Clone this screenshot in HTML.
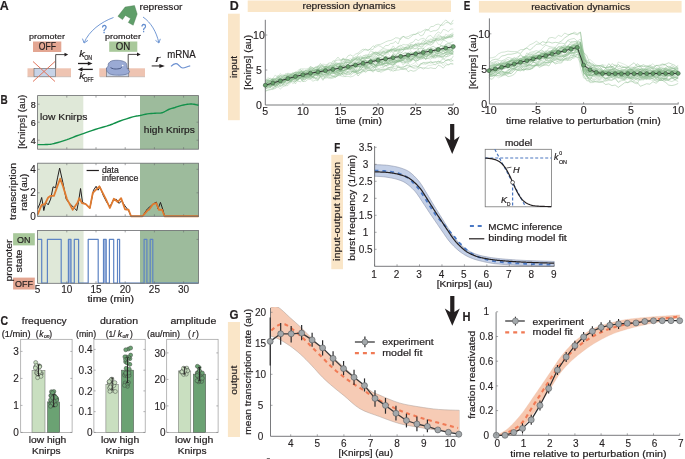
<!DOCTYPE html>
<html><head><meta charset="utf-8"><style>
html,body{margin:0;padding:0;background:#fff;overflow:hidden;}
svg{display:block;font-family:"Liberation Sans", sans-serif;will-change:transform;}
</style></head><body>
<svg width="685" height="459" viewBox="0 0 685 459">
<rect width="685" height="459" fill="#fff"/>
<text x="-0.2" y="10.3" font-size="13" fill="#231f20" stroke="#231f20" stroke-width="0.2" font-weight="bold" textLength="9.0" lengthAdjust="spacingAndGlyphs">A</text>
<polygon points="125.10,7.06 134.50,5.56 137.20,14.05 133.20,25.20 128.30,22.50 130.60,18.60 125.40,15.40 122.50,19.60 117.90,16.30" fill="#5f9e69" stroke="#4a7a52" stroke-width="0.4"/>
<text x="139.5" y="9.8" font-size="9.5" fill="#231f20" stroke="#231f20" stroke-width="0.2" textLength="43" lengthAdjust="spacingAndGlyphs">repressor</text>
<path d="M113.5,17.5 C101,22 89,31 84.2,42.6" fill="none" stroke="#5a87cc" stroke-width="0.85"/>
<polyline points="82.60,39.00 84.10,43.00 87.60,40.60" fill="none" stroke="#5a87cc" stroke-width="0.85" stroke-linejoin="round" stroke-linecap="round"/>
<path d="M143,17 C151,22.5 156.5,32 158.8,42.6" fill="none" stroke="#5a87cc" stroke-width="0.85"/>
<polyline points="155.80,40.60 158.90,43.00 160.20,39.20" fill="none" stroke="#5a87cc" stroke-width="0.85" stroke-linejoin="round" stroke-linecap="round"/>
<text x="101.8" y="33" font-size="10" fill="#5a87cc" stroke="#5a87cc" stroke-width="0.35" textLength="5" lengthAdjust="spacingAndGlyphs">?</text>
<text x="141.3" y="31.7" font-size="10" fill="#5a87cc" stroke="#5a87cc" stroke-width="0.35" textLength="5" lengthAdjust="spacingAndGlyphs">?</text>
<text x="29" y="39.3" font-size="8" fill="#231f20" stroke="#231f20" stroke-width="0.2" textLength="36" lengthAdjust="spacingAndGlyphs">promoter</text>
<rect x="33.00" y="41.50" width="28.30" height="10.50" fill="#e3a692" stroke="none" stroke-width="0.8"/>
<text x="38.7" y="49.9" font-size="10.2" fill="#231f20" stroke="#231f20" stroke-width="0.2" textLength="17.2" lengthAdjust="spacingAndGlyphs">OFF</text>
<text x="105" y="39.3" font-size="8" fill="#231f20" stroke="#231f20" stroke-width="0.2" textLength="36" lengthAdjust="spacingAndGlyphs">promoter</text>
<rect x="109.20" y="41.50" width="28.10" height="10.30" fill="#a9c99b" stroke="none" stroke-width="0.8"/>
<text x="115.7" y="49.9" font-size="10.2" fill="#231f20" stroke="#231f20" stroke-width="0.2" textLength="14.6" lengthAdjust="spacingAndGlyphs">ON</text>
<rect x="27.50" y="68.30" width="43.50" height="8.50" fill="#eec4b2" stroke="none" stroke-width="0.8"/>
<rect x="34.00" y="68.30" width="21.70" height="8.50" fill="#c7d3e7" stroke="#555" stroke-width="0.5"/>
<line x1="27.50" y1="76.80" x2="71.00" y2="76.80" stroke="#aaa" stroke-width="0.5"/>
<rect x="99.30" y="68.30" width="45.70" height="8.50" fill="#eec4b2" stroke="none" stroke-width="0.8"/>
<rect x="106.30" y="68.30" width="22.50" height="8.50" fill="#c7d3e7" stroke="#555" stroke-width="0.5"/>
<line x1="100.00" y1="76.80" x2="145.00" y2="76.80" stroke="#aaa" stroke-width="0.5"/>
<line x1="33.00" y1="61.50" x2="55.00" y2="81.50" stroke="#e2765e" stroke-width="1.0"/>
<line x1="33.00" y1="81.50" x2="55.00" y2="61.50" stroke="#e2765e" stroke-width="1.0"/>
<polyline points="55.70,68.30 55.70,54.60 65.00,54.60" fill="none" stroke="#231f20" stroke-width="0.8" stroke-linejoin="round"/>
<polygon points="64.50,52.80 68.20,54.60 64.50,56.40" fill="#231f20" stroke="none" stroke-width="0.5"/>
<polyline points="128.20,68.30 128.20,54.40 137.50,54.40" fill="none" stroke="#231f20" stroke-width="0.8" stroke-linejoin="round"/>
<polygon points="137.00,52.60 140.70,54.40 137.00,56.20" fill="#231f20" stroke="none" stroke-width="0.5"/>
<path d="M108.2,64.1 C109,62.3 110.5,61 113.1,60.5 C115,60.2 117,60.2 118.3,60.3 C120.5,60.5 122,60.8 123,61.2 C124.8,61.8 126,62.3 126.3,63.2 C126.8,64.5 126.9,66.5 127.4,68.8 C128,70 129.6,70.6 129.5,71.8 C129.3,73 127.5,73.9 126.1,74.3 C124,74.9 121.5,75.2 119.6,75.2 C117,75.2 114.5,75 113.1,74.8 C111,74.4 109.8,74.1 109.2,73.5 C107.5,72.5 106.6,71 106.5,69.6 C106.4,68.5 106.5,67.8 106.9,67.4 C107.4,66.8 108,66.3 108.2,66 Z" fill="#9aaad4" stroke="#56648e" stroke-width="0.6"/>
<path d="M110.5,67.6 C112.5,68.8 114.5,69.1 116.3,69 C118.5,68.9 120,68.6 120.9,68.2 C121.4,67.7 121.6,67 121.8,66.7" fill="none" stroke="#4a5a86" stroke-width="1.0"/>
<circle cx="122.7" cy="65.6" r="0.8" fill="#fff"/>
<text x="79.3" y="57.3" font-size="9" fill="#231f20" stroke="#231f20" stroke-width="0.2" font-style="italic" textLength="5.5" lengthAdjust="spacingAndGlyphs">k</text>
<text x="84.2" y="60.2" font-size="6.5" fill="#231f20" stroke="#231f20" stroke-width="0.2" textLength="8.0" lengthAdjust="spacingAndGlyphs">ON</text>
<text x="79.3" y="78.8" font-size="9" fill="#231f20" stroke="#231f20" stroke-width="0.2" font-style="italic" textLength="5.5" lengthAdjust="spacingAndGlyphs">k</text>
<text x="83.8" y="81.6" font-size="6.5" fill="#231f20" stroke="#231f20" stroke-width="0.2" textLength="9.8" lengthAdjust="spacingAndGlyphs">OFF</text>
<line x1="78.00" y1="63.50" x2="89.50" y2="63.50" stroke="#231f20" stroke-width="1.3"/>
<polygon points="87.80,61.40 92.50,63.50 87.80,65.60" fill="#231f20" stroke="none" stroke-width="0.5"/>
<line x1="81.00" y1="69.40" x2="92.80" y2="69.40" stroke="#231f20" stroke-width="1.3"/>
<polygon points="82.50,67.30 77.80,69.40 82.50,71.50" fill="#231f20" stroke="none" stroke-width="0.5"/>
<text x="155.4" y="62.1" font-size="9.5" fill="#231f20" stroke="#231f20" stroke-width="0.2" font-style="italic" textLength="4.6" lengthAdjust="spacingAndGlyphs">r</text>
<line x1="151.70" y1="65.95" x2="161.00" y2="65.95" stroke="#231f20" stroke-width="1.0"/>
<polygon points="159.40,63.90 164.80,65.95 159.40,68.00" fill="#231f20" stroke="none" stroke-width="0.5"/>
<text x="167.2" y="57.9" font-size="10.5" fill="#231f20" stroke="#231f20" stroke-width="0.2" textLength="28.5" lengthAdjust="spacingAndGlyphs">mRNA</text>
<path d="M171,66.3 C173,64.2 175.3,62.9 177.3,63.9 C179.4,65.1 180.4,68 182.8,68 C185.3,68 187.3,66.3 190.2,65.9" fill="none" stroke="#6a8fd0" stroke-width="1.2"/>
<text x="0.6" y="104.0" font-size="13" fill="#231f20" stroke="#231f20" stroke-width="0.2" font-weight="bold" textLength="7.2" lengthAdjust="spacingAndGlyphs">B</text>
<rect x="37.60" y="95.60" width="45.70" height="53.60" fill="#dfe8d8" stroke="none" stroke-width="0.8"/>
<rect x="140.00" y="95.60" width="58.50" height="53.60" fill="#9dbb9c" stroke="none" stroke-width="0.8"/>
<rect x="37.60" y="95.60" width="160.90" height="53.60" fill="none" stroke="#6a6b6e" stroke-width="0.8"/>
<line x1="37.60" y1="140.20" x2="39.60" y2="140.20" stroke="#6a6b6e" stroke-width="0.6"/>
<line x1="196.50" y1="140.20" x2="198.50" y2="140.20" stroke="#6a6b6e" stroke-width="0.6"/>
<text x="35.8" y="143.79999999999998" font-size="9" fill="#231f20" stroke="#231f20" stroke-width="0.2" text-anchor="end">4</text>
<line x1="37.60" y1="122.20" x2="39.60" y2="122.20" stroke="#6a6b6e" stroke-width="0.6"/>
<line x1="196.50" y1="122.20" x2="198.50" y2="122.20" stroke="#6a6b6e" stroke-width="0.6"/>
<text x="35.8" y="125.79999999999998" font-size="9" fill="#231f20" stroke="#231f20" stroke-width="0.2" text-anchor="end">6</text>
<line x1="37.60" y1="104.20" x2="39.60" y2="104.20" stroke="#6a6b6e" stroke-width="0.6"/>
<line x1="196.50" y1="104.20" x2="198.50" y2="104.20" stroke="#6a6b6e" stroke-width="0.6"/>
<text x="35.8" y="107.79999999999998" font-size="9" fill="#231f20" stroke="#231f20" stroke-width="0.2" text-anchor="end">8</text>
<line x1="66.80" y1="95.60" x2="66.80" y2="97.60" stroke="#6a6b6e" stroke-width="0.6"/>
<line x1="66.80" y1="147.20" x2="66.80" y2="149.20" stroke="#6a6b6e" stroke-width="0.6"/>
<line x1="96.00" y1="95.60" x2="96.00" y2="97.60" stroke="#6a6b6e" stroke-width="0.6"/>
<line x1="96.00" y1="147.20" x2="96.00" y2="149.20" stroke="#6a6b6e" stroke-width="0.6"/>
<line x1="125.20" y1="95.60" x2="125.20" y2="97.60" stroke="#6a6b6e" stroke-width="0.6"/>
<line x1="125.20" y1="147.20" x2="125.20" y2="149.20" stroke="#6a6b6e" stroke-width="0.6"/>
<line x1="154.40" y1="95.60" x2="154.40" y2="97.60" stroke="#6a6b6e" stroke-width="0.6"/>
<line x1="154.40" y1="147.20" x2="154.40" y2="149.20" stroke="#6a6b6e" stroke-width="0.6"/>
<line x1="183.60" y1="95.60" x2="183.60" y2="97.60" stroke="#6a6b6e" stroke-width="0.6"/>
<line x1="183.60" y1="147.20" x2="183.60" y2="149.20" stroke="#6a6b6e" stroke-width="0.6"/>
<text x="25" y="121.7" font-size="9.5" fill="#231f20" stroke="#231f20" stroke-width="0.2" text-anchor="middle" textLength="54" lengthAdjust="spacingAndGlyphs" transform="rotate(-90 25 121.7)">[Knirps] (au)</text>
<text x="40" y="120.1" font-size="9" fill="#231f20" stroke="#231f20" stroke-width="0.2" textLength="47.4" lengthAdjust="spacingAndGlyphs">low Knirps</text>
<text x="143.8" y="133.2" font-size="9" fill="#231f20" stroke="#231f20" stroke-width="0.2" textLength="51" lengthAdjust="spacingAndGlyphs">high Knirps</text>
<polyline points="37.60,144.60 38.75,144.61 40.39,144.62 42.24,144.63 44.00,144.60 45.62,144.56 47.24,144.51 48.89,144.40 50.60,144.20 52.36,143.89 54.15,143.50 56.02,143.03 58.00,142.50 60.16,141.89 62.46,141.19 64.78,140.45 67.00,139.70 69.06,138.92 71.04,138.11 73.00,137.29 75.00,136.50 76.97,135.78 78.92,135.11 80.98,134.40 83.30,133.60 85.91,132.67 88.73,131.65 91.76,130.58 95.00,129.50 98.64,128.39 102.61,127.24 106.52,126.10 110.00,125.00 112.79,123.97 115.14,122.98 117.43,122.00 120.00,121.00 123.11,119.92 126.52,118.79 129.84,117.74 132.70,116.90 134.90,116.36 136.68,116.04 138.29,115.80 140.00,115.50 141.84,115.09 143.68,114.66 145.53,114.24 147.40,113.90 149.30,113.65 151.23,113.48 153.14,113.33 155.00,113.20 156.80,113.15 158.56,113.16 160.29,113.10 162.00,112.80 163.68,112.15 165.34,111.25 166.97,110.30 168.60,109.50 170.21,108.91 171.79,108.42 173.38,107.98 175.00,107.50 176.64,106.96 178.29,106.41 179.98,105.87 181.70,105.40 183.54,104.98 185.46,104.61 187.32,104.30 189.00,104.10 190.42,104.02 191.68,104.05 192.84,104.15 194.00,104.30 195.27,104.54 196.56,104.86 197.70,105.18 198.50,105.40" fill="none" stroke="#12914a" stroke-width="1.4" stroke-linejoin="round"/>
<rect x="37.60" y="163.20" width="45.70" height="53.10" fill="#dfe8d8" stroke="none" stroke-width="0.8"/>
<rect x="140.00" y="163.20" width="58.50" height="53.10" fill="#9dbb9c" stroke="none" stroke-width="0.8"/>
<line x1="37.60" y1="216.30" x2="39.60" y2="216.30" stroke="#6a6b6e" stroke-width="0.6"/>
<line x1="196.50" y1="216.30" x2="198.50" y2="216.30" stroke="#6a6b6e" stroke-width="0.6"/>
<text x="35.8" y="219.9" font-size="10" fill="#231f20" stroke="#231f20" stroke-width="0.12" text-anchor="end">0</text>
<line x1="37.60" y1="192.80" x2="39.60" y2="192.80" stroke="#6a6b6e" stroke-width="0.6"/>
<line x1="196.50" y1="192.80" x2="198.50" y2="192.80" stroke="#6a6b6e" stroke-width="0.6"/>
<text x="35.8" y="196.4" font-size="10" fill="#231f20" stroke="#231f20" stroke-width="0.12" text-anchor="end">2</text>
<line x1="37.60" y1="169.30" x2="39.60" y2="169.30" stroke="#6a6b6e" stroke-width="0.6"/>
<line x1="196.50" y1="169.30" x2="198.50" y2="169.30" stroke="#6a6b6e" stroke-width="0.6"/>
<text x="35.8" y="172.9" font-size="10" fill="#231f20" stroke="#231f20" stroke-width="0.12" text-anchor="end">4</text>
<line x1="66.80" y1="163.20" x2="66.80" y2="165.20" stroke="#6a6b6e" stroke-width="0.6"/>
<line x1="66.80" y1="214.30" x2="66.80" y2="216.30" stroke="#6a6b6e" stroke-width="0.6"/>
<line x1="96.00" y1="163.20" x2="96.00" y2="165.20" stroke="#6a6b6e" stroke-width="0.6"/>
<line x1="96.00" y1="214.30" x2="96.00" y2="216.30" stroke="#6a6b6e" stroke-width="0.6"/>
<line x1="125.20" y1="163.20" x2="125.20" y2="165.20" stroke="#6a6b6e" stroke-width="0.6"/>
<line x1="125.20" y1="214.30" x2="125.20" y2="216.30" stroke="#6a6b6e" stroke-width="0.6"/>
<line x1="154.40" y1="163.20" x2="154.40" y2="165.20" stroke="#6a6b6e" stroke-width="0.6"/>
<line x1="154.40" y1="214.30" x2="154.40" y2="216.30" stroke="#6a6b6e" stroke-width="0.6"/>
<line x1="183.60" y1="163.20" x2="183.60" y2="165.20" stroke="#6a6b6e" stroke-width="0.6"/>
<line x1="183.60" y1="214.30" x2="183.60" y2="216.30" stroke="#6a6b6e" stroke-width="0.6"/>
<text x="15.6" y="191.4" font-size="9.2" fill="#231f20" stroke="#231f20" stroke-width="0.2" text-anchor="middle" textLength="57" lengthAdjust="spacingAndGlyphs" transform="rotate(-90 15.6 191.4)">transcription</text>
<text x="27.2" y="192.2" font-size="9.2" fill="#231f20" stroke="#231f20" stroke-width="0.2" text-anchor="middle" textLength="37" lengthAdjust="spacingAndGlyphs" transform="rotate(-90 27.2 192.2)">rate (au)</text>
<polyline points="37.58,208.92 39.71,204.02 41.67,197.48 42.81,204.02 43.79,210.56 45.75,202.39 48.20,204.84 50.65,199.12 53.10,186.86 55.56,187.68 57.52,177.88 59.64,168.07 62.91,182.78 66.18,199.12 68.63,202.39 73.53,207.29 76.80,210.56 78.43,202.39 80.56,188.50 82.52,202.39 85.78,204.02 89.87,208.10 93.50,190.20 96.10,186.30 98.10,190.20 100.00,186.90 103.30,195.50 106.60,202.00 109.90,206.60 113.80,199.40 116.50,199.40 119.10,203.40 121.70,200.70 125.00,206.00 128.59,210.56 131.05,216.27 142.48,216.27 147.39,208.92 153.10,204.02 156.37,202.06 158.01,208.92 160.46,202.39 162.91,209.74 164.54,216.27 198.53,216.27" fill="none" stroke="#231f20" stroke-width="1.0" stroke-linejoin="round"/>
<polyline points="37.58,214.64 41.67,204.84 44.93,204.02 48.20,197.48 50.65,195.85 53.92,195.85 60.13,178.69 62.91,186.05 66.99,199.12 72.71,209.74 77.61,202.39 79.25,198.30 82.19,203.20 85.78,204.02 89.87,208.10 92.80,192.90 99.40,186.30 106.00,199.40 109.90,208.00 113.80,198.80 117.80,202.00 121.10,198.10 125.00,209.30 128.59,209.74 131.05,216.27 142.48,216.27 147.39,210.56 149.02,209.74 153.10,204.02 156.37,203.20 158.82,209.74 162.09,209.74 164.54,216.27 198.53,216.27" fill="none" stroke="#e07b30" stroke-width="1.8" stroke-linejoin="round"/>
<rect x="37.60" y="163.20" width="160.90" height="53.10" fill="none" stroke="#6a6b6e" stroke-width="0.8"/>
<line x1="86.60" y1="170.50" x2="98.90" y2="170.50" stroke="#231f20" stroke-width="1.2"/>
<text x="102" y="173" font-size="8.5" fill="#231f20" stroke="#231f20" stroke-width="0.2" textLength="16.8" lengthAdjust="spacingAndGlyphs">data</text>
<text x="102" y="181.1" font-size="8.5" fill="#231f20" stroke="#231f20" stroke-width="0.2" textLength="36.4" lengthAdjust="spacingAndGlyphs">inference</text>
<rect x="37.60" y="230.40" width="46.00" height="52.90" fill="#dfe8d8" stroke="none" stroke-width="0.8"/>
<rect x="140.00" y="230.40" width="58.50" height="52.90" fill="#9dbb9c" stroke="none" stroke-width="0.8"/>
<rect x="68.40" y="239.40" width="2.60" height="43.60" fill="#9fb4dc" stroke="none" stroke-width="0.8"/>
<rect x="103.50" y="239.40" width="2.70" height="43.60" fill="#9fb4dc" stroke="none" stroke-width="0.8"/>
<polyline points="37.60,239.40 41.70,239.40 41.70,283.00 47.40,283.00 47.40,239.40 61.20,239.40 61.20,283.00 68.40,283.00 68.40,239.40 71.00,239.40 71.00,283.00 74.30,283.00 74.30,239.40 78.60,239.40 78.60,283.00 88.20,283.00 88.20,239.40 98.20,239.40 98.20,283.00 103.50,283.00 103.50,239.40 106.20,239.40 106.20,283.00 109.40,283.00 109.40,239.40 113.70,239.40 113.70,283.00 117.50,283.00 117.50,239.40 119.60,239.40 119.60,283.00 144.10,283.00 144.10,239.40 146.90,239.40 146.90,283.00 150.20,283.00 150.20,239.40 152.80,239.40 152.80,283.00 198.50,283.00" fill="none" stroke="#5d84c4" stroke-width="1.2" stroke-linejoin="round" stroke-linejoin="miter"/>
<rect x="37.60" y="230.40" width="160.90" height="52.90" fill="none" stroke="#6a6b6e" stroke-width="0.8"/>
<line x1="66.80" y1="230.40" x2="66.80" y2="232.40" stroke="#6a6b6e" stroke-width="0.6"/>
<line x1="66.80" y1="281.30" x2="66.80" y2="283.30" stroke="#6a6b6e" stroke-width="0.6"/>
<line x1="96.00" y1="230.40" x2="96.00" y2="232.40" stroke="#6a6b6e" stroke-width="0.6"/>
<line x1="96.00" y1="281.30" x2="96.00" y2="283.30" stroke="#6a6b6e" stroke-width="0.6"/>
<line x1="125.20" y1="230.40" x2="125.20" y2="232.40" stroke="#6a6b6e" stroke-width="0.6"/>
<line x1="125.20" y1="281.30" x2="125.20" y2="283.30" stroke="#6a6b6e" stroke-width="0.6"/>
<line x1="154.40" y1="230.40" x2="154.40" y2="232.40" stroke="#6a6b6e" stroke-width="0.6"/>
<line x1="154.40" y1="281.30" x2="154.40" y2="283.30" stroke="#6a6b6e" stroke-width="0.6"/>
<line x1="183.60" y1="230.40" x2="183.60" y2="232.40" stroke="#6a6b6e" stroke-width="0.6"/>
<line x1="183.60" y1="281.30" x2="183.60" y2="283.30" stroke="#6a6b6e" stroke-width="0.6"/>
<line x1="196.50" y1="239.40" x2="198.50" y2="239.40" stroke="#6a6b6e" stroke-width="0.6"/>
<rect x="13.10" y="233.20" width="21.70" height="12.20" fill="#a9c99b" stroke="none" stroke-width="0.8"/>
<text x="17" y="243" font-size="9.4" fill="#231f20" stroke="#231f20" stroke-width="0.2" textLength="13.4" lengthAdjust="spacingAndGlyphs">ON</text>
<rect x="13.10" y="277.60" width="21.70" height="11.90" fill="#e3a692" stroke="none" stroke-width="0.8"/>
<text x="15" y="287.4" font-size="9.4" fill="#231f20" stroke="#231f20" stroke-width="0.2" textLength="18" lengthAdjust="spacingAndGlyphs">OFF</text>
<text x="11.6" y="260.5" font-size="9.2" fill="#231f20" stroke="#231f20" stroke-width="0.2" text-anchor="middle" textLength="42" lengthAdjust="spacingAndGlyphs" transform="rotate(-90 11.6 260.5)">promoter</text>
<text x="21.6" y="261" font-size="9.2" fill="#231f20" stroke="#231f20" stroke-width="0.2" text-anchor="middle" textLength="23" lengthAdjust="spacingAndGlyphs" transform="rotate(-90 21.6 261)">state</text>
<text x="37.6" y="293.4" font-size="10" fill="#231f20" stroke="#231f20" stroke-width="0.12" text-anchor="middle">5</text>
<text x="66.8" y="293.4" font-size="10" fill="#231f20" stroke="#231f20" stroke-width="0.12" text-anchor="middle">10</text>
<text x="96.0" y="293.4" font-size="10" fill="#231f20" stroke="#231f20" stroke-width="0.12" text-anchor="middle">15</text>
<text x="125.19999999999999" y="293.4" font-size="10" fill="#231f20" stroke="#231f20" stroke-width="0.12" text-anchor="middle">20</text>
<text x="154.4" y="293.4" font-size="10" fill="#231f20" stroke="#231f20" stroke-width="0.12" text-anchor="middle">25</text>
<text x="183.6" y="293.4" font-size="10" fill="#231f20" stroke="#231f20" stroke-width="0.12" text-anchor="middle">30</text>
<text x="87.4" y="301.7" font-size="8.5" fill="#231f20" stroke="#231f20" stroke-width="0.2" textLength="46.6" lengthAdjust="spacingAndGlyphs">time (min)</text>
<text x="0.6" y="324.9" font-size="13" fill="#231f20" stroke="#231f20" stroke-width="0.2" font-weight="bold" textLength="7.6" lengthAdjust="spacingAndGlyphs">C</text>
<rect x="20.70" y="339.30" width="51.40" height="93.10" fill="none" stroke="#9a9a9a" stroke-width="0.7"/>
<rect x="32.00" y="370.30" width="13.00" height="62.10" fill="#c9dfc0" stroke="#6b6b6b" stroke-width="0.5"/>
<rect x="47.50" y="401.89" width="12.20" height="30.51" fill="#6ba273" stroke="#4b4b4b" stroke-width="0.5"/>
<circle cx="37.37" cy="372.67" r="2.0" fill="#c9dfc0" stroke="#3a3f3a" stroke-width="0.45"/>
<circle cx="37.64" cy="371.52" r="2.0" fill="#c9dfc0" stroke="#3a3f3a" stroke-width="0.45"/>
<circle cx="35.75" cy="366.64" r="2.0" fill="#c9dfc0" stroke="#3a3f3a" stroke-width="0.45"/>
<circle cx="41.37" cy="373.53" r="2.0" fill="#c9dfc0" stroke="#3a3f3a" stroke-width="0.45"/>
<circle cx="36.46" cy="372.76" r="2.0" fill="#c9dfc0" stroke="#3a3f3a" stroke-width="0.45"/>
<circle cx="35.70" cy="362.49" r="2.0" fill="#c9dfc0" stroke="#3a3f3a" stroke-width="0.45"/>
<circle cx="37.31" cy="373.74" r="2.0" fill="#c9dfc0" stroke="#3a3f3a" stroke-width="0.45"/>
<circle cx="39.77" cy="366.16" r="2.0" fill="#c9dfc0" stroke="#3a3f3a" stroke-width="0.45"/>
<circle cx="39.97" cy="373.49" r="2.0" fill="#c9dfc0" stroke="#3a3f3a" stroke-width="0.45"/>
<circle cx="40.15" cy="374.47" r="2.0" fill="#c9dfc0" stroke="#3a3f3a" stroke-width="0.45"/>
<circle cx="40.19" cy="373.41" r="2.0" fill="#c9dfc0" stroke="#3a3f3a" stroke-width="0.45"/>
<circle cx="39.10" cy="365.89" r="2.0" fill="#c9dfc0" stroke="#3a3f3a" stroke-width="0.45"/>
<circle cx="38.33" cy="375.15" r="2.0" fill="#c9dfc0" stroke="#3a3f3a" stroke-width="0.45"/>
<circle cx="39.58" cy="366.81" r="2.0" fill="#c9dfc0" stroke="#3a3f3a" stroke-width="0.45"/>
<circle cx="36.13" cy="367.08" r="2.0" fill="#c9dfc0" stroke="#3a3f3a" stroke-width="0.45"/>
<circle cx="40.95" cy="376.38" r="2.0" fill="#c9dfc0" stroke="#3a3f3a" stroke-width="0.45"/>
<circle cx="37.60" cy="377.67" r="2.0" fill="#c9dfc0" stroke="#3a3f3a" stroke-width="0.45"/>
<circle cx="36.78" cy="365.36" r="2.0" fill="#c9dfc0" stroke="#3a3f3a" stroke-width="0.45"/>
<circle cx="35.33" cy="368.04" r="2.0" fill="#c9dfc0" stroke="#3a3f3a" stroke-width="0.45"/>
<circle cx="39.72" cy="371.66" r="2.0" fill="#c9dfc0" stroke="#3a3f3a" stroke-width="0.45"/>
<circle cx="51.06" cy="395.87" r="2.0" fill="#6ba273" stroke="#3a3f3a" stroke-width="0.45"/>
<circle cx="50.74" cy="402.79" r="2.0" fill="#6ba273" stroke="#3a3f3a" stroke-width="0.45"/>
<circle cx="54.33" cy="395.54" r="2.0" fill="#6ba273" stroke="#3a3f3a" stroke-width="0.45"/>
<circle cx="51.19" cy="403.61" r="2.0" fill="#6ba273" stroke="#3a3f3a" stroke-width="0.45"/>
<circle cx="50.95" cy="395.45" r="2.0" fill="#6ba273" stroke="#3a3f3a" stroke-width="0.45"/>
<circle cx="51.43" cy="391.70" r="2.0" fill="#6ba273" stroke="#3a3f3a" stroke-width="0.45"/>
<circle cx="53.88" cy="391.46" r="2.0" fill="#6ba273" stroke="#3a3f3a" stroke-width="0.45"/>
<circle cx="52.75" cy="394.13" r="2.0" fill="#6ba273" stroke="#3a3f3a" stroke-width="0.45"/>
<circle cx="52.51" cy="392.67" r="2.0" fill="#6ba273" stroke="#3a3f3a" stroke-width="0.45"/>
<circle cx="55.14" cy="404.37" r="2.0" fill="#6ba273" stroke="#3a3f3a" stroke-width="0.45"/>
<circle cx="52.06" cy="401.73" r="2.0" fill="#6ba273" stroke="#3a3f3a" stroke-width="0.45"/>
<circle cx="56.72" cy="399.19" r="2.0" fill="#6ba273" stroke="#3a3f3a" stroke-width="0.45"/>
<circle cx="54.39" cy="396.52" r="2.0" fill="#6ba273" stroke="#3a3f3a" stroke-width="0.45"/>
<circle cx="55.41" cy="404.77" r="2.0" fill="#6ba273" stroke="#3a3f3a" stroke-width="0.45"/>
<circle cx="52.53" cy="403.52" r="2.0" fill="#6ba273" stroke="#3a3f3a" stroke-width="0.45"/>
<circle cx="56.46" cy="398.25" r="2.0" fill="#6ba273" stroke="#3a3f3a" stroke-width="0.45"/>
<circle cx="56.67" cy="400.13" r="2.0" fill="#6ba273" stroke="#3a3f3a" stroke-width="0.45"/>
<circle cx="50.49" cy="399.88" r="2.0" fill="#6ba273" stroke="#3a3f3a" stroke-width="0.45"/>
<circle cx="55.69" cy="397.42" r="2.0" fill="#6ba273" stroke="#3a3f3a" stroke-width="0.45"/>
<circle cx="54.15" cy="401.24" r="2.0" fill="#6ba273" stroke="#3a3f3a" stroke-width="0.45"/>
<circle cx="52.66" cy="397.85" r="2.0" fill="#6ba273" stroke="#3a3f3a" stroke-width="0.45"/>
<circle cx="50.52" cy="406.27" r="2.0" fill="#6ba273" stroke="#3a3f3a" stroke-width="0.45"/>
<line x1="38.50" y1="364.90" x2="38.50" y2="375.70" stroke="#231f20" stroke-width="0.9"/>
<line x1="37.00" y1="364.90" x2="40.00" y2="364.90" stroke="#231f20" stroke-width="0.7"/>
<line x1="37.00" y1="375.70" x2="40.00" y2="375.70" stroke="#231f20" stroke-width="0.7"/>
<line x1="53.60" y1="394.60" x2="53.60" y2="406.75" stroke="#231f20" stroke-width="0.9"/>
<line x1="52.10" y1="394.60" x2="55.10" y2="394.60" stroke="#231f20" stroke-width="0.7"/>
<line x1="52.10" y1="406.75" x2="55.10" y2="406.75" stroke="#231f20" stroke-width="0.7"/>
<line x1="20.70" y1="432.40" x2="22.50" y2="432.40" stroke="#6a6b6e" stroke-width="0.5"/>
<line x1="70.30" y1="432.40" x2="72.10" y2="432.40" stroke="#6a6b6e" stroke-width="0.5"/>
<text x="18.8" y="436.0" font-size="10" fill="#231f20" stroke="#231f20" stroke-width="0.12" text-anchor="end">0</text>
<line x1="20.70" y1="405.40" x2="22.50" y2="405.40" stroke="#6a6b6e" stroke-width="0.5"/>
<line x1="70.30" y1="405.40" x2="72.10" y2="405.40" stroke="#6a6b6e" stroke-width="0.5"/>
<text x="18.8" y="409.0" font-size="10" fill="#231f20" stroke="#231f20" stroke-width="0.12" text-anchor="end">1</text>
<line x1="20.70" y1="378.40" x2="22.50" y2="378.40" stroke="#6a6b6e" stroke-width="0.5"/>
<line x1="70.30" y1="378.40" x2="72.10" y2="378.40" stroke="#6a6b6e" stroke-width="0.5"/>
<text x="18.8" y="382.0" font-size="10" fill="#231f20" stroke="#231f20" stroke-width="0.12" text-anchor="end">2</text>
<line x1="20.70" y1="351.40" x2="22.50" y2="351.40" stroke="#6a6b6e" stroke-width="0.5"/>
<line x1="70.30" y1="351.40" x2="72.10" y2="351.40" stroke="#6a6b6e" stroke-width="0.5"/>
<text x="18.8" y="355.0" font-size="10" fill="#231f20" stroke="#231f20" stroke-width="0.12" text-anchor="end">3</text>
<text x="21.8" y="324" font-size="9.5" fill="#231f20" stroke="#231f20" stroke-width="0.2" textLength="44.9" lengthAdjust="spacingAndGlyphs">frequency</text>
<text x="1.7" y="336.8" font-size="8.8" fill="#231f20" stroke="#231f20" stroke-width="0.2" textLength="28.8" lengthAdjust="spacingAndGlyphs">(1/min)</text>
<text x="35.7" y="336.5" font-size="8.5" fill="#231f20" stroke="#231f20" stroke-width="0.2">(</text>
<text x="39.3" y="336.5" font-size="8.5" fill="#231f20" stroke="#231f20" stroke-width="0.2" font-style="italic">k</text>
<text x="44" y="338" font-size="5" fill="#231f20" stroke="#231f20" stroke-width="0.2" font-style="italic">on</text>
<text x="49.3" y="336.5" font-size="8.5" fill="#231f20" stroke="#231f20" stroke-width="0.2">)</text>
<text x="28.7" y="442.7" font-size="9" fill="#231f20" stroke="#231f20" stroke-width="0.2" textLength="37.6" lengthAdjust="spacingAndGlyphs">low high</text>
<text x="32" y="453.6" font-size="9" fill="#231f20" stroke="#231f20" stroke-width="0.2" textLength="28.5" lengthAdjust="spacingAndGlyphs">Knirps</text>
<rect x="93.90" y="339.30" width="51.30" height="93.10" fill="none" stroke="#9a9a9a" stroke-width="0.7"/>
<rect x="105.90" y="384.26" width="12.50" height="48.14" fill="#c9dfc0" stroke="#6b6b6b" stroke-width="0.5"/>
<rect x="121.40" y="370.15" width="12.20" height="62.25" fill="#6ba273" stroke="#4b4b4b" stroke-width="0.5"/>
<circle cx="110.10" cy="383.17" r="2.0" fill="#c9dfc0" stroke="#3a3f3a" stroke-width="0.45"/>
<circle cx="112.32" cy="390.28" r="2.0" fill="#c9dfc0" stroke="#3a3f3a" stroke-width="0.45"/>
<circle cx="110.59" cy="381.17" r="2.0" fill="#c9dfc0" stroke="#3a3f3a" stroke-width="0.45"/>
<circle cx="113.86" cy="385.57" r="2.0" fill="#c9dfc0" stroke="#3a3f3a" stroke-width="0.45"/>
<circle cx="111.90" cy="379.15" r="2.0" fill="#c9dfc0" stroke="#3a3f3a" stroke-width="0.45"/>
<circle cx="110.66" cy="390.06" r="2.0" fill="#c9dfc0" stroke="#3a3f3a" stroke-width="0.45"/>
<circle cx="109.46" cy="383.54" r="2.0" fill="#c9dfc0" stroke="#3a3f3a" stroke-width="0.45"/>
<circle cx="109.92" cy="391.36" r="2.0" fill="#c9dfc0" stroke="#3a3f3a" stroke-width="0.45"/>
<circle cx="111.55" cy="384.98" r="2.0" fill="#c9dfc0" stroke="#3a3f3a" stroke-width="0.45"/>
<circle cx="111.17" cy="379.57" r="2.0" fill="#c9dfc0" stroke="#3a3f3a" stroke-width="0.45"/>
<circle cx="109.12" cy="381.87" r="2.0" fill="#c9dfc0" stroke="#3a3f3a" stroke-width="0.45"/>
<circle cx="115.30" cy="391.50" r="2.0" fill="#c9dfc0" stroke="#3a3f3a" stroke-width="0.45"/>
<circle cx="109.25" cy="381.57" r="2.0" fill="#c9dfc0" stroke="#3a3f3a" stroke-width="0.45"/>
<circle cx="114.88" cy="382.62" r="2.0" fill="#c9dfc0" stroke="#3a3f3a" stroke-width="0.45"/>
<circle cx="109.46" cy="388.00" r="2.0" fill="#c9dfc0" stroke="#3a3f3a" stroke-width="0.45"/>
<circle cx="110.53" cy="386.89" r="2.0" fill="#c9dfc0" stroke="#3a3f3a" stroke-width="0.45"/>
<circle cx="126.15" cy="368.33" r="2.0" fill="#6ba273" stroke="#3a3f3a" stroke-width="0.45"/>
<circle cx="125.18" cy="382.95" r="2.0" fill="#6ba273" stroke="#3a3f3a" stroke-width="0.45"/>
<circle cx="130.63" cy="355.09" r="2.0" fill="#6ba273" stroke="#3a3f3a" stroke-width="0.45"/>
<circle cx="129.91" cy="358.65" r="2.0" fill="#6ba273" stroke="#3a3f3a" stroke-width="0.45"/>
<circle cx="126.37" cy="375.66" r="2.0" fill="#6ba273" stroke="#3a3f3a" stroke-width="0.45"/>
<circle cx="126.40" cy="356.94" r="2.0" fill="#6ba273" stroke="#3a3f3a" stroke-width="0.45"/>
<circle cx="124.51" cy="375.07" r="2.0" fill="#6ba273" stroke="#3a3f3a" stroke-width="0.45"/>
<circle cx="125.64" cy="373.92" r="2.0" fill="#6ba273" stroke="#3a3f3a" stroke-width="0.45"/>
<circle cx="125.80" cy="373.00" r="2.0" fill="#6ba273" stroke="#3a3f3a" stroke-width="0.45"/>
<circle cx="127.52" cy="386.26" r="2.0" fill="#6ba273" stroke="#3a3f3a" stroke-width="0.45"/>
<circle cx="124.55" cy="385.35" r="2.0" fill="#6ba273" stroke="#3a3f3a" stroke-width="0.45"/>
<circle cx="125.58" cy="361.87" r="2.0" fill="#6ba273" stroke="#3a3f3a" stroke-width="0.45"/>
<circle cx="129.06" cy="375.45" r="2.0" fill="#6ba273" stroke="#3a3f3a" stroke-width="0.45"/>
<circle cx="128.53" cy="349.03" r="2.0" fill="#6ba273" stroke="#3a3f3a" stroke-width="0.45"/>
<circle cx="124.90" cy="356.83" r="2.0" fill="#6ba273" stroke="#3a3f3a" stroke-width="0.45"/>
<circle cx="129.85" cy="364.36" r="2.0" fill="#6ba273" stroke="#3a3f3a" stroke-width="0.45"/>
<circle cx="125.56" cy="359.49" r="2.0" fill="#6ba273" stroke="#3a3f3a" stroke-width="0.45"/>
<circle cx="128.80" cy="357.47" r="2.0" fill="#6ba273" stroke="#3a3f3a" stroke-width="0.45"/>
<circle cx="127.52" cy="383.98" r="2.0" fill="#6ba273" stroke="#3a3f3a" stroke-width="0.45"/>
<circle cx="125.72" cy="349.78" r="2.0" fill="#6ba273" stroke="#3a3f3a" stroke-width="0.45"/>
<circle cx="127.46" cy="358.49" r="2.0" fill="#6ba273" stroke="#3a3f3a" stroke-width="0.45"/>
<circle cx="128.34" cy="382.51" r="2.0" fill="#6ba273" stroke="#3a3f3a" stroke-width="0.45"/>
<circle cx="129.25" cy="369.14" r="2.0" fill="#6ba273" stroke="#3a3f3a" stroke-width="0.45"/>
<circle cx="128.88" cy="372.98" r="2.0" fill="#6ba273" stroke="#3a3f3a" stroke-width="0.45"/>
<circle cx="127.26" cy="362.92" r="2.0" fill="#6ba273" stroke="#3a3f3a" stroke-width="0.45"/>
<circle cx="130.64" cy="348.00" r="2.0" fill="#6ba273" stroke="#3a3f3a" stroke-width="0.45"/>
<line x1="112.20" y1="378.03" x2="112.20" y2="389.86" stroke="#231f20" stroke-width="0.9"/>
<line x1="110.70" y1="378.03" x2="113.70" y2="378.03" stroke="#231f20" stroke-width="0.7"/>
<line x1="110.70" y1="389.86" x2="113.70" y2="389.86" stroke="#231f20" stroke-width="0.7"/>
<line x1="127.50" y1="357.70" x2="127.50" y2="382.60" stroke="#231f20" stroke-width="0.9"/>
<line x1="126.00" y1="357.70" x2="129.00" y2="357.70" stroke="#231f20" stroke-width="0.7"/>
<line x1="126.00" y1="382.60" x2="129.00" y2="382.60" stroke="#231f20" stroke-width="0.7"/>
<line x1="93.90" y1="432.40" x2="95.70" y2="432.40" stroke="#6a6b6e" stroke-width="0.5"/>
<line x1="143.40" y1="432.40" x2="145.20" y2="432.40" stroke="#6a6b6e" stroke-width="0.5"/>
<text x="92.5" y="436.0" font-size="10" fill="#231f20" stroke="#231f20" stroke-width="0.12" text-anchor="end">0</text>
<line x1="93.90" y1="411.65" x2="95.70" y2="411.65" stroke="#6a6b6e" stroke-width="0.5"/>
<line x1="143.40" y1="411.65" x2="145.20" y2="411.65" stroke="#6a6b6e" stroke-width="0.5"/>
<text x="92.5" y="415.25" font-size="10" fill="#231f20" stroke="#231f20" stroke-width="0.12" text-anchor="end">0.1</text>
<line x1="93.90" y1="390.90" x2="95.70" y2="390.90" stroke="#6a6b6e" stroke-width="0.5"/>
<line x1="143.40" y1="390.90" x2="145.20" y2="390.90" stroke="#6a6b6e" stroke-width="0.5"/>
<text x="92.5" y="394.5" font-size="10" fill="#231f20" stroke="#231f20" stroke-width="0.12" text-anchor="end">0.2</text>
<line x1="93.90" y1="370.15" x2="95.70" y2="370.15" stroke="#6a6b6e" stroke-width="0.5"/>
<line x1="143.40" y1="370.15" x2="145.20" y2="370.15" stroke="#6a6b6e" stroke-width="0.5"/>
<text x="92.5" y="373.75" font-size="10" fill="#231f20" stroke="#231f20" stroke-width="0.12" text-anchor="end">0.3</text>
<line x1="93.90" y1="349.40" x2="95.70" y2="349.40" stroke="#6a6b6e" stroke-width="0.5"/>
<line x1="143.40" y1="349.40" x2="145.20" y2="349.40" stroke="#6a6b6e" stroke-width="0.5"/>
<text x="92.5" y="353.0" font-size="10" fill="#231f20" stroke="#231f20" stroke-width="0.12" text-anchor="end">0.4</text>
<text x="100" y="324" font-size="9.5" fill="#231f20" stroke="#231f20" stroke-width="0.2" textLength="38" lengthAdjust="spacingAndGlyphs">duration</text>
<text x="76.1" y="336.8" font-size="8.8" fill="#231f20" stroke="#231f20" stroke-width="0.2" textLength="20" lengthAdjust="spacingAndGlyphs">(min)</text>
<text x="105.7" y="336.5" font-size="8.5" fill="#231f20" stroke="#231f20" stroke-width="0.2">(1/</text>
<text x="117.8" y="336.5" font-size="8.5" fill="#231f20" stroke="#231f20" stroke-width="0.2" font-style="italic">k</text>
<text x="122.5" y="338" font-size="5" fill="#231f20" stroke="#231f20" stroke-width="0.2" font-style="italic">off</text>
<text x="130" y="336.5" font-size="8.5" fill="#231f20" stroke="#231f20" stroke-width="0.2">)</text>
<text x="101" y="442.7" font-size="9" fill="#231f20" stroke="#231f20" stroke-width="0.2" textLength="38.2" lengthAdjust="spacingAndGlyphs">low high</text>
<text x="105.5" y="453.6" font-size="9" fill="#231f20" stroke="#231f20" stroke-width="0.2" textLength="28.5" lengthAdjust="spacingAndGlyphs">Knirps</text>
<rect x="166.70" y="339.30" width="51.40" height="93.10" fill="none" stroke="#9a9a9a" stroke-width="0.7"/>
<rect x="178.40" y="370.92" width="12.40" height="61.48" fill="#c9dfc0" stroke="#6b6b6b" stroke-width="0.5"/>
<rect x="193.30" y="374.10" width="12.40" height="58.30" fill="#6ba273" stroke="#4b4b4b" stroke-width="0.5"/>
<circle cx="184.28" cy="369.31" r="2.0" fill="#c9dfc0" stroke="#3a3f3a" stroke-width="0.45"/>
<circle cx="184.75" cy="369.52" r="2.0" fill="#c9dfc0" stroke="#3a3f3a" stroke-width="0.45"/>
<circle cx="181.42" cy="372.08" r="2.0" fill="#c9dfc0" stroke="#3a3f3a" stroke-width="0.45"/>
<circle cx="183.60" cy="374.42" r="2.0" fill="#c9dfc0" stroke="#3a3f3a" stroke-width="0.45"/>
<circle cx="186.77" cy="368.14" r="2.0" fill="#c9dfc0" stroke="#3a3f3a" stroke-width="0.45"/>
<circle cx="183.25" cy="371.07" r="2.0" fill="#c9dfc0" stroke="#3a3f3a" stroke-width="0.45"/>
<circle cx="183.16" cy="371.60" r="2.0" fill="#c9dfc0" stroke="#3a3f3a" stroke-width="0.45"/>
<circle cx="187.52" cy="370.36" r="2.0" fill="#c9dfc0" stroke="#3a3f3a" stroke-width="0.45"/>
<circle cx="186.22" cy="374.10" r="2.0" fill="#c9dfc0" stroke="#3a3f3a" stroke-width="0.45"/>
<circle cx="182.21" cy="372.00" r="2.0" fill="#c9dfc0" stroke="#3a3f3a" stroke-width="0.45"/>
<circle cx="187.65" cy="370.72" r="2.0" fill="#c9dfc0" stroke="#3a3f3a" stroke-width="0.45"/>
<circle cx="183.92" cy="370.63" r="2.0" fill="#c9dfc0" stroke="#3a3f3a" stroke-width="0.45"/>
<circle cx="184.58" cy="371.75" r="2.0" fill="#c9dfc0" stroke="#3a3f3a" stroke-width="0.45"/>
<circle cx="181.98" cy="371.69" r="2.0" fill="#c9dfc0" stroke="#3a3f3a" stroke-width="0.45"/>
<circle cx="185.05" cy="370.38" r="2.0" fill="#c9dfc0" stroke="#3a3f3a" stroke-width="0.45"/>
<circle cx="183.56" cy="368.23" r="2.0" fill="#c9dfc0" stroke="#3a3f3a" stroke-width="0.45"/>
<circle cx="201.82" cy="373.89" r="2.0" fill="#6ba273" stroke="#3a3f3a" stroke-width="0.45"/>
<circle cx="199.15" cy="367.49" r="2.0" fill="#6ba273" stroke="#3a3f3a" stroke-width="0.45"/>
<circle cx="201.58" cy="381.42" r="2.0" fill="#6ba273" stroke="#3a3f3a" stroke-width="0.45"/>
<circle cx="197.29" cy="372.78" r="2.0" fill="#6ba273" stroke="#3a3f3a" stroke-width="0.45"/>
<circle cx="199.23" cy="377.80" r="2.0" fill="#6ba273" stroke="#3a3f3a" stroke-width="0.45"/>
<circle cx="197.91" cy="376.03" r="2.0" fill="#6ba273" stroke="#3a3f3a" stroke-width="0.45"/>
<circle cx="198.78" cy="381.84" r="2.0" fill="#6ba273" stroke="#3a3f3a" stroke-width="0.45"/>
<circle cx="199.25" cy="370.81" r="2.0" fill="#6ba273" stroke="#3a3f3a" stroke-width="0.45"/>
<circle cx="198.99" cy="380.60" r="2.0" fill="#6ba273" stroke="#3a3f3a" stroke-width="0.45"/>
<circle cx="198.99" cy="372.51" r="2.0" fill="#6ba273" stroke="#3a3f3a" stroke-width="0.45"/>
<circle cx="199.53" cy="372.64" r="2.0" fill="#6ba273" stroke="#3a3f3a" stroke-width="0.45"/>
<circle cx="197.78" cy="373.21" r="2.0" fill="#6ba273" stroke="#3a3f3a" stroke-width="0.45"/>
<circle cx="199.47" cy="370.93" r="2.0" fill="#6ba273" stroke="#3a3f3a" stroke-width="0.45"/>
<circle cx="202.37" cy="372.98" r="2.0" fill="#6ba273" stroke="#3a3f3a" stroke-width="0.45"/>
<circle cx="197.21" cy="375.43" r="2.0" fill="#6ba273" stroke="#3a3f3a" stroke-width="0.45"/>
<circle cx="202.29" cy="378.25" r="2.0" fill="#6ba273" stroke="#3a3f3a" stroke-width="0.45"/>
<circle cx="197.38" cy="366.27" r="2.0" fill="#6ba273" stroke="#3a3f3a" stroke-width="0.45"/>
<circle cx="197.09" cy="380.74" r="2.0" fill="#6ba273" stroke="#3a3f3a" stroke-width="0.45"/>
<line x1="184.60" y1="367.21" x2="184.60" y2="374.10" stroke="#231f20" stroke-width="0.9"/>
<line x1="183.10" y1="367.21" x2="186.10" y2="367.21" stroke="#231f20" stroke-width="0.7"/>
<line x1="183.10" y1="374.10" x2="186.10" y2="374.10" stroke="#231f20" stroke-width="0.7"/>
<line x1="199.50" y1="367.47" x2="199.50" y2="380.72" stroke="#231f20" stroke-width="0.9"/>
<line x1="198.00" y1="367.47" x2="201.00" y2="367.47" stroke="#231f20" stroke-width="0.7"/>
<line x1="198.00" y1="380.72" x2="201.00" y2="380.72" stroke="#231f20" stroke-width="0.7"/>
<line x1="166.70" y1="432.40" x2="168.50" y2="432.40" stroke="#6a6b6e" stroke-width="0.5"/>
<line x1="216.30" y1="432.40" x2="218.10" y2="432.40" stroke="#6a6b6e" stroke-width="0.5"/>
<text x="165.5" y="436.0" font-size="10" fill="#231f20" stroke="#231f20" stroke-width="0.12" text-anchor="end">0</text>
<line x1="166.70" y1="405.90" x2="168.50" y2="405.90" stroke="#6a6b6e" stroke-width="0.5"/>
<line x1="216.30" y1="405.90" x2="218.10" y2="405.90" stroke="#6a6b6e" stroke-width="0.5"/>
<text x="165.5" y="409.5" font-size="10" fill="#231f20" stroke="#231f20" stroke-width="0.12" text-anchor="end">10</text>
<line x1="166.70" y1="379.40" x2="168.50" y2="379.40" stroke="#6a6b6e" stroke-width="0.5"/>
<line x1="216.30" y1="379.40" x2="218.10" y2="379.40" stroke="#6a6b6e" stroke-width="0.5"/>
<text x="165.5" y="383.0" font-size="10" fill="#231f20" stroke="#231f20" stroke-width="0.12" text-anchor="end">20</text>
<line x1="166.70" y1="352.90" x2="168.50" y2="352.90" stroke="#6a6b6e" stroke-width="0.5"/>
<line x1="216.30" y1="352.90" x2="218.10" y2="352.90" stroke="#6a6b6e" stroke-width="0.5"/>
<text x="165.5" y="356.5" font-size="10" fill="#231f20" stroke="#231f20" stroke-width="0.12" text-anchor="end">30</text>
<text x="170.5" y="324" font-size="9.5" fill="#231f20" stroke="#231f20" stroke-width="0.2" textLength="45.8" lengthAdjust="spacingAndGlyphs">amplitude</text>
<text x="147" y="336.8" font-size="8.8" fill="#231f20" stroke="#231f20" stroke-width="0.2" textLength="33" lengthAdjust="spacingAndGlyphs">(au/min)</text>
<text x="188" y="336.5" font-size="8.5" fill="#231f20" stroke="#231f20" stroke-width="0.2">(</text>
<text x="192.3" y="336.5" font-size="8.5" fill="#231f20" stroke="#231f20" stroke-width="0.2" font-style="italic">r</text>
<text x="196" y="336.5" font-size="8.5" fill="#231f20" stroke="#231f20" stroke-width="0.2">)</text>
<text x="174.9" y="442.7" font-size="9" fill="#231f20" stroke="#231f20" stroke-width="0.2" textLength="38.4" lengthAdjust="spacingAndGlyphs">low high</text>
<text x="177.8" y="453.6" font-size="9" fill="#231f20" stroke="#231f20" stroke-width="0.2" textLength="28.7" lengthAdjust="spacingAndGlyphs">Knirps</text>
<text x="229.7" y="10.1" font-size="13" fill="#231f20" stroke="#231f20" stroke-width="0.2" font-weight="bold" textLength="9.0" lengthAdjust="spacingAndGlyphs">D</text>
<rect x="247.70" y="0.50" width="203.30" height="11.50" fill="#fae6c8" stroke="none" stroke-width="0.8"/>
<text x="349" y="9.4" font-size="9.5" fill="#231f20" stroke="#231f20" stroke-width="0.2" text-anchor="middle" textLength="93" lengthAdjust="spacingAndGlyphs">repression dynamics</text>
<rect x="228.00" y="13.70" width="11.80" height="106.50" fill="#fae6c8" stroke="none" stroke-width="0.8"/>
<text x="236.5" y="67" font-size="9" fill="#231f20" stroke="#231f20" stroke-width="0.2" text-anchor="middle" textLength="22" lengthAdjust="spacingAndGlyphs" transform="rotate(-90 236.5 67)">input</text>
<polyline points="265.30,86.39 267.81,80.03 270.31,80.38 272.82,79.63 275.33,79.31 277.83,82.09 280.34,81.98 282.85,81.09 285.35,75.48 287.86,77.53 290.37,76.75 292.87,76.07 295.38,74.13 297.89,73.23 300.39,72.90 302.90,74.78 305.41,77.87 307.91,73.36 310.42,71.52 312.93,68.76 315.43,69.40 317.94,69.79 320.45,67.75 322.95,69.59 325.46,68.78 327.97,67.91 330.47,65.07 332.98,60.86 335.49,61.04 337.99,59.91 340.50,60.34 343.01,59.77 345.51,60.08 348.02,59.27 350.53,61.68 353.03,59.85 355.54,58.77 358.05,54.51 360.55,52.84 363.06,50.94 365.57,49.07 368.07,50.72 370.58,48.48 373.09,45.78 375.59,47.37 378.10,45.54 380.61,46.32 383.11,48.18 385.62,45.48 388.13,45.54 390.63,43.54 393.14,43.24 395.65,41.37 398.15,44.02 400.66,37.74 403.17,36.40 405.67,38.05 408.18,38.82 410.69,37.06 413.19,34.90 415.70,34.04 418.21,33.20 420.71,35.99 423.22,34.92 425.73,30.17 428.23,29.82 430.74,31.81 433.25,30.77 435.75,30.72 438.26,29.42 440.77,25.01 443.27,25.22 445.78,22.57 448.29,22.60 450.79,24.62 453.30,23.27" fill="none" stroke="#86b889" stroke-width="0.6" stroke-linejoin="round" stroke-opacity="0.64"/>
<polyline points="265.30,80.63 267.81,79.90 270.31,80.17 272.82,78.96 275.33,78.55 277.83,78.60 280.34,75.68 282.85,77.22 285.35,74.72 287.86,75.25 290.37,75.12 292.87,75.03 295.38,71.89 297.89,72.45 300.39,69.23 302.90,72.19 305.41,71.72 307.91,73.53 310.42,68.06 312.93,68.02 315.43,67.86 317.94,66.50 320.45,63.50 322.95,67.02 325.46,66.77 327.97,63.47 330.47,62.73 332.98,63.92 335.49,59.99 337.99,57.13 340.50,60.04 343.01,59.42 345.51,59.40 348.02,55.84 350.53,54.84 353.03,56.40 355.54,54.14 358.05,53.11 360.55,50.91 363.06,49.11 365.57,49.97 368.07,49.84 370.58,49.15 373.09,49.48 375.59,45.30 378.10,44.68 380.61,44.29 383.11,43.17 385.62,41.87 388.13,40.82 390.63,40.53 393.14,39.40 395.65,37.74 398.15,37.99 400.66,39.45 403.17,36.34 405.67,37.25 408.18,36.62 410.69,35.21 413.19,34.30 415.70,34.45 418.21,32.18 420.71,32.25 423.22,30.63 425.73,29.23 428.23,30.24 430.74,26.57 433.25,26.46 435.75,24.70 438.26,24.09 440.77,25.46 443.27,22.47 445.78,19.94 448.29,22.06 450.79,23.83 453.30,19.92" fill="none" stroke="#86b889" stroke-width="0.6" stroke-linejoin="round" stroke-opacity="0.64"/>
<polyline points="265.30,84.53 267.81,85.89 270.31,85.28 272.82,79.56 275.33,82.30 277.83,82.63 280.34,82.00 282.85,80.34 285.35,79.43 287.86,77.06 290.37,76.16 292.87,77.30 295.38,77.12 297.89,78.29 300.39,78.37 302.90,76.81 305.41,73.67 307.91,73.34 310.42,71.84 312.93,70.54 315.43,71.36 317.94,67.52 320.45,69.99 322.95,70.38 325.46,69.68 327.97,66.50 330.47,67.03 332.98,67.62 335.49,65.42 337.99,63.12 340.50,63.83 343.01,63.70 345.51,60.98 348.02,59.74 350.53,58.83 353.03,60.66 355.54,58.96 358.05,57.73 360.55,60.16 363.06,55.57 365.57,55.34 368.07,55.37 370.58,50.70 373.09,52.06 375.59,53.27 378.10,52.05 380.61,50.16 383.11,48.67 385.62,49.06 388.13,49.93 390.63,49.41 393.14,48.94 395.65,48.65 398.15,46.43 400.66,46.00 403.17,44.50 405.67,44.92 408.18,44.59 410.69,42.90 413.19,42.12 415.70,38.99 418.21,40.74 420.71,38.97 423.22,38.28 425.73,39.51 428.23,36.12 430.74,35.42 433.25,38.22 435.75,34.25 438.26,31.97 440.77,33.44 443.27,29.41 445.78,30.06 448.29,31.74 450.79,29.00 453.30,29.06" fill="none" stroke="#86b889" stroke-width="0.6" stroke-linejoin="round" stroke-opacity="0.57"/>
<polyline points="265.30,85.59 267.81,86.59 270.31,87.92 272.82,83.57 275.33,83.21 277.83,81.79 280.34,81.78 282.85,82.04 285.35,79.88 287.86,81.99 290.37,81.25 292.87,78.89 295.38,77.59 297.89,80.74 300.39,76.86 302.90,75.03 305.41,77.22 307.91,76.35 310.42,75.65 312.93,73.66 315.43,75.76 317.94,74.95 320.45,71.77 322.95,70.90 325.46,69.48 327.97,72.21 330.47,70.27 332.98,69.32 335.49,68.98 337.99,71.85 340.50,65.60 343.01,65.62 345.51,62.24 348.02,62.61 350.53,62.64 353.03,60.34 355.54,58.95 358.05,61.02 360.55,59.51 363.06,58.40 365.57,57.70 368.07,58.15 370.58,58.53 373.09,57.91 375.59,55.05 378.10,52.99 380.61,52.99 383.11,53.01 385.62,53.16 388.13,51.89 390.63,49.55 393.14,49.55 395.65,49.95 398.15,52.61 400.66,48.69 403.17,46.91 405.67,47.95 408.18,45.04 410.69,49.23 413.19,46.14 415.70,45.31 418.21,43.83 420.71,43.53 423.22,43.48 425.73,43.36 428.23,42.91 430.74,39.26 433.25,40.34 435.75,39.97 438.26,39.30 440.77,38.86 443.27,37.47 445.78,36.14 448.29,37.09 450.79,34.25 453.30,32.79" fill="none" stroke="#86b889" stroke-width="0.6" stroke-linejoin="round" stroke-opacity="0.52"/>
<polyline points="265.30,85.55 267.81,84.68 270.31,85.58 272.82,81.19 275.33,80.14 277.83,79.81 280.34,79.42 282.85,80.17 285.35,79.57 287.86,76.99 290.37,78.22 292.87,78.11 295.38,73.94 297.89,72.28 300.39,73.35 302.90,72.91 305.41,72.96 307.91,70.69 310.42,72.60 312.93,71.83 315.43,70.52 317.94,68.19 320.45,69.68 322.95,68.94 325.46,69.41 327.97,69.37 330.47,68.92 332.98,67.18 335.49,64.96 337.99,66.28 340.50,66.05 343.01,65.18 345.51,63.24 348.02,61.61 350.53,63.64 353.03,61.23 355.54,62.08 358.05,59.16 360.55,60.35 363.06,60.38 365.57,59.29 368.07,57.44 370.58,57.83 373.09,55.57 375.59,54.51 378.10,53.81 380.61,52.85 383.11,51.16 385.62,52.69 388.13,51.57 390.63,50.84 393.14,53.31 395.65,49.84 398.15,50.15 400.66,49.73 403.17,48.75 405.67,47.17 408.18,45.89 410.69,44.82 413.19,45.87 415.70,43.57 418.21,42.84 420.71,43.40 423.22,42.51 425.73,40.50 428.23,39.98 430.74,38.93 433.25,39.04 435.75,36.99 438.26,34.21 440.77,35.62 443.27,38.72 445.78,34.03 448.29,35.68 450.79,36.94 453.30,38.36" fill="none" stroke="#86b889" stroke-width="0.6" stroke-linejoin="round" stroke-opacity="0.40"/>
<polyline points="265.30,84.55 267.81,85.16 270.31,85.49 272.82,85.26 275.33,85.92 277.83,83.00 280.34,81.43 282.85,80.38 285.35,80.65 287.86,79.19 290.37,79.07 292.87,78.02 295.38,79.10 297.89,79.57 300.39,77.21 302.90,78.40 305.41,75.59 307.91,77.20 310.42,78.24 312.93,77.36 315.43,74.80 317.94,74.13 320.45,76.67 322.95,80.30 325.46,75.70 327.97,75.42 330.47,75.73 332.98,75.41 335.49,77.02 337.99,73.93 340.50,74.15 343.01,72.72 345.51,74.08 348.02,74.57 350.53,73.56 353.03,70.63 355.54,71.08 358.05,76.03 360.55,73.50 363.06,71.65 365.57,71.59 368.07,70.28 370.58,70.68 373.09,69.99 375.59,70.28 378.10,71.73 380.61,70.19 383.11,69.90 385.62,69.94 388.13,69.00 390.63,69.72 393.14,71.19 395.65,70.03 398.15,70.11 400.66,69.50 403.17,69.36 405.67,68.22 408.18,71.78 410.69,70.26 413.19,71.23 415.70,70.65 418.21,68.50 420.71,67.47 423.22,69.01 425.73,68.01 428.23,68.45 430.74,67.71 433.25,68.41 435.75,68.45 438.26,65.40 440.77,66.12 443.27,68.21 445.78,65.02 448.29,64.67 450.79,63.76 453.30,64.32" fill="none" stroke="#86b889" stroke-width="0.6" stroke-linejoin="round" stroke-opacity="0.70"/>
<polyline points="265.30,86.36 267.81,85.46 270.31,86.41 272.82,84.49 275.33,83.32 277.83,82.85 280.34,81.52 282.85,83.02 285.35,80.22 287.86,79.70 290.37,78.48 292.87,78.29 295.38,78.05 297.89,76.65 300.39,74.96 302.90,75.72 305.41,74.55 307.91,75.49 310.42,73.58 312.93,73.26 315.43,74.81 317.94,71.19 320.45,72.91 322.95,71.61 325.46,73.02 327.97,73.75 330.47,69.97 332.98,71.65 335.49,72.83 337.99,69.97 340.50,70.78 343.01,68.57 345.51,64.40 348.02,66.14 350.53,65.10 353.03,64.06 355.54,63.81 358.05,63.87 360.55,60.98 363.06,62.12 365.57,61.38 368.07,61.12 370.58,62.77 373.09,60.42 375.59,59.74 378.10,58.25 380.61,57.38 383.11,55.42 385.62,59.78 388.13,58.70 390.63,57.91 393.14,57.93 395.65,55.65 398.15,55.39 400.66,54.65 403.17,56.79 405.67,56.07 408.18,54.15 410.69,53.81 413.19,53.60 415.70,52.43 418.21,51.96 420.71,52.64 423.22,48.32 425.73,50.21 428.23,48.38 430.74,47.53 433.25,46.32 435.75,47.92 438.26,48.67 440.77,46.31 443.27,45.49 445.78,48.85 448.29,49.87 450.79,46.63 453.30,45.05" fill="none" stroke="#86b889" stroke-width="0.6" stroke-linejoin="round" stroke-opacity="0.72"/>
<polyline points="265.30,83.17 267.81,82.64 270.31,81.29 272.82,80.24 275.33,79.86 277.83,80.75 280.34,79.76 282.85,77.00 285.35,77.85 287.86,76.31 290.37,74.43 292.87,74.02 295.38,72.16 297.89,74.67 300.39,71.41 302.90,72.00 305.41,70.47 307.91,71.06 310.42,66.59 312.93,67.72 315.43,71.90 317.94,71.49 320.45,70.99 322.95,67.70 325.46,65.97 327.97,67.88 330.47,67.71 332.98,67.06 335.49,66.30 337.99,67.04 340.50,69.51 343.01,65.82 345.51,62.61 348.02,64.96 350.53,62.18 353.03,61.66 355.54,64.18 358.05,62.47 360.55,63.48 363.06,60.16 365.57,60.52 368.07,61.24 370.58,60.77 373.09,60.81 375.59,58.60 378.10,57.17 380.61,57.52 383.11,58.85 385.62,56.48 388.13,57.11 390.63,58.06 393.14,53.76 395.65,55.32 398.15,53.10 400.66,55.34 403.17,55.57 405.67,56.11 408.18,53.87 410.69,54.75 413.19,55.25 415.70,54.45 418.21,53.86 420.71,52.30 423.22,50.76 425.73,50.24 428.23,51.33 430.74,48.48 433.25,48.74 435.75,51.07 438.26,50.25 440.77,45.11 443.27,46.94 445.78,44.36 448.29,43.36 450.79,43.92 453.30,46.76" fill="none" stroke="#86b889" stroke-width="0.6" stroke-linejoin="round" stroke-opacity="0.75"/>
<polyline points="265.30,85.61 267.81,83.58 270.31,83.99 272.82,80.98 275.33,81.45 277.83,78.42 280.34,75.62 282.85,75.09 285.35,75.96 287.86,73.06 290.37,73.85 292.87,73.35 295.38,72.51 297.89,72.59 300.39,70.78 302.90,72.30 305.41,73.15 307.91,68.50 310.42,69.65 312.93,69.04 315.43,67.45 317.94,67.83 320.45,68.68 322.95,67.09 325.46,67.40 327.97,64.88 330.47,65.27 332.98,64.75 335.49,62.67 337.99,65.17 340.50,65.44 343.01,61.76 345.51,59.42 348.02,60.08 350.53,61.06 353.03,57.98 355.54,57.70 358.05,56.41 360.55,59.89 363.06,57.95 365.57,58.30 368.07,58.08 370.58,55.05 373.09,53.51 375.59,54.46 378.10,54.02 380.61,51.05 383.11,50.88 385.62,51.64 388.13,50.55 390.63,50.48 393.14,52.18 395.65,51.21 398.15,49.37 400.66,47.95 403.17,49.94 405.67,49.58 408.18,48.79 410.69,49.59 413.19,45.50 415.70,44.88 418.21,43.01 420.71,47.36 423.22,46.20 425.73,41.47 428.23,44.55 430.74,45.70 433.25,42.55 435.75,39.15 438.26,39.15 440.77,41.16 443.27,39.08 445.78,38.27 448.29,37.85 450.79,37.13 453.30,35.86" fill="none" stroke="#86b889" stroke-width="0.6" stroke-linejoin="round" stroke-opacity="0.40"/>
<polyline points="265.30,84.10 267.81,84.57 270.31,86.89 272.82,83.49 275.33,85.67 277.83,84.12 280.34,85.79 282.85,80.35 285.35,80.92 287.86,79.37 290.37,79.33 292.87,78.29 295.38,77.69 297.89,77.07 300.39,75.50 302.90,78.38 305.41,76.10 307.91,75.75 310.42,75.99 312.93,76.74 315.43,74.03 317.94,74.62 320.45,73.47 322.95,74.66 325.46,74.42 327.97,73.98 330.47,74.54 332.98,69.20 335.49,71.82 337.99,69.14 340.50,69.25 343.01,70.37 345.51,71.44 348.02,68.88 350.53,67.93 353.03,70.03 355.54,66.81 358.05,66.21 360.55,67.76 363.06,67.62 365.57,65.06 368.07,66.62 370.58,68.46 373.09,67.30 375.59,66.11 378.10,66.44 380.61,62.17 383.11,63.68 385.62,63.45 388.13,64.08 390.63,62.48 393.14,62.62 395.65,62.64 398.15,61.99 400.66,60.78 403.17,65.28 405.67,61.36 408.18,62.03 410.69,60.91 413.19,59.31 415.70,59.46 418.21,60.70 420.71,56.86 423.22,55.02 425.73,56.73 428.23,57.23 430.74,56.70 433.25,56.48 435.75,54.42 438.26,56.59 440.77,54.33 443.27,53.60 445.78,53.76 448.29,52.23 450.79,53.40 453.30,53.84" fill="none" stroke="#86b889" stroke-width="0.6" stroke-linejoin="round" stroke-opacity="0.48"/>
<polyline points="265.30,86.91 267.81,84.03 270.31,85.57 272.82,85.37 275.33,84.30 277.83,85.52 280.34,81.61 282.85,83.48 285.35,80.82 287.86,78.53 290.37,80.44 292.87,79.54 295.38,78.86 297.89,75.29 300.39,76.03 302.90,78.94 305.41,75.15 307.91,73.72 310.42,77.57 312.93,79.52 315.43,71.68 317.94,72.87 320.45,76.31 322.95,72.21 325.46,70.13 327.97,75.01 330.47,70.61 332.98,69.85 335.49,70.43 337.99,71.32 340.50,69.59 343.01,70.55 345.51,69.00 348.02,68.81 350.53,68.67 353.03,66.74 355.54,65.12 358.05,64.40 360.55,64.48 363.06,62.24 365.57,65.69 368.07,64.33 370.58,63.38 373.09,61.17 375.59,65.48 378.10,63.66 380.61,62.60 383.11,61.20 385.62,57.31 388.13,58.94 390.63,59.64 393.14,58.76 395.65,57.36 398.15,58.42 400.66,55.61 403.17,58.90 405.67,55.83 408.18,55.45 410.69,54.58 413.19,53.17 415.70,55.17 418.21,54.44 420.71,54.13 423.22,55.03 425.73,55.21 428.23,54.95 430.74,52.05 433.25,55.62 435.75,54.83 438.26,52.17 440.77,49.15 443.27,50.05 445.78,47.89 448.29,48.93 450.79,49.62 453.30,51.07" fill="none" stroke="#86b889" stroke-width="0.6" stroke-linejoin="round" stroke-opacity="0.35"/>
<polyline points="265.30,83.84 267.81,83.18 270.31,84.32 272.82,84.71 275.33,82.29 277.83,80.89 280.34,80.63 282.85,80.01 285.35,78.93 287.86,79.21 290.37,76.84 292.87,75.36 295.38,75.61 297.89,77.60 300.39,75.00 302.90,73.25 305.41,74.40 307.91,76.16 310.42,74.47 312.93,69.76 315.43,73.00 317.94,70.97 320.45,71.51 322.95,69.55 325.46,67.40 327.97,68.12 330.47,68.78 332.98,69.67 335.49,71.39 337.99,72.43 340.50,67.51 343.01,68.58 345.51,66.13 348.02,66.54 350.53,67.47 353.03,67.75 355.54,64.98 358.05,66.22 360.55,65.72 363.06,65.34 365.57,64.22 368.07,62.51 370.58,62.15 373.09,59.97 375.59,58.35 378.10,60.84 380.61,59.98 383.11,60.15 385.62,62.95 388.13,61.28 390.63,57.41 393.14,59.97 395.65,60.50 398.15,60.12 400.66,59.80 403.17,58.89 405.67,54.96 408.18,59.71 410.69,56.59 413.19,56.26 415.70,55.50 418.21,53.35 420.71,54.01 423.22,54.93 425.73,54.79 428.23,51.61 430.74,52.36 433.25,56.17 435.75,53.79 438.26,50.89 440.77,51.21 443.27,49.69 445.78,49.10 448.29,51.90 450.79,52.19 453.30,49.95" fill="none" stroke="#86b889" stroke-width="0.6" stroke-linejoin="round" stroke-opacity="0.40"/>
<polyline points="265.30,81.05 267.81,80.88 270.31,81.63 272.82,81.85 275.33,81.62 277.83,83.58 280.34,81.01 282.85,78.42 285.35,80.67 287.86,77.36 290.37,77.02 292.87,77.02 295.38,77.72 297.89,76.88 300.39,77.51 302.90,76.22 305.41,75.44 307.91,74.92 310.42,76.45 312.93,73.40 315.43,74.66 317.94,73.21 320.45,72.26 322.95,72.96 325.46,68.93 327.97,71.03 330.47,70.99 332.98,71.75 335.49,70.87 337.99,72.77 340.50,70.19 343.01,70.67 345.51,70.74 348.02,68.55 350.53,67.37 353.03,68.73 355.54,69.73 358.05,71.22 360.55,69.83 363.06,66.85 365.57,65.44 368.07,67.59 370.58,65.96 373.09,63.68 375.59,65.46 378.10,65.43 380.61,65.70 383.11,63.54 385.62,66.15 388.13,64.04 390.63,62.28 393.14,62.32 395.65,60.58 398.15,60.36 400.66,61.78 403.17,62.72 405.67,62.87 408.18,60.35 410.69,60.31 413.19,59.68 415.70,60.80 418.21,57.76 420.71,57.02 423.22,56.71 425.73,59.18 428.23,54.05 430.74,54.89 433.25,57.78 435.75,55.28 438.26,55.92 440.77,56.82 443.27,56.79 445.78,54.61 448.29,53.97 450.79,53.65 453.30,53.94" fill="none" stroke="#86b889" stroke-width="0.6" stroke-linejoin="round" stroke-opacity="0.74"/>
<polyline points="265.30,90.02 267.81,87.04 270.31,86.36 272.82,84.59 275.33,81.78 277.83,82.95 280.34,86.79 282.85,84.99 285.35,83.26 287.86,83.18 290.37,81.18 292.87,78.72 295.38,79.16 297.89,79.40 300.39,78.18 302.90,81.73 305.41,79.13 307.91,76.14 310.42,77.13 312.93,74.45 315.43,73.87 317.94,73.57 320.45,73.37 322.95,70.37 325.46,70.85 327.97,74.59 330.47,74.28 332.98,73.74 335.49,71.08 337.99,70.30 340.50,71.63 343.01,70.95 345.51,69.09 348.02,68.66 350.53,70.23 353.03,71.90 355.54,72.31 358.05,70.79 360.55,66.19 363.06,67.77 365.57,67.22 368.07,63.11 370.58,63.77 373.09,66.46 375.59,64.96 378.10,62.80 380.61,64.59 383.11,65.10 385.62,63.70 388.13,63.04 390.63,63.71 393.14,65.00 395.65,62.08 398.15,62.07 400.66,61.64 403.17,60.04 405.67,57.71 408.18,59.09 410.69,59.83 413.19,58.23 415.70,58.28 418.21,57.65 420.71,56.90 423.22,58.96 425.73,56.53 428.23,55.62 430.74,56.31 433.25,55.71 435.75,55.66 438.26,55.66 440.77,54.87 443.27,54.05 445.78,52.77 448.29,52.60 450.79,52.86 453.30,51.72" fill="none" stroke="#86b889" stroke-width="0.6" stroke-linejoin="round" stroke-opacity="0.62"/>
<polyline points="265.30,88.43 267.81,88.05 270.31,87.75 272.82,83.45 275.33,86.64 277.83,84.98 280.34,82.43 282.85,82.03 285.35,82.66 287.86,83.27 290.37,80.91 292.87,79.80 295.38,80.03 297.89,81.10 300.39,81.80 302.90,79.60 305.41,78.74 307.91,76.92 310.42,77.86 312.93,76.10 315.43,78.54 317.94,79.86 320.45,76.08 322.95,76.79 325.46,77.44 327.97,76.40 330.47,77.51 332.98,76.34 335.49,77.33 337.99,75.09 340.50,75.31 343.01,74.34 345.51,73.72 348.02,72.61 350.53,75.23 353.03,72.95 355.54,72.63 358.05,73.58 360.55,72.26 363.06,70.45 365.57,69.68 368.07,66.92 370.58,69.30 373.09,69.06 375.59,66.08 378.10,68.73 380.61,69.66 383.11,69.18 385.62,69.02 388.13,67.94 390.63,67.17 393.14,68.09 395.65,68.75 398.15,67.15 400.66,68.22 403.17,67.75 405.67,65.68 408.18,65.53 410.69,66.63 413.19,67.40 415.70,66.77 418.21,67.08 420.71,63.95 423.22,62.47 425.73,62.46 428.23,62.20 430.74,63.09 433.25,62.14 435.75,61.77 438.26,61.44 440.77,61.90 443.27,62.67 445.78,60.63 448.29,59.64 450.79,61.34 453.30,60.30" fill="none" stroke="#86b889" stroke-width="0.6" stroke-linejoin="round" stroke-opacity="0.71"/>
<polyline points="265.30,83.39 267.81,82.49 270.31,84.13 272.82,80.93 275.33,82.41 277.83,81.18 280.34,82.64 282.85,79.90 285.35,78.60 287.86,74.06 290.37,78.82 292.87,76.57 295.38,75.11 297.89,75.21 300.39,73.90 302.90,74.22 305.41,73.06 307.91,72.88 310.42,72.44 312.93,73.34 315.43,71.61 317.94,71.61 320.45,72.67 322.95,69.32 325.46,66.69 327.97,67.10 330.47,70.28 332.98,69.21 335.49,67.42 337.99,69.64 340.50,68.04 343.01,66.06 345.51,66.55 348.02,66.40 350.53,68.65 353.03,65.15 355.54,67.06 358.05,65.26 360.55,67.74 363.06,62.68 365.57,64.57 368.07,65.41 370.58,62.25 373.09,63.88 375.59,65.01 378.10,62.77 380.61,63.07 383.11,60.77 385.62,59.05 388.13,59.56 390.63,57.13 393.14,58.36 395.65,59.61 398.15,61.63 400.66,59.73 403.17,58.75 405.67,57.24 408.18,58.20 410.69,57.99 413.19,55.97 415.70,54.89 418.21,54.41 420.71,54.82 423.22,55.35 425.73,54.24 428.23,52.01 430.74,52.91 433.25,50.15 435.75,52.61 438.26,53.90 440.77,49.27 443.27,49.92 445.78,50.17 448.29,49.84 450.79,49.96 453.30,51.80" fill="none" stroke="#86b889" stroke-width="0.6" stroke-linejoin="round" stroke-opacity="0.56"/>
<polyline points="265.30,87.70 267.81,85.33 270.31,86.24 272.82,82.55 275.33,83.77 277.83,83.48 280.34,82.16 282.85,82.49 285.35,79.84 287.86,78.77 290.37,79.43 292.87,78.93 295.38,74.79 297.89,74.10 300.39,74.36 302.90,74.43 305.41,72.27 307.91,74.06 310.42,74.07 312.93,73.54 315.43,74.43 317.94,74.12 320.45,69.67 322.95,70.53 325.46,72.03 327.97,71.21 330.47,71.02 332.98,70.56 335.49,69.54 337.99,70.99 340.50,71.55 343.01,68.99 345.51,67.90 348.02,68.58 350.53,66.81 353.03,66.57 355.54,64.97 358.05,64.70 360.55,62.27 363.06,60.72 365.57,60.95 368.07,61.58 370.58,60.17 373.09,59.55 375.59,59.39 378.10,58.54 380.61,59.65 383.11,57.95 385.62,57.48 388.13,57.20 390.63,57.65 393.14,57.83 395.65,56.12 398.15,56.89 400.66,57.66 403.17,53.52 405.67,52.69 408.18,55.01 410.69,52.21 413.19,56.10 415.70,53.03 418.21,51.65 420.71,51.53 423.22,51.81 425.73,50.09 428.23,49.61 430.74,51.53 433.25,51.16 435.75,48.14 438.26,47.25 440.77,49.40 443.27,50.18 445.78,47.23 448.29,47.84 450.79,47.53 453.30,46.77" fill="none" stroke="#86b889" stroke-width="0.6" stroke-linejoin="round" stroke-opacity="0.55"/>
<polyline points="265.30,86.36 267.81,84.99 270.31,85.95 272.82,86.22 275.33,82.85 277.83,83.71 280.34,83.17 282.85,84.37 285.35,81.04 287.86,79.68 290.37,79.33 292.87,78.85 295.38,81.73 297.89,78.26 300.39,77.14 302.90,77.59 305.41,77.40 307.91,76.35 310.42,75.84 312.93,75.93 315.43,74.55 317.94,75.27 320.45,71.99 322.95,75.81 325.46,73.86 327.97,71.66 330.47,73.68 332.98,71.66 335.49,72.11 337.99,72.49 340.50,70.74 343.01,70.64 345.51,70.27 348.02,68.17 350.53,69.29 353.03,67.52 355.54,71.01 358.05,66.67 360.55,67.00 363.06,62.92 365.57,68.72 368.07,64.25 370.58,62.46 373.09,63.70 375.59,65.19 378.10,63.81 380.61,62.00 383.11,65.13 385.62,60.88 388.13,62.17 390.63,60.63 393.14,61.79 395.65,61.79 398.15,61.68 400.66,61.20 403.17,59.78 405.67,58.58 408.18,57.41 410.69,59.77 413.19,58.06 415.70,55.52 418.21,57.86 420.71,57.55 423.22,54.09 425.73,56.47 428.23,55.79 430.74,53.47 433.25,54.47 435.75,54.34 438.26,52.96 440.77,52.84 443.27,53.53 445.78,52.18 448.29,51.92 450.79,51.14 453.30,49.77" fill="none" stroke="#86b889" stroke-width="0.6" stroke-linejoin="round" stroke-opacity="0.70"/>
<polyline points="265.30,80.83 267.81,83.09 270.31,81.94 272.82,82.03 275.33,82.20 277.83,80.35 280.34,76.77 282.85,79.81 285.35,78.75 287.86,78.37 290.37,78.21 292.87,75.50 295.38,76.89 297.89,74.28 300.39,77.11 302.90,75.98 305.41,76.72 307.91,74.90 310.42,73.60 312.93,73.14 315.43,73.24 317.94,73.74 320.45,75.07 322.95,72.16 325.46,72.27 327.97,70.40 330.47,73.78 332.98,72.43 335.49,73.93 337.99,69.96 340.50,71.19 343.01,71.72 345.51,68.73 348.02,68.95 350.53,68.21 353.03,68.17 355.54,66.03 358.05,66.30 360.55,66.08 363.06,66.10 365.57,64.33 368.07,63.25 370.58,64.80 373.09,63.17 375.59,65.88 378.10,65.38 380.61,64.57 383.11,64.37 385.62,62.17 388.13,64.11 390.63,64.69 393.14,62.04 395.65,62.58 398.15,61.13 400.66,60.42 403.17,61.08 405.67,60.65 408.18,58.40 410.69,58.74 413.19,58.48 415.70,57.25 418.21,58.68 420.71,59.55 423.22,58.27 425.73,54.66 428.23,54.80 430.74,52.15 433.25,52.89 435.75,52.94 438.26,54.76 440.77,56.71 443.27,57.71 445.78,54.36 448.29,54.94 450.79,54.92 453.30,52.04" fill="none" stroke="#86b889" stroke-width="0.6" stroke-linejoin="round" stroke-opacity="0.56"/>
<polyline points="265.30,85.53 267.81,85.66 270.31,84.61 272.82,83.54 275.33,83.94 277.83,83.85 280.34,81.06 282.85,79.19 285.35,79.81 287.86,80.22 290.37,78.57 292.87,77.46 295.38,76.92 297.89,75.43 300.39,72.43 302.90,74.53 305.41,74.22 307.91,71.24 310.42,69.77 312.93,71.10 315.43,70.51 317.94,66.71 320.45,65.89 322.95,65.56 325.46,66.63 327.97,66.89 330.47,66.08 332.98,65.91 335.49,64.42 337.99,67.18 340.50,62.85 343.01,61.81 345.51,61.61 348.02,62.49 350.53,63.57 353.03,60.28 355.54,59.76 358.05,59.90 360.55,55.61 363.06,58.15 365.57,56.90 368.07,58.23 370.58,56.18 373.09,53.97 375.59,52.36 378.10,53.60 380.61,54.94 383.11,55.77 385.62,53.65 388.13,49.94 390.63,51.04 393.14,48.64 395.65,48.77 398.15,49.64 400.66,49.95 403.17,49.06 405.67,49.15 408.18,48.99 410.69,48.37 413.19,48.04 415.70,48.89 418.21,46.28 420.71,46.76 423.22,44.44 425.73,44.05 428.23,44.03 430.74,43.37 433.25,38.92 435.75,38.56 438.26,38.70 440.77,36.78 443.27,39.96 445.78,38.39 448.29,36.93 450.79,37.94 453.30,34.52" fill="none" stroke="#86b889" stroke-width="0.6" stroke-linejoin="round" stroke-opacity="0.60"/>
<polyline points="265.30,86.54 267.81,84.07 270.31,84.28 272.82,84.64 275.33,87.14 277.83,81.33 280.34,80.04 282.85,81.61 285.35,82.05 287.86,79.39 290.37,81.83 292.87,78.08 295.38,76.18 297.89,78.40 300.39,78.47 302.90,73.86 305.41,75.54 307.91,74.74 310.42,74.95 312.93,77.27 315.43,73.11 317.94,70.67 320.45,72.97 322.95,73.85 325.46,70.24 327.97,73.42 330.47,72.31 332.98,73.24 335.49,73.58 337.99,71.95 340.50,74.22 343.01,72.38 345.51,69.63 348.02,69.62 350.53,69.84 353.03,64.18 355.54,64.66 358.05,66.39 360.55,64.15 363.06,63.80 365.57,64.05 368.07,62.92 370.58,63.90 373.09,64.17 375.59,60.40 378.10,61.52 380.61,59.40 383.11,63.74 385.62,63.14 388.13,62.68 390.63,60.71 393.14,60.13 395.65,58.14 398.15,57.96 400.66,58.42 403.17,57.49 405.67,56.66 408.18,56.79 410.69,60.62 413.19,58.54 415.70,55.98 418.21,56.42 420.71,53.58 423.22,55.27 425.73,54.60 428.23,55.39 430.74,54.29 433.25,51.79 435.75,50.26 438.26,50.30 440.77,50.28 443.27,50.77 445.78,52.71 448.29,50.11 450.79,50.92 453.30,49.45" fill="none" stroke="#86b889" stroke-width="0.6" stroke-linejoin="round" stroke-opacity="0.75"/>
<polyline points="265.30,90.80 267.81,90.18 270.31,89.39 272.82,89.02 275.33,83.57 277.83,86.61 280.34,89.00 282.85,86.73 285.35,85.83 287.86,85.56 290.37,82.83 292.87,80.39 295.38,83.91 297.89,80.08 300.39,77.60 302.90,81.45 305.41,81.50 307.91,79.39 310.42,79.09 312.93,81.23 315.43,80.17 317.94,80.78 320.45,75.87 322.95,78.95 325.46,78.14 327.97,77.67 330.47,78.63 332.98,78.18 335.49,76.82 337.99,76.10 340.50,70.77 343.01,75.48 345.51,76.53 348.02,76.32 350.53,76.92 353.03,76.20 355.54,74.41 358.05,73.13 360.55,72.36 363.06,70.98 365.57,70.31 368.07,68.58 370.58,69.92 373.09,70.76 375.59,69.19 378.10,70.11 380.61,67.77 383.11,67.72 385.62,65.30 388.13,67.83 390.63,67.72 393.14,64.73 395.65,64.74 398.15,67.29 400.66,67.31 403.17,66.59 405.67,66.49 408.18,62.99 410.69,66.80 413.19,65.62 415.70,65.19 418.21,66.99 420.71,63.32 423.22,64.15 425.73,63.84 428.23,62.83 430.74,61.75 433.25,62.66 435.75,61.83 438.26,64.24 440.77,60.51 443.27,58.75 445.78,60.44 448.29,59.45 450.79,59.85 453.30,55.97" fill="none" stroke="#86b889" stroke-width="0.6" stroke-linejoin="round" stroke-opacity="0.57"/>
<polyline points="265.30,82.63 267.81,80.27 270.31,80.90 272.82,78.38 275.33,78.64 277.83,75.43 280.34,77.92 282.85,74.54 285.35,76.30 287.86,74.23 290.37,73.70 292.87,75.52 295.38,76.54 297.89,73.81 300.39,72.81 302.90,72.56 305.41,70.17 307.91,69.76 310.42,68.87 312.93,70.75 315.43,69.70 317.94,69.12 320.45,66.92 322.95,65.60 325.46,67.57 327.97,67.17 330.47,70.39 332.98,64.37 335.49,64.78 337.99,64.36 340.50,64.19 343.01,64.55 345.51,66.71 348.02,65.76 350.53,64.96 353.03,63.49 355.54,64.01 358.05,61.82 360.55,60.16 363.06,60.00 365.57,59.64 368.07,55.85 370.58,59.09 373.09,59.53 375.59,57.12 378.10,57.86 380.61,54.65 383.11,56.97 385.62,56.39 388.13,53.34 390.63,57.14 393.14,54.01 395.65,53.94 398.15,53.74 400.66,51.64 403.17,53.72 405.67,52.24 408.18,53.20 410.69,50.53 413.19,53.20 415.70,51.96 418.21,51.98 420.71,52.52 423.22,49.22 425.73,50.02 428.23,48.47 430.74,52.04 433.25,50.84 435.75,50.09 438.26,47.51 440.77,49.36 443.27,46.68 445.78,44.61 448.29,44.98 450.79,44.68 453.30,45.06" fill="none" stroke="#86b889" stroke-width="0.6" stroke-linejoin="round" stroke-opacity="0.46"/>
<polyline points="265.30,86.70 267.81,84.86 270.31,84.13 272.82,84.19 275.33,84.34 277.83,84.77 280.34,81.40 282.85,78.83 285.35,80.92 287.86,78.91 290.37,74.21 292.87,76.11 295.38,75.25 297.89,77.25 300.39,77.71 302.90,74.91 305.41,76.74 307.91,75.86 310.42,75.92 312.93,74.24 315.43,75.22 317.94,76.02 320.45,75.88 322.95,74.43 325.46,72.15 327.97,74.38 330.47,69.02 332.98,71.85 335.49,72.95 337.99,73.64 340.50,72.35 343.01,70.86 345.51,69.46 348.02,67.77 350.53,67.23 353.03,71.51 355.54,71.48 358.05,70.87 360.55,70.25 363.06,65.88 365.57,66.19 368.07,67.36 370.58,65.06 373.09,66.69 375.59,63.22 378.10,64.49 380.61,64.26 383.11,61.77 385.62,63.11 388.13,62.76 390.63,64.34 393.14,64.36 395.65,63.48 398.15,61.31 400.66,60.50 403.17,60.73 405.67,61.81 408.18,58.53 410.69,57.20 413.19,58.63 415.70,61.39 418.21,59.95 420.71,58.10 423.22,57.74 425.73,58.49 428.23,58.53 430.74,59.17 433.25,57.02 435.75,55.97 438.26,57.77 440.77,57.19 443.27,59.04 445.78,57.88 448.29,54.57 450.79,51.16 453.30,54.20" fill="none" stroke="#86b889" stroke-width="0.6" stroke-linejoin="round" stroke-opacity="0.49"/>
<polyline points="265.30,87.26 267.81,86.95 270.31,84.71 272.82,88.13 275.33,88.16 277.83,87.02 280.34,85.87 282.85,85.22 285.35,85.06 287.86,83.81 290.37,81.32 292.87,81.44 295.38,81.83 297.89,79.26 300.39,78.82 302.90,80.06 305.41,76.82 307.91,78.36 310.42,79.03 312.93,76.93 315.43,77.85 317.94,78.14 320.45,74.40 322.95,75.80 325.46,76.75 327.97,75.05 330.47,74.80 332.98,77.21 335.49,75.40 337.99,73.16 340.50,73.63 343.01,72.11 345.51,73.79 348.02,70.94 350.53,71.57 353.03,72.02 355.54,72.59 358.05,69.14 360.55,69.26 363.06,69.49 365.57,68.12 368.07,68.14 370.58,68.13 373.09,66.78 375.59,67.30 378.10,65.09 380.61,62.02 383.11,66.93 385.62,65.54 388.13,65.55 390.63,63.71 393.14,66.83 395.65,61.33 398.15,61.47 400.66,59.35 403.17,59.86 405.67,63.06 408.18,62.46 410.69,59.29 413.19,58.86 415.70,61.33 418.21,60.24 420.71,57.95 423.22,57.08 425.73,59.07 428.23,58.21 430.74,57.44 433.25,58.09 435.75,58.01 438.26,55.85 440.77,56.38 443.27,56.35 445.78,54.16 448.29,53.25 450.79,53.57 453.30,54.86" fill="none" stroke="#86b889" stroke-width="0.6" stroke-linejoin="round" stroke-opacity="0.61"/>
<polyline points="265.30,84.72 267.81,85.92 270.31,83.60 272.82,83.92 275.33,82.61 277.83,83.36 280.34,81.59 282.85,78.85 285.35,77.76 287.86,75.46 290.37,78.46 292.87,73.49 295.38,74.68 297.89,77.17 300.39,77.12 302.90,75.30 305.41,75.41 307.91,71.75 310.42,70.62 312.93,72.17 315.43,73.62 317.94,72.31 320.45,70.03 322.95,68.98 325.46,70.67 327.97,69.14 330.47,65.19 332.98,67.17 335.49,68.58 337.99,67.78 340.50,65.72 343.01,68.47 345.51,66.53 348.02,67.26 350.53,67.79 353.03,67.36 355.54,66.62 358.05,65.14 360.55,62.80 363.06,66.61 365.57,63.06 368.07,60.98 370.58,59.49 373.09,61.52 375.59,60.33 378.10,60.04 380.61,59.90 383.11,58.98 385.62,60.07 388.13,57.80 390.63,62.65 393.14,60.58 395.65,60.31 398.15,59.91 400.66,58.31 403.17,57.97 405.67,56.23 408.18,55.68 410.69,54.43 413.19,57.06 415.70,56.49 418.21,55.89 420.71,54.55 423.22,53.48 425.73,53.02 428.23,52.02 430.74,52.24 433.25,52.95 435.75,50.14 438.26,51.96 440.77,48.88 443.27,47.33 445.78,51.11 448.29,50.26 450.79,46.70 453.30,52.00" fill="none" stroke="#86b889" stroke-width="0.6" stroke-linejoin="round" stroke-opacity="0.56"/>
<polyline points="265.30,84.60 267.81,85.30 270.31,84.05 272.82,82.68 275.33,83.19 277.83,79.45 280.34,81.11 282.85,79.73 285.35,78.19 287.86,77.48 290.37,74.90 292.87,76.54 295.38,73.60 297.89,71.94 300.39,72.60 302.90,69.39 305.41,73.32 307.91,72.56 310.42,73.19 312.93,75.46 315.43,74.58 317.94,69.98 320.45,70.28 322.95,71.97 325.46,68.35 327.97,68.94 330.47,67.41 332.98,66.70 335.49,63.14 337.99,67.46 340.50,64.37 343.01,58.14 345.51,60.95 348.02,60.88 350.53,60.96 353.03,59.12 355.54,58.72 358.05,57.83 360.55,59.74 363.06,58.13 365.57,56.43 368.07,56.16 370.58,54.82 373.09,53.19 375.59,51.84 378.10,52.67 380.61,51.96 383.11,52.80 385.62,52.60 388.13,50.47 390.63,52.49 393.14,48.98 395.65,51.05 398.15,49.70 400.66,49.97 403.17,49.78 405.67,47.30 408.18,49.50 410.69,44.98 413.19,47.89 415.70,44.72 418.21,44.87 420.71,44.51 423.22,43.01 425.73,40.66 428.23,41.21 430.74,42.29 433.25,41.09 435.75,38.79 438.26,40.71 440.77,38.88 443.27,36.41 445.78,38.07 448.29,37.41 450.79,35.14 453.30,36.32" fill="none" stroke="#86b889" stroke-width="0.6" stroke-linejoin="round" stroke-opacity="0.53"/>
<polyline points="265.30,85.92 267.81,83.15 270.31,83.01 272.82,81.15 275.33,84.75 277.83,84.13 280.34,83.08 282.85,83.22 285.35,81.67 287.86,79.16 290.37,77.07 292.87,78.74 295.38,77.77 297.89,79.82 300.39,76.28 302.90,76.76 305.41,76.76 307.91,75.22 310.42,72.44 312.93,74.70 315.43,74.30 317.94,75.03 320.45,73.15 322.95,74.80 325.46,75.10 327.97,73.99 330.47,70.68 332.98,72.89 335.49,72.03 337.99,70.55 340.50,68.69 343.01,68.20 345.51,68.89 348.02,68.85 350.53,69.08 353.03,69.40 355.54,67.36 358.05,66.42 360.55,64.90 363.06,64.63 365.57,64.73 368.07,62.72 370.58,61.39 373.09,63.34 375.59,62.17 378.10,61.53 380.61,66.05 383.11,62.19 385.62,59.06 388.13,64.44 390.63,58.26 393.14,62.07 395.65,62.13 398.15,60.45 400.66,59.95 403.17,61.08 405.67,58.04 408.18,57.34 410.69,56.68 413.19,53.26 415.70,55.62 418.21,56.16 420.71,56.15 423.22,56.78 425.73,59.66 428.23,55.32 430.74,56.59 433.25,56.28 435.75,53.05 438.26,50.94 440.77,52.42 443.27,50.96 445.78,50.59 448.29,48.23 450.79,50.24 453.30,49.01" fill="none" stroke="#86b889" stroke-width="0.6" stroke-linejoin="round" stroke-opacity="0.40"/>
<polyline points="265.30,83.69 267.81,83.43 270.31,83.68 272.82,82.86 275.33,80.75 277.83,79.65 280.34,81.71 282.85,79.40 285.35,79.57 287.86,79.07 290.37,76.81 292.87,77.10 295.38,75.11 297.89,78.26 300.39,74.17 302.90,73.08 305.41,73.45 307.91,73.81 310.42,74.75 312.93,74.03 315.43,69.04 317.94,69.38 320.45,69.97 322.95,70.72 325.46,70.68 327.97,71.22 330.47,68.79 332.98,66.81 335.49,68.97 337.99,66.75 340.50,67.40 343.01,66.07 345.51,67.24 348.02,64.63 350.53,62.10 353.03,64.49 355.54,64.38 358.05,62.07 360.55,63.53 363.06,64.55 365.57,66.42 368.07,63.54 370.58,59.73 373.09,61.17 375.59,60.42 378.10,63.44 380.61,60.97 383.11,59.48 385.62,59.49 388.13,58.93 390.63,59.56 393.14,59.08 395.65,55.42 398.15,57.64 400.66,54.24 403.17,57.01 405.67,53.52 408.18,54.32 410.69,53.10 413.19,53.72 415.70,52.52 418.21,48.96 420.71,54.77 423.22,53.59 425.73,51.35 428.23,48.72 430.74,51.85 433.25,50.38 435.75,48.35 438.26,49.54 440.77,48.74 443.27,47.81 445.78,46.07 448.29,46.10 450.79,45.82 453.30,47.04" fill="none" stroke="#86b889" stroke-width="0.6" stroke-linejoin="round" stroke-opacity="0.76"/>
<polyline points="265.30,81.17 267.81,77.66 270.31,78.86 272.82,78.54 275.33,74.93 277.83,77.52 280.34,73.48 282.85,76.47 285.35,73.65 287.86,73.36 290.37,75.18 292.87,72.82 295.38,73.07 297.89,70.43 300.39,68.86 302.90,68.78 305.41,68.90 307.91,68.73 310.42,66.77 312.93,70.04 315.43,66.66 317.94,66.13 320.45,65.37 322.95,64.08 325.46,64.62 327.97,64.88 330.47,66.07 332.98,65.56 335.49,65.43 337.99,64.59 340.50,61.77 343.01,58.10 345.51,59.33 348.02,60.36 350.53,60.90 353.03,59.19 355.54,56.50 358.05,60.43 360.55,58.77 363.06,57.76 365.57,57.93 368.07,56.29 370.58,56.79 373.09,54.00 375.59,52.51 378.10,53.14 380.61,54.71 383.11,55.54 385.62,51.93 388.13,52.64 390.63,50.48 393.14,50.32 395.65,50.81 398.15,47.60 400.66,50.47 403.17,48.74 405.67,49.10 408.18,48.34 410.69,46.75 413.19,45.85 415.70,43.83 418.21,48.63 420.71,48.34 423.22,48.43 425.73,46.21 428.23,44.52 430.74,44.64 433.25,43.64 435.75,40.44 438.26,44.40 440.77,44.38 443.27,39.94 445.78,40.98 448.29,42.83 450.79,42.68 453.30,41.71" fill="none" stroke="#86b889" stroke-width="0.6" stroke-linejoin="round" stroke-opacity="0.50"/>
<polyline points="265.30,84.78 267.81,82.10 270.31,83.22 272.82,79.92 275.33,80.03 277.83,77.73 280.34,78.66 282.85,79.93 285.35,77.92 287.86,78.25 290.37,77.87 292.87,78.94 295.38,75.14 297.89,71.68 300.39,73.92 302.90,72.73 305.41,73.96 307.91,70.88 310.42,68.41 312.93,69.06 315.43,67.70 317.94,66.87 320.45,67.63 322.95,65.97 325.46,68.92 327.97,67.02 330.47,65.57 332.98,63.96 335.49,62.05 337.99,63.41 340.50,64.41 343.01,63.62 345.51,62.71 348.02,62.91 350.53,63.28 353.03,60.26 355.54,61.23 358.05,59.19 360.55,58.05 363.06,57.35 365.57,54.94 368.07,54.78 370.58,54.54 373.09,52.03 375.59,53.71 378.10,55.34 380.61,54.13 383.11,50.97 385.62,52.71 388.13,52.61 390.63,50.12 393.14,45.91 395.65,48.71 398.15,46.82 400.66,45.18 403.17,47.51 405.67,48.03 408.18,47.11 410.69,47.17 413.19,45.67 415.70,46.72 418.21,45.09 420.71,43.99 423.22,39.81 425.73,43.47 428.23,41.85 430.74,42.29 433.25,40.84 435.75,40.58 438.26,40.66 440.77,39.30 443.27,39.29 445.78,37.36 448.29,35.09 450.79,34.74 453.30,34.83" fill="none" stroke="#86b889" stroke-width="0.6" stroke-linejoin="round" stroke-opacity="0.50"/>
<polyline points="265.30,81.08 267.81,80.87 270.31,80.33 272.82,79.41 275.33,79.25 277.83,77.38 280.34,78.59 282.85,76.29 285.35,75.19 287.86,76.04 290.37,75.35 292.87,74.87 295.38,74.17 297.89,74.25 300.39,70.86 302.90,71.27 305.41,72.41 307.91,74.76 310.42,69.99 312.93,70.66 315.43,69.58 317.94,69.64 320.45,66.38 322.95,69.52 325.46,67.04 327.97,65.95 330.47,68.17 332.98,67.19 335.49,65.52 337.99,67.22 340.50,65.06 343.01,68.82 345.51,69.26 348.02,66.98 350.53,66.97 353.03,64.25 355.54,65.48 358.05,63.01 360.55,60.58 363.06,61.80 365.57,60.64 368.07,62.38 370.58,60.08 373.09,58.79 375.59,59.23 378.10,57.59 380.61,59.04 383.11,59.91 385.62,57.50 388.13,58.35 390.63,59.49 393.14,59.54 395.65,56.48 398.15,56.82 400.66,54.00 403.17,57.35 405.67,54.85 408.18,56.22 410.69,53.30 413.19,53.36 415.70,52.02 418.21,53.27 420.71,53.08 423.22,51.54 425.73,50.77 428.23,51.19 430.74,54.08 433.25,50.30 435.75,52.73 438.26,49.84 440.77,49.88 443.27,48.88 445.78,48.09 448.29,47.97 450.79,48.86 453.30,48.21" fill="none" stroke="#86b889" stroke-width="0.6" stroke-linejoin="round" stroke-opacity="0.76"/>
<polyline points="265.30,79.86 267.81,79.50 270.31,78.14 272.82,80.36 275.33,79.92 277.83,76.02 280.34,75.88 282.85,77.79 285.35,76.36 287.86,77.87 290.37,75.42 292.87,72.66 295.38,75.54 297.89,73.50 300.39,71.93 302.90,71.88 305.41,71.16 307.91,71.87 310.42,72.00 312.93,70.52 315.43,72.68 317.94,70.45 320.45,71.64 322.95,70.65 325.46,66.75 327.97,68.19 330.47,68.53 332.98,66.38 335.49,67.95 337.99,67.89 340.50,66.80 343.01,65.14 345.51,66.72 348.02,65.52 350.53,67.66 353.03,67.07 355.54,64.79 358.05,64.65 360.55,62.94 363.06,61.31 365.57,64.88 368.07,61.95 370.58,61.08 373.09,61.23 375.59,60.26 378.10,61.13 380.61,59.30 383.11,58.88 385.62,56.01 388.13,60.60 390.63,60.42 393.14,57.92 395.65,56.04 398.15,58.63 400.66,59.00 403.17,57.99 405.67,56.14 408.18,57.28 410.69,54.57 413.19,52.64 415.70,54.45 418.21,52.65 420.71,55.89 423.22,55.83 425.73,53.10 428.23,51.56 430.74,54.20 433.25,53.38 435.75,51.47 438.26,51.35 440.77,52.16 443.27,50.96 445.78,49.05 448.29,50.22 450.79,51.49 453.30,47.65" fill="none" stroke="#86b889" stroke-width="0.6" stroke-linejoin="round" stroke-opacity="0.57"/>
<polyline points="265.30,89.21 267.81,87.14 270.31,87.07 272.82,89.70 275.33,88.40 277.83,85.38 280.34,82.62 282.85,81.64 285.35,80.74 287.86,80.25 290.37,80.89 292.87,77.65 295.38,79.99 297.89,76.19 300.39,75.59 302.90,75.22 305.41,73.31 307.91,72.31 310.42,72.50 312.93,73.22 315.43,70.68 317.94,75.29 320.45,72.74 322.95,70.05 325.46,68.95 327.97,67.68 330.47,68.64 332.98,69.05 335.49,67.78 337.99,63.78 340.50,67.16 343.01,66.12 345.51,65.00 348.02,65.54 350.53,61.81 353.03,63.06 355.54,62.29 358.05,61.49 360.55,59.98 363.06,61.71 365.57,57.73 368.07,58.99 370.58,56.44 373.09,55.12 375.59,53.34 378.10,55.78 380.61,53.99 383.11,53.58 385.62,54.49 388.13,51.11 390.63,50.58 393.14,51.08 395.65,51.28 398.15,52.22 400.66,47.63 403.17,50.05 405.67,48.88 408.18,47.14 410.69,46.13 413.19,49.24 415.70,48.58 418.21,48.27 420.71,49.06 423.22,45.87 425.73,43.64 428.23,43.63 430.74,41.12 433.25,40.54 435.75,40.27 438.26,37.17 440.77,40.27 443.27,38.57 445.78,37.55 448.29,36.32 450.79,36.52 453.30,36.35" fill="none" stroke="#86b889" stroke-width="0.6" stroke-linejoin="round" stroke-opacity="0.44"/>
<polyline points="265.30,86.15 267.81,84.66 270.31,85.17 272.82,85.16 275.33,85.43 277.83,85.34 280.34,84.04 282.85,82.51 285.35,85.69 287.86,81.67 290.37,82.78 292.87,79.87 295.38,78.29 297.89,76.99 300.39,77.59 302.90,79.63 305.41,75.90 307.91,78.20 310.42,75.65 312.93,78.30 315.43,77.73 317.94,79.04 320.45,77.53 322.95,75.92 325.46,74.73 327.97,78.15 330.47,77.14 332.98,77.30 335.49,74.23 337.99,74.30 340.50,72.92 343.01,73.88 345.51,71.40 348.02,72.65 350.53,72.04 353.03,71.61 355.54,71.85 358.05,73.28 360.55,72.66 363.06,69.56 365.57,68.50 368.07,70.57 370.58,69.55 373.09,72.39 375.59,68.88 378.10,69.44 380.61,72.65 383.11,71.43 385.62,69.93 388.13,69.44 390.63,68.58 393.14,69.36 395.65,70.89 398.15,65.99 400.66,68.31 403.17,69.04 405.67,69.63 408.18,67.91 410.69,64.79 413.19,63.69 415.70,61.95 418.21,65.27 420.71,65.17 423.22,62.72 425.73,64.11 428.23,63.40 430.74,60.76 433.25,64.15 435.75,64.96 438.26,62.48 440.77,63.41 443.27,62.88 445.78,60.17 448.29,60.41 450.79,58.67 453.30,61.23" fill="none" stroke="#86b889" stroke-width="0.6" stroke-linejoin="round" stroke-opacity="0.41"/>
<polyline points="265.30,83.87 267.81,82.28 270.31,80.68 272.82,79.09 275.33,81.90 277.83,79.71 280.34,81.36 282.85,79.33 285.35,80.00 287.86,80.68 290.37,75.74 292.87,76.41 295.38,73.94 297.89,75.42 300.39,75.25 302.90,77.17 305.41,76.03 307.91,73.04 310.42,74.13 312.93,72.81 315.43,72.76 317.94,70.30 320.45,72.54 322.95,71.06 325.46,72.56 327.97,73.66 330.47,72.79 332.98,70.61 335.49,68.89 337.99,69.01 340.50,71.97 343.01,69.14 345.51,66.33 348.02,68.42 350.53,67.46 353.03,66.09 355.54,67.09 358.05,65.72 360.55,66.83 363.06,62.89 365.57,60.63 368.07,62.35 370.58,62.40 373.09,61.28 375.59,61.79 378.10,61.05 380.61,61.28 383.11,60.14 385.62,61.07 388.13,60.90 390.63,61.41 393.14,60.10 395.65,59.63 398.15,56.51 400.66,55.44 403.17,58.64 405.67,57.92 408.18,55.66 410.69,56.19 413.19,57.13 415.70,55.86 418.21,58.33 420.71,55.62 423.22,56.53 425.73,53.79 428.23,53.59 430.74,52.16 433.25,49.90 435.75,51.38 438.26,50.62 440.77,52.79 443.27,53.80 445.78,52.03 448.29,51.47 450.79,53.02 453.30,51.59" fill="none" stroke="#86b889" stroke-width="0.6" stroke-linejoin="round" stroke-opacity="0.53"/>
<polyline points="265.30,91.72 267.81,90.02 270.31,89.78 272.82,88.84 275.33,86.44 277.83,85.30 280.34,82.30 282.85,84.78 285.35,81.72 287.86,79.27 290.37,80.32 292.87,83.69 295.38,81.23 297.89,78.90 300.39,78.12 302.90,78.30 305.41,79.64 307.91,77.24 310.42,76.60 312.93,76.59 315.43,79.18 317.94,75.79 320.45,75.19 322.95,74.14 325.46,75.26 327.97,71.99 330.47,71.75 332.98,72.25 335.49,74.30 337.99,73.91 340.50,75.02 343.01,72.05 345.51,72.16 348.02,71.39 350.53,73.80 353.03,70.22 355.54,71.02 358.05,72.43 360.55,66.42 363.06,64.10 365.57,65.92 368.07,69.21 370.58,66.70 373.09,64.17 375.59,65.63 378.10,62.99 380.61,61.73 383.11,61.67 385.62,61.21 388.13,63.45 390.63,62.92 393.14,63.45 395.65,63.79 398.15,60.08 400.66,60.35 403.17,58.39 405.67,59.18 408.18,60.22 410.69,56.61 413.19,55.49 415.70,56.92 418.21,55.91 420.71,58.84 423.22,57.46 425.73,53.89 428.23,54.14 430.74,54.26 433.25,51.60 435.75,50.47 438.26,53.44 440.77,53.15 443.27,51.61 445.78,52.84 448.29,50.33 450.79,49.04 453.30,49.25" fill="none" stroke="#86b889" stroke-width="0.6" stroke-linejoin="round" stroke-opacity="0.57"/>
<polyline points="265.30,88.77 267.81,81.19 270.31,83.10 272.82,82.30 275.33,81.93 277.83,80.87 280.34,84.33 282.85,81.79 285.35,81.23 287.86,79.09 290.37,80.08 292.87,79.89 295.38,78.15 297.89,77.61 300.39,75.74 302.90,74.19 305.41,70.44 307.91,70.98 310.42,70.81 312.93,71.08 315.43,70.75 317.94,69.19 320.45,69.73 322.95,69.95 325.46,68.19 327.97,69.62 330.47,67.28 332.98,65.77 335.49,63.70 337.99,63.60 340.50,64.13 343.01,63.47 345.51,62.01 348.02,61.90 350.53,61.41 353.03,57.11 355.54,60.16 358.05,56.74 360.55,57.33 363.06,58.65 365.57,58.14 368.07,56.43 370.58,56.52 373.09,57.03 375.59,57.04 378.10,55.18 380.61,54.90 383.11,52.03 385.62,50.27 388.13,51.66 390.63,49.07 393.14,49.93 395.65,50.15 398.15,50.07 400.66,53.22 403.17,51.18 405.67,47.35 408.18,48.46 410.69,44.07 413.19,44.99 415.70,44.26 418.21,45.96 420.71,44.39 423.22,44.38 425.73,43.43 428.23,40.54 430.74,41.75 433.25,42.79 435.75,39.05 438.26,35.74 440.77,36.82 443.27,36.92 445.78,38.11 448.29,37.40 450.79,36.19 453.30,34.40" fill="none" stroke="#86b889" stroke-width="0.6" stroke-linejoin="round" stroke-opacity="0.62"/>
<polyline points="265.30,86.75 267.81,81.64 270.31,81.64 272.82,78.97 275.33,81.92 277.83,78.66 280.34,79.53 282.85,79.01 285.35,78.03 287.86,76.67 290.37,76.69 292.87,77.93 295.38,77.13 297.89,74.86 300.39,73.24 302.90,73.78 305.41,73.41 307.91,74.45 310.42,72.41 312.93,72.93 315.43,74.73 317.94,69.76 320.45,72.02 322.95,71.57 325.46,69.03 327.97,71.14 330.47,73.14 332.98,70.11 335.49,68.78 337.99,70.23 340.50,70.28 343.01,67.78 345.51,68.93 348.02,68.35 350.53,68.29 353.03,64.12 355.54,68.35 358.05,65.49 360.55,66.01 363.06,63.37 365.57,68.30 368.07,65.21 370.58,64.11 373.09,66.24 375.59,68.21 378.10,61.73 380.61,61.87 383.11,63.18 385.62,63.89 388.13,61.27 390.63,59.99 393.14,61.86 395.65,61.17 398.15,58.72 400.66,61.31 403.17,59.32 405.67,57.74 408.18,61.87 410.69,62.03 413.19,56.54 415.70,58.25 418.21,56.63 420.71,56.87 423.22,55.78 425.73,54.55 428.23,53.53 430.74,54.05 433.25,57.03 435.75,57.48 438.26,52.97 440.77,55.34 443.27,54.98 445.78,56.52 448.29,56.35 450.79,54.81 453.30,52.55" fill="none" stroke="#86b889" stroke-width="0.6" stroke-linejoin="round" stroke-opacity="0.66"/>
<polyline points="265.30,83.18 267.81,84.30 270.31,82.00 272.82,80.96 275.33,82.42 277.83,81.64 280.34,83.43 282.85,80.32 285.35,80.59 287.86,80.71 290.37,80.16 292.87,79.18 295.38,78.39 297.89,77.13 300.39,75.86 302.90,75.78 305.41,78.77 307.91,78.43 310.42,75.20 312.93,77.28 315.43,75.30 317.94,75.43 320.45,73.80 322.95,71.51 325.46,74.64 327.97,74.06 330.47,73.80 332.98,73.03 335.49,75.01 337.99,75.55 340.50,75.83 343.01,76.78 345.51,76.27 348.02,72.15 350.53,69.95 353.03,71.64 355.54,71.30 358.05,72.14 360.55,69.88 363.06,70.12 365.57,72.57 368.07,70.22 370.58,70.49 373.09,71.67 375.59,69.01 378.10,71.45 380.61,71.32 383.11,70.57 385.62,69.53 388.13,68.52 390.63,71.33 393.14,66.83 395.65,66.69 398.15,65.42 400.66,67.17 403.17,68.60 405.67,68.88 408.18,66.94 410.69,66.60 413.19,68.34 415.70,68.73 418.21,66.98 420.71,67.55 423.22,67.64 425.73,67.46 428.23,65.39 430.74,65.30 433.25,64.67 435.75,64.43 438.26,60.69 440.77,62.50 443.27,65.51 445.78,62.60 448.29,65.19 450.79,63.31 453.30,63.49" fill="none" stroke="#86b889" stroke-width="0.6" stroke-linejoin="round" stroke-opacity="0.45"/>
<polyline points="265.30,19.80 265.30,105.00 453.30,105.00" fill="none" stroke="#6a6b6e" stroke-width="0.9" stroke-linejoin="round"/>
<line x1="302.90" y1="105.00" x2="302.90" y2="103.00" stroke="#6a6b6e" stroke-width="0.6"/>
<line x1="340.50" y1="105.00" x2="340.50" y2="103.00" stroke="#6a6b6e" stroke-width="0.6"/>
<line x1="378.10" y1="105.00" x2="378.10" y2="103.00" stroke="#6a6b6e" stroke-width="0.6"/>
<line x1="415.70" y1="105.00" x2="415.70" y2="103.00" stroke="#6a6b6e" stroke-width="0.6"/>
<line x1="453.30" y1="105.00" x2="453.30" y2="103.00" stroke="#6a6b6e" stroke-width="0.6"/>
<line x1="265.30" y1="70.00" x2="267.30" y2="70.00" stroke="#6a6b6e" stroke-width="0.6"/>
<line x1="265.30" y1="35.00" x2="267.30" y2="35.00" stroke="#6a6b6e" stroke-width="0.6"/>
<text x="259.0" y="108.8" font-size="10.6" fill="#231f20" stroke="#231f20" stroke-width="0.12" text-anchor="middle">0</text>
<text x="259.0" y="73.8" font-size="10.6" fill="#231f20" stroke="#231f20" stroke-width="0.12" text-anchor="middle">5</text>
<text x="259.0" y="38.8" font-size="10.6" fill="#231f20" stroke="#231f20" stroke-width="0.12" text-anchor="middle">10</text>
<text x="265.3" y="115.2" font-size="10.6" fill="#231f20" stroke="#231f20" stroke-width="0.12" text-anchor="middle">5</text>
<text x="302.9" y="115.2" font-size="10.6" fill="#231f20" stroke="#231f20" stroke-width="0.12" text-anchor="middle">10</text>
<text x="340.5" y="115.2" font-size="10.6" fill="#231f20" stroke="#231f20" stroke-width="0.12" text-anchor="middle">15</text>
<text x="378.1" y="115.2" font-size="10.6" fill="#231f20" stroke="#231f20" stroke-width="0.12" text-anchor="middle">20</text>
<text x="415.7" y="115.2" font-size="10.6" fill="#231f20" stroke="#231f20" stroke-width="0.12" text-anchor="middle">25</text>
<text x="453.3" y="115.2" font-size="10.6" fill="#231f20" stroke="#231f20" stroke-width="0.12" text-anchor="middle">30</text>
<text x="359" y="124" font-size="9" fill="#231f20" stroke="#231f20" stroke-width="0.2" text-anchor="middle" textLength="46" lengthAdjust="spacingAndGlyphs">time (min)</text>
<text x="251.5" y="62.3" font-size="9.3" fill="#231f20" stroke="#231f20" stroke-width="0.2" text-anchor="middle" textLength="54.7" lengthAdjust="spacingAndGlyphs" transform="rotate(-90 251.5 62.3)">[Knirps] (au)</text>
<polyline points="265.30,85.19 272.82,83.03 280.34,80.80 287.86,78.61 295.38,76.56 302.90,74.76 310.42,73.25 317.94,71.91 325.46,70.66 332.98,69.40 340.50,68.04 348.02,66.53 355.54,64.94 363.06,63.33 370.58,61.75 378.10,60.27 385.62,58.92 393.14,57.64 400.66,56.40 408.18,55.15 415.70,53.83 423.22,52.44 430.74,51.00 438.26,49.54 445.78,48.08 453.30,46.62" fill="none" stroke="#333333" stroke-width="1.0" stroke-linejoin="round"/>
<circle cx="265.30" cy="85.19" r="2.0" fill="#66a06a" stroke="#35523a" stroke-width="0.55"/>
<circle cx="272.82" cy="83.03" r="2.0" fill="#66a06a" stroke="#35523a" stroke-width="0.55"/>
<circle cx="280.34" cy="80.80" r="2.0" fill="#66a06a" stroke="#35523a" stroke-width="0.55"/>
<circle cx="287.86" cy="78.61" r="2.0" fill="#66a06a" stroke="#35523a" stroke-width="0.55"/>
<circle cx="295.38" cy="76.56" r="2.0" fill="#66a06a" stroke="#35523a" stroke-width="0.55"/>
<circle cx="302.90" cy="74.76" r="2.0" fill="#66a06a" stroke="#35523a" stroke-width="0.55"/>
<circle cx="310.42" cy="73.25" r="2.0" fill="#66a06a" stroke="#35523a" stroke-width="0.55"/>
<circle cx="317.94" cy="71.91" r="2.0" fill="#66a06a" stroke="#35523a" stroke-width="0.55"/>
<circle cx="325.46" cy="70.66" r="2.0" fill="#66a06a" stroke="#35523a" stroke-width="0.55"/>
<circle cx="332.98" cy="69.40" r="2.0" fill="#66a06a" stroke="#35523a" stroke-width="0.55"/>
<circle cx="340.50" cy="68.04" r="2.0" fill="#66a06a" stroke="#35523a" stroke-width="0.55"/>
<circle cx="348.02" cy="66.53" r="2.0" fill="#66a06a" stroke="#35523a" stroke-width="0.55"/>
<circle cx="355.54" cy="64.94" r="2.0" fill="#66a06a" stroke="#35523a" stroke-width="0.55"/>
<circle cx="363.06" cy="63.33" r="2.0" fill="#66a06a" stroke="#35523a" stroke-width="0.55"/>
<circle cx="370.58" cy="61.75" r="2.0" fill="#66a06a" stroke="#35523a" stroke-width="0.55"/>
<circle cx="378.10" cy="60.27" r="2.0" fill="#66a06a" stroke="#35523a" stroke-width="0.55"/>
<circle cx="385.62" cy="58.92" r="2.0" fill="#66a06a" stroke="#35523a" stroke-width="0.55"/>
<circle cx="393.14" cy="57.64" r="2.0" fill="#66a06a" stroke="#35523a" stroke-width="0.55"/>
<circle cx="400.66" cy="56.40" r="2.0" fill="#66a06a" stroke="#35523a" stroke-width="0.55"/>
<circle cx="408.18" cy="55.15" r="2.0" fill="#66a06a" stroke="#35523a" stroke-width="0.55"/>
<circle cx="415.70" cy="53.83" r="2.0" fill="#66a06a" stroke="#35523a" stroke-width="0.55"/>
<circle cx="423.22" cy="52.44" r="2.0" fill="#66a06a" stroke="#35523a" stroke-width="0.55"/>
<circle cx="430.74" cy="51.00" r="2.0" fill="#66a06a" stroke="#35523a" stroke-width="0.55"/>
<circle cx="438.26" cy="49.54" r="2.0" fill="#66a06a" stroke="#35523a" stroke-width="0.55"/>
<circle cx="445.78" cy="48.08" r="2.0" fill="#66a06a" stroke="#35523a" stroke-width="0.55"/>
<circle cx="453.30" cy="46.62" r="2.0" fill="#66a06a" stroke="#35523a" stroke-width="0.55"/>
<text x="463.8" y="10.2" font-size="13" fill="#231f20" stroke="#231f20" stroke-width="0.2" font-weight="bold" textLength="6.6" lengthAdjust="spacingAndGlyphs">E</text>
<rect x="478.90" y="0.90" width="202.70" height="11.70" fill="#fae6c8" stroke="none" stroke-width="0.8"/>
<text x="580.7" y="9.6" font-size="9.5" fill="#231f20" stroke="#231f20" stroke-width="0.2" text-anchor="middle" textLength="99" lengthAdjust="spacingAndGlyphs">reactivation dynamics</text>
<polyline points="489.00,75.76 492.15,72.71 495.31,73.68 498.46,70.52 501.61,72.86 504.77,72.86 507.92,70.52 511.07,68.12 514.23,67.97 517.38,67.98 520.53,70.76 523.69,69.53 526.84,68.45 529.99,67.46 533.15,64.89 536.30,64.92 539.45,62.70 542.61,62.52 545.76,62.61 548.91,61.45 552.07,60.07 555.22,58.43 558.37,59.42 561.53,58.90 564.68,59.97 567.83,55.27 570.99,53.37 574.14,54.72 577.29,55.17 580.45,58.10 583.60,59.52 586.75,61.06 589.91,59.33 593.06,62.28 596.21,65.29 599.37,69.20 602.52,64.82 605.67,65.31 608.83,68.37 611.98,66.75 615.13,69.00 618.29,61.96 621.44,63.17 624.59,64.46 627.75,66.08 630.90,69.69 634.05,67.85 637.21,69.41 640.36,66.64 643.51,69.90 646.67,69.14 649.82,65.59 652.97,63.70 656.13,67.40 659.28,69.24 662.43,66.15 665.59,65.11 668.74,67.59 671.89,68.01 675.05,68.15 678.20,68.97" fill="none" stroke="#86b889" stroke-width="0.6" stroke-linejoin="round" stroke-opacity="0.43"/>
<polyline points="489.00,70.24 492.15,66.87 495.31,68.65 498.46,68.92 501.61,64.90 504.77,66.01 507.92,65.19 511.07,63.18 514.23,62.80 517.38,61.56 520.53,60.93 523.69,61.19 526.84,60.35 529.99,58.14 533.15,54.72 536.30,57.47 539.45,55.69 542.61,53.50 545.76,53.78 548.91,51.44 552.07,51.26 555.22,51.18 558.37,51.07 561.53,47.91 564.68,44.92 567.83,47.14 570.99,47.87 574.14,45.08 577.29,45.47 580.45,44.70 583.60,51.84 586.75,60.77 589.91,62.79 593.06,63.82 596.21,69.88 599.37,72.85 602.52,71.70 605.67,73.48 608.83,73.35 611.98,77.26 615.13,75.81 618.29,74.07 621.44,76.96 624.59,74.87 627.75,75.75 630.90,74.89 634.05,73.96 637.21,75.29 640.36,74.55 643.51,77.21 646.67,75.18 649.82,76.93 652.97,76.15 656.13,73.60 659.28,78.75 662.43,77.42 665.59,76.20 668.74,72.88 671.89,74.17 675.05,72.90 678.20,74.17" fill="none" stroke="#86b889" stroke-width="0.6" stroke-linejoin="round" stroke-opacity="0.63"/>
<polyline points="489.00,65.76 492.15,65.41 495.31,65.22 498.46,64.21 501.61,62.90 504.77,63.48 507.92,61.87 511.07,60.73 514.23,61.35 517.38,61.13 520.53,60.86 523.69,60.36 526.84,56.66 529.99,59.88 533.15,57.26 536.30,56.37 539.45,55.56 542.61,53.66 545.76,50.90 548.91,51.05 552.07,50.93 555.22,51.10 558.37,49.91 561.53,47.38 564.68,48.00 567.83,48.87 570.99,48.85 574.14,48.09 577.29,47.76 580.45,44.91 583.60,54.39 586.75,61.95 589.91,64.28 593.06,69.97 596.21,70.90 599.37,71.93 602.52,76.45 605.67,78.43 608.83,78.41 611.98,75.75 615.13,74.34 618.29,77.83 621.44,75.60 624.59,77.07 627.75,77.63 630.90,78.09 634.05,77.92 637.21,80.18 640.36,79.71 643.51,79.91 646.67,77.32 649.82,73.95 652.97,71.78 656.13,75.76 659.28,79.29 662.43,78.50 665.59,79.04 668.74,74.72 671.89,75.39 675.05,77.63 678.20,75.84" fill="none" stroke="#86b889" stroke-width="0.6" stroke-linejoin="round" stroke-opacity="0.62"/>
<polyline points="489.00,72.11 492.15,69.05 495.31,69.70 498.46,67.33 501.61,67.42 504.77,67.35 507.92,66.19 511.07,66.28 514.23,66.79 517.38,64.50 520.53,62.76 523.69,63.59 526.84,65.77 529.99,64.46 533.15,65.53 536.30,65.67 539.45,61.23 542.61,58.37 545.76,57.20 548.91,58.07 552.07,56.79 555.22,55.87 558.37,56.90 561.53,57.48 564.68,54.62 567.83,53.89 570.99,52.34 574.14,52.96 577.29,48.41 580.45,47.45 583.60,52.71 586.75,55.42 589.91,63.65 593.06,66.30 596.21,66.24 599.37,65.79 602.52,64.69 605.67,68.43 608.83,67.81 611.98,63.62 615.13,65.51 618.29,68.48 621.44,68.14 624.59,67.26 627.75,69.47 630.90,70.73 634.05,68.68 637.21,66.34 640.36,66.50 643.51,70.66 646.67,66.79 649.82,66.36 652.97,67.85 656.13,68.61 659.28,67.94 662.43,70.44 665.59,67.57 668.74,66.29 671.89,68.29 675.05,68.38 678.20,67.08" fill="none" stroke="#86b889" stroke-width="0.6" stroke-linejoin="round" stroke-opacity="0.65"/>
<polyline points="489.00,76.31 492.15,75.87 495.31,74.49 498.46,72.82 501.61,73.28 504.77,73.65 507.92,73.32 511.07,69.67 514.23,67.58 517.38,66.77 520.53,66.18 523.69,65.48 526.84,66.01 529.99,64.64 533.15,66.29 536.30,65.03 539.45,64.88 542.61,62.06 545.76,62.56 548.91,61.49 552.07,59.80 555.22,57.21 558.37,59.10 561.53,59.47 564.68,56.36 567.83,57.72 570.99,55.26 574.14,55.46 577.29,54.29 580.45,56.00 583.60,56.32 586.75,64.11 589.91,69.20 593.06,67.42 596.21,69.54 599.37,66.33 602.52,70.23 605.67,72.89 608.83,73.20 611.98,71.04 615.13,72.84 618.29,72.75 621.44,72.63 624.59,74.79 627.75,73.95 630.90,74.63 634.05,76.02 637.21,73.24 640.36,72.58 643.51,73.26 646.67,75.02 649.82,77.33 652.97,74.29 656.13,74.13 659.28,76.52 662.43,74.85 665.59,76.52 668.74,74.80 671.89,73.94 675.05,73.31 678.20,73.30" fill="none" stroke="#86b889" stroke-width="0.6" stroke-linejoin="round" stroke-opacity="0.62"/>
<polyline points="489.00,70.79 492.15,69.69 495.31,68.68 498.46,67.82 501.61,65.10 504.77,63.01 507.92,65.58 511.07,65.37 514.23,65.01 517.38,63.11 520.53,64.17 523.69,63.45 526.84,64.26 529.99,64.55 533.15,62.02 536.30,62.97 539.45,60.08 542.61,57.12 545.76,57.84 548.91,57.31 552.07,58.04 555.22,59.48 558.37,56.39 561.53,56.44 564.68,54.60 567.83,53.15 570.99,51.55 574.14,48.89 577.29,50.46 580.45,50.12 583.60,59.15 586.75,61.19 589.91,66.44 593.06,69.32 596.21,68.08 599.37,73.66 602.52,71.63 605.67,70.59 608.83,71.89 611.98,69.14 615.13,71.75 618.29,70.86 621.44,73.86 624.59,74.86 627.75,70.66 630.90,69.30 634.05,72.20 637.21,71.30 640.36,73.88 643.51,74.23 646.67,70.92 649.82,69.86 652.97,70.17 656.13,71.10 659.28,71.16 662.43,72.58 665.59,69.99 668.74,71.61 671.89,72.17 675.05,69.43 678.20,71.40" fill="none" stroke="#86b889" stroke-width="0.6" stroke-linejoin="round" stroke-opacity="0.54"/>
<polyline points="489.00,70.26 492.15,68.75 495.31,65.13 498.46,65.52 501.61,65.88 504.77,67.16 507.92,64.22 511.07,63.01 514.23,63.88 517.38,63.41 520.53,61.07 523.69,58.07 526.84,57.05 529.99,56.79 533.15,56.96 536.30,55.46 539.45,54.90 542.61,50.77 545.76,53.87 548.91,53.21 552.07,49.90 555.22,50.55 558.37,47.61 561.53,48.29 564.68,47.68 567.83,47.70 570.99,48.71 574.14,47.87 577.29,42.10 580.45,41.95 583.60,60.31 586.75,67.40 589.91,69.53 593.06,69.36 596.21,71.24 599.37,71.82 602.52,70.16 605.67,71.64 608.83,73.67 611.98,72.68 615.13,72.82 618.29,71.08 621.44,72.53 624.59,73.57 627.75,72.80 630.90,69.62 634.05,70.98 637.21,71.14 640.36,71.43 643.51,71.08 646.67,69.99 649.82,68.88 652.97,73.19 656.13,70.06 659.28,71.07 662.43,71.91 665.59,68.01 668.74,70.61 671.89,68.25 675.05,68.93 678.20,72.26" fill="none" stroke="#86b889" stroke-width="0.6" stroke-linejoin="round" stroke-opacity="0.79"/>
<polyline points="489.00,65.40 492.15,62.90 495.31,64.81 498.46,68.28 501.61,63.99 504.77,62.03 507.92,63.66 511.07,60.24 514.23,58.78 517.38,60.25 520.53,59.02 523.69,56.63 526.84,56.52 529.99,55.46 533.15,54.64 536.30,55.91 539.45,56.55 542.61,54.99 545.76,51.80 548.91,54.61 552.07,51.50 555.22,56.53 558.37,53.59 561.53,48.68 564.68,49.64 567.83,48.74 570.99,47.26 574.14,44.94 577.29,47.47 580.45,56.39 583.60,75.17 586.75,78.45 589.91,76.40 593.06,79.80 596.21,79.88 599.37,80.82 602.52,81.33 605.67,79.16 608.83,77.75 611.98,74.93 615.13,77.79 618.29,78.04 621.44,78.74 624.59,77.55 627.75,77.81 630.90,80.28 634.05,78.25 637.21,76.97 640.36,76.91 643.51,77.45 646.67,77.95 649.82,79.28 652.97,80.62 656.13,80.36 659.28,80.35 662.43,80.30 665.59,79.09 668.74,80.23 671.89,77.08 675.05,77.78 678.20,78.87" fill="none" stroke="#86b889" stroke-width="0.6" stroke-linejoin="round" stroke-opacity="0.45"/>
<polyline points="489.00,75.77 492.15,75.90 495.31,75.29 498.46,72.81 501.61,71.29 504.77,72.02 507.92,72.88 511.07,73.71 514.23,70.40 517.38,65.97 520.53,65.58 523.69,68.18 526.84,66.28 529.99,62.98 533.15,59.23 536.30,58.04 539.45,58.21 542.61,57.87 545.76,59.03 548.91,57.84 552.07,56.59 555.22,56.17 558.37,54.07 561.53,53.39 564.68,51.36 567.83,48.30 570.99,47.64 574.14,47.25 577.29,47.48 580.45,48.87 583.60,57.73 586.75,63.40 589.91,66.98 593.06,64.55 596.21,66.11 599.37,65.55 602.52,66.43 605.67,68.17 608.83,63.65 611.98,67.05 615.13,65.03 618.29,66.60 621.44,65.86 624.59,67.28 627.75,67.17 630.90,65.07 634.05,62.75 637.21,66.26 640.36,66.16 643.51,64.67 646.67,66.59 649.82,65.19 652.97,67.01 656.13,65.51 659.28,65.24 662.43,63.94 665.59,64.80 668.74,67.51 671.89,65.58 675.05,67.64 678.20,65.50" fill="none" stroke="#86b889" stroke-width="0.6" stroke-linejoin="round" stroke-opacity="0.75"/>
<polyline points="489.00,73.89 492.15,76.60 495.31,75.33 498.46,77.89 501.61,76.30 504.77,75.23 507.92,75.03 511.07,70.42 514.23,69.36 517.38,69.12 520.53,69.34 523.69,66.11 526.84,65.47 529.99,65.48 533.15,65.91 536.30,65.78 539.45,65.32 542.61,64.10 545.76,65.37 548.91,63.08 552.07,60.74 555.22,60.35 558.37,61.79 561.53,59.80 564.68,60.32 567.83,60.60 570.99,54.65 574.14,56.38 577.29,57.26 580.45,62.75 583.60,69.46 586.75,69.85 589.91,72.25 593.06,72.22 596.21,68.22 599.37,69.87 602.52,71.56 605.67,68.52 608.83,71.21 611.98,66.44 615.13,70.24 618.29,70.26 621.44,70.53 624.59,69.86 627.75,71.63 630.90,70.97 634.05,68.56 637.21,66.94 640.36,65.89 643.51,66.05 646.67,67.69 649.82,67.66 652.97,67.26 656.13,69.17 659.28,68.11 662.43,67.79 665.59,68.31 668.74,68.67 671.89,67.81 675.05,69.81 678.20,71.06" fill="none" stroke="#86b889" stroke-width="0.6" stroke-linejoin="round" stroke-opacity="0.47"/>
<polyline points="489.00,70.73 492.15,69.66 495.31,66.29 498.46,65.10 501.61,63.85 504.77,62.28 507.92,61.94 511.07,59.03 514.23,60.80 517.38,60.56 520.53,58.79 523.69,56.95 526.84,55.67 529.99,53.58 533.15,55.31 536.30,52.81 539.45,52.45 542.61,54.09 545.76,52.70 548.91,48.21 552.07,48.08 555.22,49.40 558.37,52.28 561.53,50.15 564.68,48.79 567.83,46.54 570.99,41.73 574.14,41.90 577.29,42.06 580.45,59.54 583.60,73.24 586.75,74.56 589.91,75.04 593.06,69.77 596.21,73.18 599.37,74.70 602.52,72.53 605.67,73.40 608.83,75.73 611.98,72.65 615.13,74.04 618.29,76.10 621.44,74.27 624.59,73.37 627.75,74.33 630.90,73.07 634.05,72.44 637.21,74.85 640.36,77.51 643.51,78.95 646.67,75.96 649.82,72.82 652.97,72.07 656.13,71.21 659.28,70.19 662.43,72.67 665.59,71.94 668.74,75.67 671.89,73.55 675.05,73.27 678.20,73.92" fill="none" stroke="#86b889" stroke-width="0.6" stroke-linejoin="round" stroke-opacity="0.59"/>
<polyline points="489.00,69.46 492.15,70.83 495.31,69.77 498.46,68.20 501.61,63.67 504.77,67.12 507.92,63.11 511.07,60.48 514.23,59.91 517.38,60.26 520.53,58.50 523.69,60.13 526.84,59.43 529.99,57.87 533.15,58.63 536.30,57.45 539.45,55.72 542.61,55.76 545.76,53.04 548.91,53.52 552.07,54.28 555.22,52.88 558.37,52.27 561.53,52.22 564.68,49.28 567.83,45.95 570.99,47.71 574.14,47.35 577.29,46.77 580.45,47.59 583.60,61.95 586.75,68.62 589.91,68.94 593.06,71.19 596.21,71.69 599.37,69.15 602.52,71.17 605.67,71.15 608.83,69.66 611.98,71.58 615.13,70.42 618.29,72.72 621.44,72.59 624.59,73.03 627.75,71.06 630.90,72.29 634.05,73.15 637.21,71.65 640.36,69.51 643.51,72.93 646.67,69.08 649.82,73.28 652.97,73.42 656.13,73.94 659.28,70.18 662.43,70.67 665.59,71.09 668.74,69.77 671.89,69.94 675.05,71.55 678.20,72.80" fill="none" stroke="#86b889" stroke-width="0.6" stroke-linejoin="round" stroke-opacity="0.56"/>
<polyline points="489.00,63.38 492.15,62.49 495.31,61.75 498.46,60.67 501.61,60.87 504.77,59.52 507.92,57.37 511.07,58.23 514.23,59.39 517.38,57.15 520.53,55.31 523.69,57.23 526.84,55.51 529.99,52.37 533.15,51.82 536.30,50.67 539.45,51.76 542.61,48.22 545.76,45.08 548.91,46.41 552.07,47.11 555.22,47.42 558.37,43.78 561.53,43.14 564.68,43.71 567.83,40.22 570.99,39.11 574.14,38.38 577.29,41.18 580.45,39.02 583.60,55.93 586.75,71.83 589.91,72.44 593.06,71.50 596.21,71.70 599.37,74.46 602.52,75.40 605.67,73.18 608.83,72.32 611.98,71.66 615.13,71.47 618.29,73.42 621.44,74.57 624.59,77.21 627.75,74.06 630.90,70.65 634.05,73.69 637.21,74.77 640.36,73.41 643.51,73.36 646.67,76.04 649.82,75.96 652.97,76.53 656.13,71.91 659.28,74.52 662.43,73.01 665.59,70.84 668.74,70.11 671.89,70.58 675.05,70.43 678.20,74.81" fill="none" stroke="#86b889" stroke-width="0.6" stroke-linejoin="round" stroke-opacity="0.62"/>
<polyline points="489.00,67.17 492.15,63.26 495.31,64.40 498.46,64.83 501.61,64.34 504.77,62.66 507.92,63.31 511.07,61.02 514.23,61.35 517.38,62.92 520.53,61.69 523.69,58.72 526.84,56.19 529.99,56.28 533.15,56.00 536.30,53.69 539.45,50.22 542.61,50.56 545.76,53.15 548.91,53.56 552.07,50.27 555.22,50.91 558.37,52.06 561.53,52.82 564.68,51.80 567.83,48.43 570.99,47.70 574.14,47.92 577.29,46.52 580.45,53.55 583.60,69.04 586.75,74.18 589.91,74.96 593.06,76.99 596.21,75.52 599.37,78.08 602.52,75.96 605.67,74.90 608.83,76.22 611.98,74.83 615.13,73.66 618.29,77.74 621.44,78.79 624.59,79.96 627.75,77.40 630.90,78.61 634.05,80.48 637.21,78.70 640.36,79.88 643.51,75.56 646.67,77.10 649.82,76.57 652.97,78.60 656.13,79.89 659.28,77.71 662.43,76.19 665.59,78.28 668.74,79.57 671.89,78.66 675.05,76.96 678.20,78.26" fill="none" stroke="#86b889" stroke-width="0.6" stroke-linejoin="round" stroke-opacity="0.42"/>
<polyline points="489.00,71.44 492.15,72.45 495.31,70.12 498.46,70.05 501.61,68.61 504.77,67.35 507.92,64.80 511.07,63.32 514.23,64.95 517.38,63.40 520.53,59.99 523.69,59.69 526.84,60.89 529.99,59.78 533.15,59.15 536.30,56.34 539.45,56.17 542.61,55.00 545.76,51.16 548.91,54.77 552.07,54.87 555.22,55.43 558.37,54.82 561.53,50.23 564.68,48.90 567.83,45.78 570.99,49.67 574.14,48.75 577.29,44.24 580.45,42.72 583.60,58.43 586.75,68.52 589.91,72.92 593.06,74.39 596.21,74.79 599.37,73.67 602.52,74.83 605.67,74.49 608.83,72.62 611.98,75.95 615.13,76.53 618.29,74.70 621.44,75.34 624.59,75.40 627.75,71.94 630.90,73.33 634.05,75.10 637.21,73.38 640.36,70.59 643.51,75.21 646.67,76.15 649.82,75.26 652.97,76.12 656.13,72.08 659.28,73.21 662.43,75.03 665.59,74.29 668.74,76.02 671.89,76.33 675.05,75.34 678.20,71.47" fill="none" stroke="#86b889" stroke-width="0.6" stroke-linejoin="round" stroke-opacity="0.48"/>
<polyline points="489.00,75.41 492.15,72.01 495.31,71.01 498.46,67.87 501.61,66.68 504.77,68.57 507.92,64.39 511.07,63.81 514.23,66.55 517.38,63.65 520.53,61.91 523.69,61.04 526.84,62.42 529.99,60.79 533.15,60.15 536.30,60.80 539.45,57.39 542.61,57.65 545.76,56.63 548.91,56.49 552.07,53.86 555.22,54.34 558.37,55.82 561.53,56.07 564.68,56.70 567.83,54.62 570.99,53.05 574.14,52.50 577.29,47.34 580.45,49.00 583.60,69.42 586.75,73.55 589.91,74.07 593.06,71.97 596.21,73.05 599.37,75.12 602.52,74.31 605.67,71.68 608.83,72.18 611.98,73.20 615.13,72.16 618.29,72.72 621.44,73.76 624.59,74.06 627.75,71.07 630.90,72.53 634.05,71.82 637.21,73.76 640.36,73.79 643.51,69.85 646.67,74.89 649.82,72.21 652.97,72.60 656.13,73.09 659.28,74.78 662.43,72.21 665.59,73.74 668.74,72.65 671.89,71.33 675.05,73.54 678.20,74.57" fill="none" stroke="#86b889" stroke-width="0.6" stroke-linejoin="round" stroke-opacity="0.66"/>
<polyline points="489.00,62.93 492.15,60.16 495.31,59.22 498.46,59.25 501.61,56.02 504.77,55.47 507.92,54.21 511.07,54.25 514.23,53.61 517.38,52.61 520.53,53.41 523.69,49.64 526.84,48.05 529.99,50.17 533.15,47.48 536.30,44.30 539.45,44.00 542.61,41.64 545.76,42.62 548.91,41.94 552.07,43.10 555.22,42.28 558.37,42.80 561.53,40.94 564.68,37.92 567.83,35.82 570.99,33.49 574.14,33.65 577.29,34.83 580.45,32.43 583.60,54.88 586.75,64.70 589.91,66.08 593.06,67.73 596.21,71.47 599.37,71.82 602.52,70.83 605.67,71.88 608.83,70.34 611.98,69.55 615.13,69.04 618.29,69.80 621.44,71.78 624.59,72.42 627.75,71.53 630.90,68.97 634.05,67.70 637.21,68.17 640.36,69.29 643.51,69.20 646.67,68.94 649.82,68.12 652.97,68.51 656.13,72.34 659.28,69.84 662.43,69.84 665.59,71.14 668.74,70.08 671.89,70.07 675.05,70.60 678.20,73.31" fill="none" stroke="#86b889" stroke-width="0.6" stroke-linejoin="round" stroke-opacity="0.79"/>
<polyline points="489.00,71.82 492.15,71.08 495.31,70.68 498.46,69.35 501.61,65.27 504.77,65.55 507.92,64.86 511.07,65.74 514.23,63.45 517.38,63.27 520.53,62.82 523.69,59.67 526.84,60.69 529.99,60.53 533.15,60.91 536.30,59.41 539.45,56.33 542.61,56.55 545.76,54.44 548.91,53.52 552.07,54.57 555.22,56.04 558.37,50.01 561.53,51.39 564.68,51.26 567.83,52.20 570.99,48.85 574.14,47.08 577.29,46.70 580.45,58.27 583.60,72.52 586.75,75.45 589.91,75.15 593.06,74.74 596.21,72.72 599.37,71.53 602.52,73.22 605.67,72.33 608.83,73.29 611.98,73.13 615.13,71.71 618.29,72.89 621.44,72.71 624.59,72.06 627.75,71.11 630.90,73.11 634.05,72.24 637.21,76.82 640.36,72.21 643.51,73.52 646.67,75.43 649.82,72.89 652.97,70.97 656.13,69.63 659.28,70.24 662.43,72.31 665.59,71.29 668.74,70.89 671.89,71.62 675.05,72.10 678.20,70.61" fill="none" stroke="#86b889" stroke-width="0.6" stroke-linejoin="round" stroke-opacity="0.77"/>
<polyline points="489.00,74.66 492.15,72.79 495.31,70.95 498.46,71.69 501.61,70.61 504.77,72.42 507.92,69.80 511.07,68.79 514.23,68.40 517.38,65.71 520.53,62.84 523.69,62.48 526.84,64.63 529.99,61.29 533.15,62.47 536.30,61.91 539.45,62.02 542.61,59.93 545.76,58.52 548.91,58.14 552.07,58.02 555.22,57.35 558.37,56.99 561.53,54.22 564.68,55.03 567.83,54.21 570.99,53.49 574.14,53.55 577.29,52.23 580.45,53.16 583.60,67.95 586.75,72.78 589.91,74.53 593.06,72.12 596.21,74.91 599.37,73.76 602.52,73.48 605.67,74.94 608.83,75.00 611.98,73.28 615.13,73.95 618.29,73.85 621.44,72.09 624.59,73.30 627.75,76.63 630.90,76.35 634.05,73.84 637.21,74.44 640.36,76.11 643.51,78.08 646.67,75.23 649.82,72.42 652.97,75.67 656.13,78.22 659.28,75.01 662.43,75.48 665.59,75.27 668.74,75.24 671.89,76.12 675.05,74.36 678.20,73.02" fill="none" stroke="#86b889" stroke-width="0.6" stroke-linejoin="round" stroke-opacity="0.53"/>
<polyline points="489.00,75.01 492.15,73.82 495.31,72.49 498.46,73.80 501.61,72.74 504.77,72.63 507.92,72.55 511.07,69.90 514.23,68.91 517.38,69.67 520.53,68.29 523.69,69.85 526.84,69.04 529.99,69.38 533.15,67.56 536.30,64.16 539.45,63.82 542.61,63.83 545.76,62.59 548.91,62.55 552.07,61.36 555.22,62.83 558.37,60.78 561.53,61.01 564.68,59.02 567.83,58.14 570.99,57.04 574.14,58.39 577.29,53.88 580.45,55.61 583.60,68.01 586.75,70.26 589.91,70.97 593.06,72.39 596.21,70.37 599.37,68.67 602.52,69.89 605.67,73.18 608.83,72.76 611.98,70.62 615.13,72.31 618.29,71.91 621.44,71.70 624.59,71.61 627.75,69.88 630.90,68.38 634.05,72.17 637.21,73.20 640.36,68.77 643.51,68.70 646.67,69.29 649.82,71.02 652.97,70.36 656.13,72.78 659.28,67.66 662.43,68.53 665.59,68.61 668.74,69.14 671.89,67.33 675.05,69.00 678.20,69.53" fill="none" stroke="#86b889" stroke-width="0.6" stroke-linejoin="round" stroke-opacity="0.62"/>
<polyline points="489.00,72.61 492.15,70.18 495.31,70.91 498.46,69.18 501.61,70.05 504.77,68.17 507.92,64.49 511.07,64.26 514.23,65.17 517.38,60.44 520.53,61.80 523.69,58.50 526.84,59.82 529.99,61.13 533.15,55.99 536.30,57.07 539.45,55.07 542.61,53.14 545.76,55.70 548.91,53.91 552.07,53.70 555.22,51.26 558.37,50.77 561.53,51.92 564.68,49.74 567.83,47.34 570.99,47.53 574.14,45.72 577.29,46.17 580.45,46.82 583.60,72.90 586.75,76.44 589.91,75.21 593.06,75.16 596.21,75.29 599.37,75.52 602.52,76.46 605.67,78.78 608.83,76.23 611.98,74.31 615.13,75.93 618.29,77.22 621.44,77.34 624.59,75.50 627.75,76.25 630.90,78.44 634.05,77.97 637.21,78.71 640.36,78.11 643.51,78.95 646.67,79.21 649.82,75.74 652.97,75.19 656.13,79.01 659.28,79.39 662.43,78.72 665.59,78.40 668.74,79.79 671.89,76.84 675.05,79.59 678.20,77.07" fill="none" stroke="#86b889" stroke-width="0.6" stroke-linejoin="round" stroke-opacity="0.67"/>
<polyline points="489.00,69.10 492.15,66.90 495.31,67.45 498.46,63.44 501.61,66.80 504.77,64.36 507.92,62.78 511.07,65.33 514.23,62.71 517.38,65.16 520.53,60.44 523.69,59.92 526.84,59.71 529.99,59.22 533.15,59.08 536.30,56.50 539.45,55.94 542.61,56.10 545.76,59.91 548.91,54.80 552.07,52.53 555.22,50.22 558.37,50.45 561.53,51.78 564.68,50.06 567.83,50.07 570.99,45.93 574.14,45.84 577.29,47.00 580.45,57.67 583.60,69.36 586.75,71.02 589.91,75.96 593.06,75.14 596.21,71.50 599.37,74.41 602.52,73.56 605.67,71.89 608.83,71.13 611.98,68.81 615.13,68.57 618.29,70.74 621.44,69.70 624.59,70.13 627.75,70.33 630.90,69.36 634.05,70.76 637.21,70.15 640.36,69.58 643.51,71.25 646.67,70.57 649.82,72.89 652.97,72.07 656.13,71.98 659.28,71.42 662.43,68.72 665.59,69.50 668.74,71.28 671.89,71.09 675.05,70.88 678.20,69.92" fill="none" stroke="#86b889" stroke-width="0.6" stroke-linejoin="round" stroke-opacity="0.80"/>
<polyline points="489.00,73.82 492.15,71.64 495.31,69.85 498.46,70.59 501.61,66.92 504.77,66.13 507.92,67.10 511.07,67.41 514.23,65.69 517.38,60.24 520.53,58.01 523.69,63.60 526.84,63.92 529.99,59.63 533.15,58.66 536.30,58.48 539.45,55.91 542.61,55.13 545.76,53.93 548.91,52.91 552.07,53.95 555.22,50.04 558.37,50.72 561.53,47.91 564.68,46.95 567.83,46.96 570.99,46.18 574.14,45.54 577.29,47.39 580.45,52.53 583.60,64.73 586.75,71.38 589.91,73.32 593.06,70.04 596.21,69.28 599.37,72.58 602.52,70.69 605.67,70.80 608.83,69.29 611.98,70.73 615.13,71.08 618.29,72.00 621.44,70.91 624.59,71.00 627.75,71.83 630.90,71.65 634.05,72.21 637.21,70.31 640.36,72.16 643.51,73.61 646.67,73.21 649.82,69.97 652.97,71.25 656.13,69.94 659.28,69.35 662.43,71.03 665.59,69.70 668.74,69.62 671.89,70.42 675.05,71.71 678.20,71.18" fill="none" stroke="#86b889" stroke-width="0.6" stroke-linejoin="round" stroke-opacity="0.67"/>
<polyline points="489.00,72.98 492.15,70.07 495.31,68.34 498.46,68.57 501.61,67.87 504.77,68.81 507.92,67.10 511.07,66.82 514.23,63.68 517.38,62.82 520.53,63.34 523.69,61.74 526.84,62.61 529.99,61.48 533.15,61.36 536.30,58.46 539.45,58.72 542.61,57.13 545.76,57.40 548.91,58.79 552.07,55.44 555.22,54.56 558.37,53.19 561.53,55.00 564.68,56.85 567.83,54.08 570.99,51.31 574.14,53.64 577.29,47.42 580.45,60.32 583.60,71.96 586.75,76.30 589.91,74.40 593.06,74.74 596.21,73.28 599.37,72.54 602.52,76.56 605.67,77.26 608.83,77.57 611.98,77.04 615.13,76.48 618.29,74.74 621.44,77.37 624.59,78.47 627.75,76.00 630.90,77.13 634.05,75.46 637.21,75.35 640.36,73.50 643.51,76.59 646.67,76.83 649.82,73.97 652.97,74.65 656.13,77.29 659.28,75.57 662.43,78.62 665.59,78.72 668.74,75.75 671.89,74.30 675.05,72.68 678.20,74.75" fill="none" stroke="#86b889" stroke-width="0.6" stroke-linejoin="round" stroke-opacity="0.53"/>
<polyline points="489.00,72.16 492.15,67.86 495.31,64.31 498.46,62.44 501.61,65.71 504.77,65.10 507.92,63.20 511.07,65.06 514.23,60.58 517.38,62.25 520.53,60.62 523.69,61.81 526.84,59.34 529.99,58.50 533.15,55.96 536.30,57.96 539.45,56.33 542.61,52.40 545.76,55.10 548.91,53.10 552.07,51.72 555.22,52.11 558.37,51.34 561.53,47.93 564.68,46.59 567.83,46.45 570.99,46.31 574.14,47.86 577.29,45.96 580.45,42.11 583.60,60.06 586.75,76.16 589.91,82.61 593.06,82.60 596.21,81.29 599.37,81.93 602.52,81.77 605.67,80.71 608.83,79.48 611.98,80.11 615.13,78.73 618.29,82.37 621.44,80.73 624.59,80.22 627.75,82.99 630.90,79.73 634.05,82.99 637.21,83.90 640.36,77.86 643.51,77.87 646.67,79.29 649.82,78.28 652.97,78.24 656.13,81.75 659.28,80.48 662.43,78.62 665.59,80.38 668.74,80.64 671.89,81.56 675.05,80.03 678.20,81.49" fill="none" stroke="#86b889" stroke-width="0.6" stroke-linejoin="round" stroke-opacity="0.64"/>
<polyline points="489.00,68.77 492.15,65.68 495.31,63.98 498.46,65.34 501.61,64.29 504.77,60.80 507.92,59.32 511.07,61.81 514.23,61.94 517.38,58.84 520.53,54.14 523.69,57.57 526.84,59.67 529.99,58.34 533.15,55.45 536.30,55.64 539.45,53.95 542.61,54.38 545.76,54.07 548.91,51.53 552.07,52.20 555.22,52.22 558.37,49.41 561.53,47.04 564.68,47.49 567.83,46.91 570.99,46.91 574.14,46.39 577.29,45.14 580.45,42.66 583.60,70.43 586.75,75.78 589.91,79.18 593.06,81.80 596.21,78.23 599.37,79.92 602.52,76.92 605.67,78.88 608.83,79.21 611.98,76.85 615.13,76.87 618.29,77.83 621.44,76.21 624.59,76.04 627.75,77.58 630.90,78.54 634.05,80.26 637.21,78.64 640.36,76.54 643.51,75.18 646.67,74.49 649.82,76.69 652.97,75.83 656.13,78.70 659.28,75.75 662.43,75.90 665.59,78.84 668.74,78.87 671.89,78.41 675.05,77.52 678.20,78.14" fill="none" stroke="#86b889" stroke-width="0.6" stroke-linejoin="round" stroke-opacity="0.55"/>
<polyline points="489.00,66.85 492.15,66.81 495.31,62.00 498.46,65.06 501.61,61.17 504.77,61.12 507.92,62.32 511.07,60.49 514.23,60.90 517.38,58.90 520.53,58.97 523.69,59.30 526.84,52.87 529.99,55.02 533.15,52.91 536.30,53.25 539.45,51.70 542.61,53.65 545.76,53.46 548.91,56.34 552.07,50.13 555.22,48.29 558.37,49.64 561.53,46.43 564.68,45.15 567.83,40.51 570.99,42.56 574.14,41.68 577.29,41.31 580.45,42.50 583.60,65.45 586.75,72.22 589.91,72.33 593.06,71.42 596.21,74.82 599.37,75.96 602.52,74.64 605.67,71.30 608.83,73.27 611.98,76.29 615.13,73.43 618.29,72.51 621.44,70.33 624.59,72.31 627.75,70.21 630.90,73.69 634.05,72.37 637.21,73.11 640.36,75.44 643.51,74.83 646.67,72.10 649.82,71.48 652.97,73.60 656.13,72.01 659.28,71.78 662.43,71.71 665.59,72.64 668.74,72.93 671.89,74.81 675.05,74.28 678.20,73.79" fill="none" stroke="#86b889" stroke-width="0.6" stroke-linejoin="round" stroke-opacity="0.57"/>
<polyline points="489.00,71.04 492.15,71.36 495.31,68.47 498.46,70.43 501.61,66.91 504.77,63.52 507.92,62.36 511.07,60.95 514.23,58.84 517.38,62.52 520.53,61.96 523.69,63.34 526.84,62.94 529.99,58.71 533.15,58.62 536.30,56.80 539.45,56.47 542.61,54.83 545.76,57.06 548.91,55.23 552.07,54.73 555.22,53.51 558.37,52.26 561.53,50.22 564.68,49.14 567.83,46.90 570.99,48.22 574.14,47.41 577.29,47.25 580.45,62.87 583.60,71.42 586.75,72.67 589.91,72.05 593.06,71.35 596.21,72.98 599.37,75.12 602.52,73.47 605.67,70.22 608.83,74.35 611.98,75.01 615.13,74.34 618.29,72.08 621.44,73.44 624.59,73.81 627.75,70.75 630.90,72.17 634.05,71.11 637.21,73.81 640.36,72.41 643.51,73.71 646.67,71.86 649.82,72.95 652.97,72.71 656.13,72.50 659.28,73.18 662.43,74.86 665.59,73.87 668.74,74.07 671.89,72.61 675.05,71.54 678.20,71.50" fill="none" stroke="#86b889" stroke-width="0.6" stroke-linejoin="round" stroke-opacity="0.53"/>
<polyline points="489.00,78.32 492.15,79.29 495.31,75.74 498.46,75.45 501.61,74.73 504.77,74.17 507.92,76.68 511.07,75.93 514.23,74.35 517.38,70.32 520.53,70.83 523.69,68.63 526.84,69.89 529.99,69.51 533.15,68.26 536.30,64.91 539.45,67.45 542.61,65.49 545.76,63.37 548.91,62.53 552.07,61.94 555.22,59.96 558.37,59.51 561.53,60.84 564.68,58.22 567.83,58.97 570.99,58.02 574.14,54.37 577.29,51.02 580.45,50.86 583.60,65.02 586.75,69.45 589.91,70.55 593.06,67.10 596.21,67.96 599.37,70.94 602.52,67.37 605.67,67.67 608.83,66.62 611.98,67.68 615.13,72.04 618.29,71.35 621.44,70.19 624.59,69.82 627.75,67.08 630.90,69.51 634.05,69.48 637.21,69.40 640.36,69.42 643.51,70.90 646.67,71.72 649.82,74.11 652.97,70.41 656.13,69.95 659.28,69.16 662.43,70.84 665.59,69.78 668.74,70.93 671.89,71.40 675.05,69.46 678.20,68.31" fill="none" stroke="#86b889" stroke-width="0.6" stroke-linejoin="round" stroke-opacity="0.69"/>
<polyline points="489.00,66.90 492.15,65.62 495.31,67.84 498.46,66.89 501.61,65.59 504.77,63.46 507.92,62.32 511.07,60.46 514.23,61.80 517.38,60.29 520.53,60.73 523.69,61.57 526.84,58.77 529.99,57.87 533.15,58.18 536.30,55.92 539.45,57.13 542.61,54.23 545.76,54.03 548.91,55.48 552.07,52.24 555.22,50.63 558.37,52.00 561.53,51.79 564.68,52.11 567.83,50.19 570.99,49.90 574.14,48.66 577.29,48.64 580.45,67.81 583.60,78.08 586.75,78.96 589.91,77.73 593.06,79.25 596.21,76.89 599.37,79.26 602.52,78.76 605.67,81.04 608.83,80.53 611.98,80.30 615.13,77.34 618.29,82.20 621.44,79.07 624.59,79.62 627.75,76.59 630.90,77.51 634.05,76.76 637.21,77.94 640.36,80.11 643.51,78.89 646.67,77.88 649.82,77.40 652.97,79.26 656.13,78.91 659.28,80.05 662.43,80.31 665.59,80.27 668.74,75.57 671.89,77.79 675.05,79.77 678.20,78.26" fill="none" stroke="#86b889" stroke-width="0.6" stroke-linejoin="round" stroke-opacity="0.49"/>
<polyline points="489.00,77.80 492.15,73.64 495.31,72.22 498.46,73.09 501.61,75.27 504.77,74.62 507.92,73.58 511.07,71.58 514.23,68.70 517.38,70.56 520.53,69.73 523.69,69.90 526.84,68.63 529.99,69.04 533.15,67.09 536.30,64.75 539.45,65.91 542.61,65.78 545.76,64.60 548.91,65.97 552.07,61.16 555.22,63.93 558.37,62.94 561.53,62.97 564.68,58.84 567.83,60.04 570.99,60.05 574.14,55.90 577.29,57.13 580.45,58.14 583.60,70.77 586.75,74.08 589.91,75.71 593.06,75.31 596.21,75.21 599.37,73.72 602.52,73.13 605.67,72.82 608.83,74.20 611.98,73.25 615.13,74.48 618.29,72.79 621.44,73.37 624.59,74.86 627.75,72.80 630.90,76.35 634.05,76.75 637.21,76.62 640.36,75.54 643.51,76.87 646.67,77.29 649.82,78.51 652.97,75.82 656.13,76.25 659.28,71.80 662.43,72.45 665.59,75.65 668.74,72.95 671.89,73.89 675.05,72.70 678.20,75.69" fill="none" stroke="#86b889" stroke-width="0.6" stroke-linejoin="round" stroke-opacity="0.78"/>
<polyline points="489.00,69.68 492.15,70.77 495.31,69.10 498.46,68.23 501.61,68.38 504.77,65.62 507.92,67.09 511.07,63.31 514.23,63.04 517.38,62.31 520.53,61.98 523.69,59.19 526.84,57.94 529.99,61.33 533.15,57.97 536.30,57.11 539.45,57.58 542.61,57.77 545.76,57.54 548.91,61.11 552.07,59.80 555.22,58.16 558.37,58.68 561.53,55.19 564.68,55.72 567.83,51.91 570.99,50.89 574.14,50.17 577.29,48.46 580.45,50.21 583.60,65.17 586.75,69.83 589.91,69.38 593.06,72.92 596.21,71.70 599.37,70.58 602.52,70.91 605.67,75.75 608.83,75.03 611.98,74.09 615.13,73.30 618.29,73.14 621.44,71.33 624.59,73.10 627.75,76.13 630.90,69.96 634.05,72.11 637.21,69.57 640.36,72.79 643.51,72.24 646.67,72.46 649.82,74.48 652.97,72.99 656.13,73.44 659.28,74.71 662.43,75.93 665.59,75.97 668.74,72.05 671.89,71.31 675.05,71.63 678.20,72.23" fill="none" stroke="#86b889" stroke-width="0.6" stroke-linejoin="round" stroke-opacity="0.44"/>
<polyline points="489.00,76.59 492.15,75.93 495.31,74.06 498.46,76.05 501.61,76.13 504.77,73.84 507.92,72.09 511.07,73.85 514.23,70.52 517.38,69.38 520.53,67.27 523.69,71.16 526.84,67.13 529.99,67.32 533.15,66.19 536.30,63.28 539.45,60.28 542.61,61.07 545.76,61.19 548.91,58.47 552.07,60.37 555.22,59.33 558.37,58.95 561.53,59.00 564.68,56.63 567.83,52.38 570.99,53.11 574.14,52.42 577.29,52.44 580.45,50.08 583.60,60.19 586.75,71.75 589.91,73.98 593.06,72.59 596.21,74.43 599.37,73.08 602.52,74.57 605.67,71.84 608.83,73.59 611.98,73.62 615.13,75.10 618.29,73.87 621.44,75.09 624.59,77.46 627.75,75.53 630.90,77.19 634.05,73.60 637.21,73.41 640.36,74.55 643.51,73.91 646.67,78.78 649.82,74.07 652.97,75.82 656.13,74.38 659.28,70.93 662.43,76.22 665.59,76.21 668.74,75.02 671.89,74.49 675.05,77.58 678.20,77.48" fill="none" stroke="#86b889" stroke-width="0.6" stroke-linejoin="round" stroke-opacity="0.55"/>
<polyline points="489.00,68.44 492.15,69.08 495.31,70.33 498.46,68.28 501.61,67.27 504.77,67.56 507.92,65.52 511.07,61.04 514.23,60.62 517.38,60.55 520.53,59.73 523.69,56.80 526.84,60.70 529.99,57.43 533.15,57.53 536.30,55.57 539.45,55.39 542.61,55.16 545.76,57.26 548.91,53.43 552.07,50.98 555.22,51.66 558.37,52.75 561.53,50.19 564.68,51.83 567.83,49.47 570.99,46.16 574.14,43.90 577.29,42.54 580.45,50.08 583.60,75.53 586.75,80.69 589.91,81.08 593.06,81.11 596.21,81.94 599.37,82.30 602.52,82.03 605.67,84.55 608.83,83.86 611.98,85.68 615.13,85.01 618.29,87.39 621.44,85.15 624.59,82.79 627.75,82.38 630.90,81.60 634.05,81.89 637.21,82.37 640.36,86.27 643.51,85.05 646.67,83.73 649.82,84.22 652.97,81.67 656.13,83.28 659.28,80.46 662.43,80.41 665.59,82.38 668.74,85.16 671.89,85.55 675.05,84.86 678.20,83.43" fill="none" stroke="#86b889" stroke-width="0.6" stroke-linejoin="round" stroke-opacity="0.78"/>
<polyline points="489.00,73.93 492.15,74.66 495.31,71.90 498.46,70.92 501.61,69.11 504.77,66.83 507.92,67.60 511.07,67.05 514.23,66.05 517.38,62.91 520.53,66.19 523.69,64.49 526.84,64.27 529.99,62.44 533.15,60.11 536.30,59.89 539.45,58.19 542.61,57.85 545.76,58.54 548.91,58.11 552.07,58.50 555.22,55.55 558.37,54.88 561.53,52.14 564.68,50.40 567.83,52.08 570.99,52.39 574.14,49.28 577.29,49.90 580.45,47.85 583.60,60.61 586.75,71.39 589.91,69.10 593.06,72.08 596.21,71.25 599.37,72.25 602.52,76.44 605.67,73.70 608.83,72.72 611.98,71.23 615.13,71.81 618.29,72.95 621.44,73.01 624.59,72.70 627.75,70.95 630.90,71.94 634.05,69.94 637.21,69.83 640.36,72.27 643.51,70.37 646.67,74.82 649.82,72.82 652.97,73.68 656.13,72.62 659.28,70.30 662.43,71.28 665.59,71.89 668.74,69.85 671.89,72.31 675.05,73.27 678.20,70.81" fill="none" stroke="#86b889" stroke-width="0.6" stroke-linejoin="round" stroke-opacity="0.59"/>
<polyline points="489.00,68.90 492.15,68.93 495.31,66.39 498.46,64.16 501.61,63.77 504.77,64.16 507.92,61.09 511.07,61.96 514.23,63.15 517.38,60.35 520.53,61.31 523.69,61.77 526.84,58.69 529.99,56.21 533.15,57.04 536.30,57.40 539.45,55.52 542.61,53.42 545.76,54.61 548.91,53.46 552.07,51.05 555.22,49.83 558.37,46.58 561.53,46.30 564.68,51.06 567.83,46.05 570.99,46.91 574.14,44.73 577.29,46.41 580.45,43.06 583.60,58.77 586.75,62.84 589.91,62.81 593.06,65.65 596.21,65.16 599.37,65.78 602.52,66.44 605.67,67.93 608.83,67.14 611.98,66.21 615.13,68.48 618.29,64.19 621.44,67.63 624.59,67.28 627.75,67.25 630.90,67.17 634.05,67.41 637.21,63.75 640.36,65.92 643.51,66.70 646.67,65.69 649.82,67.14 652.97,69.20 656.13,65.33 659.28,66.33 662.43,64.72 665.59,64.15 668.74,62.81 671.89,64.13 675.05,65.39 678.20,68.84" fill="none" stroke="#86b889" stroke-width="0.6" stroke-linejoin="round" stroke-opacity="0.75"/>
<polyline points="489.00,58.03 492.15,57.77 495.31,56.81 498.46,53.86 501.61,52.31 504.77,51.96 507.92,51.09 511.07,51.59 514.23,51.64 517.38,51.76 520.53,49.67 523.69,49.47 526.84,47.58 529.99,44.72 533.15,43.41 536.30,41.18 539.45,43.32 542.61,45.45 545.76,43.94 548.91,38.04 552.07,37.40 555.22,38.36 558.37,35.40 561.53,36.48 564.68,33.05 567.83,34.49 570.99,34.42 574.14,32.12 577.29,33.59 580.45,32.01 583.60,52.76 586.75,64.55 589.91,70.71 593.06,71.43 596.21,71.30 599.37,72.37 602.52,70.94 605.67,69.14 608.83,70.37 611.98,69.50 615.13,70.11 618.29,70.57 621.44,72.10 624.59,69.99 627.75,68.65 630.90,70.97 634.05,72.44 637.21,70.79 640.36,70.86 643.51,69.30 646.67,69.74 649.82,70.85 652.97,73.19 656.13,70.90 659.28,70.91 662.43,73.02 665.59,74.10 668.74,75.01 671.89,71.54 675.05,71.96 678.20,76.57" fill="none" stroke="#86b889" stroke-width="0.6" stroke-linejoin="round" stroke-opacity="0.61"/>
<polyline points="489.00,72.34 492.15,69.76 495.31,68.80 498.46,69.38 501.61,68.23 504.77,67.34 507.92,68.43 511.07,66.92 514.23,62.32 517.38,63.97 520.53,64.47 523.69,63.73 526.84,60.87 529.99,58.37 533.15,57.22 536.30,54.23 539.45,56.63 542.61,55.43 545.76,54.80 548.91,54.50 552.07,51.18 555.22,52.56 558.37,51.41 561.53,52.55 564.68,49.68 567.83,49.07 570.99,49.80 574.14,49.29 577.29,49.06 580.45,56.63 583.60,72.46 586.75,76.66 589.91,78.37 593.06,76.45 596.21,76.80 599.37,76.92 602.52,77.49 605.67,79.09 608.83,77.21 611.98,74.64 615.13,74.39 618.29,75.60 621.44,78.52 624.59,79.25 627.75,79.07 630.90,77.53 634.05,77.84 637.21,78.24 640.36,76.98 643.51,76.35 646.67,78.73 649.82,79.50 652.97,77.62 656.13,76.89 659.28,78.32 662.43,77.42 665.59,80.07 668.74,80.05 671.89,78.18 675.05,79.55 678.20,77.82" fill="none" stroke="#86b889" stroke-width="0.6" stroke-linejoin="round" stroke-opacity="0.53"/>
<polyline points="489.00,68.11 492.15,64.21 495.31,66.51 498.46,64.62 501.61,62.68 504.77,63.87 507.92,64.94 511.07,60.12 514.23,57.54 517.38,59.19 520.53,60.71 523.69,57.51 526.84,57.26 529.99,57.87 533.15,56.87 536.30,59.11 539.45,56.92 542.61,56.24 545.76,55.64 548.91,51.94 552.07,50.61 555.22,47.40 558.37,52.55 561.53,50.69 564.68,49.78 567.83,45.56 570.99,44.01 574.14,44.36 577.29,44.00 580.45,44.66 583.60,68.31 586.75,75.63 589.91,80.17 593.06,74.66 596.21,74.49 599.37,72.33 602.52,72.89 605.67,74.24 608.83,74.19 611.98,78.09 615.13,78.41 618.29,75.62 621.44,76.56 624.59,78.81 627.75,77.10 630.90,78.49 634.05,76.97 637.21,74.00 640.36,77.17 643.51,77.21 646.67,75.67 649.82,76.03 652.97,75.82 656.13,77.36 659.28,77.11 662.43,80.21 665.59,77.85 668.74,74.75 671.89,77.42 675.05,76.89 678.20,75.31" fill="none" stroke="#86b889" stroke-width="0.6" stroke-linejoin="round" stroke-opacity="0.76"/>
<polyline points="489.00,74.47 492.15,74.25 495.31,75.67 498.46,72.79 501.61,70.83 504.77,73.08 507.92,70.98 511.07,68.14 514.23,68.69 517.38,66.82 520.53,67.38 523.69,66.55 526.84,66.34 529.99,65.81 533.15,62.07 536.30,63.50 539.45,65.06 542.61,63.23 545.76,60.28 548.91,60.72 552.07,57.60 555.22,55.95 558.37,56.05 561.53,56.22 564.68,55.95 567.83,55.73 570.99,50.99 574.14,50.60 577.29,51.43 580.45,50.34 583.60,67.07 586.75,70.38 589.91,71.43 593.06,73.14 596.21,74.84 599.37,76.60 602.52,74.68 605.67,71.36 608.83,72.50 611.98,72.73 615.13,74.31 618.29,74.73 621.44,76.48 624.59,76.44 627.75,72.08 630.90,72.91 634.05,71.83 637.21,73.82 640.36,72.33 643.51,72.58 646.67,75.29 649.82,77.90 652.97,78.18 656.13,75.21 659.28,73.27 662.43,74.32 665.59,74.64 668.74,72.78 671.89,73.82 675.05,75.39 678.20,73.81" fill="none" stroke="#86b889" stroke-width="0.6" stroke-linejoin="round" stroke-opacity="0.73"/>
<polyline points="489.40,18.40 489.40,104.00 678.50,104.00" fill="none" stroke="#6a6b6e" stroke-width="0.9" stroke-linejoin="round"/>
<line x1="536.30" y1="104.00" x2="536.30" y2="102.00" stroke="#6a6b6e" stroke-width="0.6"/>
<line x1="583.60" y1="104.00" x2="583.60" y2="102.00" stroke="#6a6b6e" stroke-width="0.6"/>
<line x1="630.90" y1="104.00" x2="630.90" y2="102.00" stroke="#6a6b6e" stroke-width="0.6"/>
<line x1="678.20" y1="104.00" x2="678.20" y2="102.00" stroke="#6a6b6e" stroke-width="0.6"/>
<line x1="489.40" y1="68.90" x2="491.40" y2="68.90" stroke="#6a6b6e" stroke-width="0.6"/>
<line x1="489.40" y1="33.80" x2="491.40" y2="33.80" stroke="#6a6b6e" stroke-width="0.6"/>
<text x="484.2" y="107.8" font-size="10.6" fill="#231f20" stroke="#231f20" stroke-width="0.12" text-anchor="middle">0</text>
<text x="484.2" y="72.7" font-size="10.6" fill="#231f20" stroke="#231f20" stroke-width="0.12" text-anchor="middle">5</text>
<text x="484.2" y="37.60000000000001" font-size="10.6" fill="#231f20" stroke="#231f20" stroke-width="0.12" text-anchor="middle">10</text>
<text x="489.0" y="114.2" font-size="10.6" fill="#231f20" stroke="#231f20" stroke-width="0.12" text-anchor="middle">-10</text>
<text x="536.3000000000001" y="114.2" font-size="10.6" fill="#231f20" stroke="#231f20" stroke-width="0.12" text-anchor="middle">-5</text>
<text x="583.6" y="114.2" font-size="10.6" fill="#231f20" stroke="#231f20" stroke-width="0.12" text-anchor="middle">0</text>
<text x="630.9" y="114.2" font-size="10.6" fill="#231f20" stroke="#231f20" stroke-width="0.12" text-anchor="middle">5</text>
<text x="678.2" y="114.2" font-size="10.6" fill="#231f20" stroke="#231f20" stroke-width="0.12" text-anchor="middle">10</text>
<text x="583.4" y="123.5" font-size="9" fill="#231f20" stroke="#231f20" stroke-width="0.2" text-anchor="middle" textLength="155" lengthAdjust="spacingAndGlyphs">time relative to perturbation (min)</text>
<text x="475.6" y="61.5" font-size="9.3" fill="#231f20" stroke="#231f20" stroke-width="0.2" text-anchor="middle" textLength="55" lengthAdjust="spacingAndGlyphs" transform="rotate(-90 475.6 61.5)">[Knirps] (au)</text>
<polyline points="489.00,70.66 495.31,69.00 501.61,67.34 507.92,65.68 514.23,64.02 520.53,62.36 526.84,60.70 533.15,59.04 539.45,57.38 545.76,55.72 552.07,54.06 558.37,52.40 564.68,50.74 570.99,49.08 577.29,47.42 583.60,65.11 589.91,69.67 596.21,72.41 602.52,73.60 608.83,73.67 615.13,73.74 621.44,73.74 627.75,73.67 634.05,73.67 640.36,73.60 646.67,73.60 652.97,73.53 659.28,73.53 665.59,73.46 671.89,73.46 678.20,73.39" fill="none" stroke="#333333" stroke-width="1.0" stroke-linejoin="round"/>
<circle cx="489.00" cy="70.66" r="2.0" fill="#66a06a" stroke="#35523a" stroke-width="0.55"/>
<circle cx="495.31" cy="69.00" r="2.0" fill="#66a06a" stroke="#35523a" stroke-width="0.55"/>
<circle cx="501.61" cy="67.34" r="2.0" fill="#66a06a" stroke="#35523a" stroke-width="0.55"/>
<circle cx="507.92" cy="65.68" r="2.0" fill="#66a06a" stroke="#35523a" stroke-width="0.55"/>
<circle cx="514.23" cy="64.02" r="2.0" fill="#66a06a" stroke="#35523a" stroke-width="0.55"/>
<circle cx="520.53" cy="62.36" r="2.0" fill="#66a06a" stroke="#35523a" stroke-width="0.55"/>
<circle cx="526.84" cy="60.70" r="2.0" fill="#66a06a" stroke="#35523a" stroke-width="0.55"/>
<circle cx="533.15" cy="59.04" r="2.0" fill="#66a06a" stroke="#35523a" stroke-width="0.55"/>
<circle cx="539.45" cy="57.38" r="2.0" fill="#66a06a" stroke="#35523a" stroke-width="0.55"/>
<circle cx="545.76" cy="55.72" r="2.0" fill="#66a06a" stroke="#35523a" stroke-width="0.55"/>
<circle cx="552.07" cy="54.06" r="2.0" fill="#66a06a" stroke="#35523a" stroke-width="0.55"/>
<circle cx="558.37" cy="52.40" r="2.0" fill="#66a06a" stroke="#35523a" stroke-width="0.55"/>
<circle cx="564.68" cy="50.74" r="2.0" fill="#66a06a" stroke="#35523a" stroke-width="0.55"/>
<circle cx="570.99" cy="49.08" r="2.0" fill="#66a06a" stroke="#35523a" stroke-width="0.55"/>
<circle cx="577.29" cy="47.42" r="2.0" fill="#66a06a" stroke="#35523a" stroke-width="0.55"/>
<circle cx="583.60" cy="65.11" r="2.0" fill="#66a06a" stroke="#35523a" stroke-width="0.55"/>
<circle cx="589.91" cy="69.67" r="2.0" fill="#66a06a" stroke="#35523a" stroke-width="0.55"/>
<circle cx="596.21" cy="72.41" r="2.0" fill="#66a06a" stroke="#35523a" stroke-width="0.55"/>
<circle cx="602.52" cy="73.60" r="2.0" fill="#66a06a" stroke="#35523a" stroke-width="0.55"/>
<circle cx="608.83" cy="73.67" r="2.0" fill="#66a06a" stroke="#35523a" stroke-width="0.55"/>
<circle cx="615.13" cy="73.74" r="2.0" fill="#66a06a" stroke="#35523a" stroke-width="0.55"/>
<circle cx="621.44" cy="73.74" r="2.0" fill="#66a06a" stroke="#35523a" stroke-width="0.55"/>
<circle cx="627.75" cy="73.67" r="2.0" fill="#66a06a" stroke="#35523a" stroke-width="0.55"/>
<circle cx="634.05" cy="73.67" r="2.0" fill="#66a06a" stroke="#35523a" stroke-width="0.55"/>
<circle cx="640.36" cy="73.60" r="2.0" fill="#66a06a" stroke="#35523a" stroke-width="0.55"/>
<circle cx="646.67" cy="73.60" r="2.0" fill="#66a06a" stroke="#35523a" stroke-width="0.55"/>
<circle cx="652.97" cy="73.53" r="2.0" fill="#66a06a" stroke="#35523a" stroke-width="0.55"/>
<circle cx="659.28" cy="73.53" r="2.0" fill="#66a06a" stroke="#35523a" stroke-width="0.55"/>
<circle cx="665.59" cy="73.46" r="2.0" fill="#66a06a" stroke="#35523a" stroke-width="0.55"/>
<circle cx="671.89" cy="73.46" r="2.0" fill="#66a06a" stroke="#35523a" stroke-width="0.55"/>
<circle cx="678.20" cy="73.39" r="2.0" fill="#66a06a" stroke="#35523a" stroke-width="0.55"/>
<polygon points="450.10,124.00 454.30,124.00 454.30,139.90 459.70,136.30 452.20,154.00 444.70,136.30 450.10,139.90" fill="#231f20" stroke="none" stroke-width="0.5"/>
<polygon points="450.20,296.00 454.40,296.00 454.40,312.00 459.80,308.40 452.30,325.80 444.80,308.40 450.20,312.00" fill="#231f20" stroke="none" stroke-width="0.5"/>
<text x="334.3" y="152.2" font-size="12.5" fill="#231f20" stroke="#231f20" stroke-width="0.2" font-weight="bold" textLength="6.0" lengthAdjust="spacingAndGlyphs">F</text>
<rect x="331.30" y="154.80" width="11.70" height="114.40" fill="#fae6c8" stroke="none" stroke-width="0.8"/>
<text x="340.3" y="211.4" font-size="9.3" fill="#231f20" stroke="#231f20" stroke-width="0.2" text-anchor="middle" textLength="99" lengthAdjust="spacingAndGlyphs" transform="rotate(-90 340.3 211.4)">input-output function</text>
<polygon points="374.60,164.60 375.50,164.64 376.40,164.68 377.29,164.71 378.19,164.75 379.09,164.79 379.99,164.82 380.89,164.86 381.78,164.90 382.68,164.95 383.58,165.00 384.48,165.06 385.38,165.12 386.27,165.19 387.17,165.28 388.07,165.39 388.97,165.50 389.87,165.63 390.76,165.77 391.66,165.92 392.56,166.08 393.46,166.24 394.36,166.42 395.25,166.60 396.15,166.79 397.05,166.99 397.95,167.21 398.85,167.44 399.74,167.69 400.64,167.96 401.54,168.26 402.44,168.57 403.34,168.90 404.23,169.25 405.13,169.63 406.03,170.03 406.93,170.46 407.83,170.94 408.72,171.49 409.62,172.11 410.52,172.78 411.42,173.50 412.32,174.28 413.21,175.10 414.11,175.96 415.01,176.86 415.91,177.79 416.81,178.74 417.70,179.72 418.60,180.76 419.50,181.91 420.40,183.16 421.30,184.48 422.19,185.87 423.09,187.31 423.99,188.79 424.89,190.30 425.79,191.82 426.68,193.33 427.58,194.83 428.48,196.29 429.38,197.76 430.28,199.27 431.17,200.79 432.07,202.32 432.97,203.83 433.87,205.31 434.77,206.77 435.66,208.22 436.56,209.66 437.46,211.09 438.36,212.52 439.26,213.96 440.15,215.40 441.05,216.84 441.95,218.29 442.85,219.74 443.75,221.19 444.64,222.63 445.54,224.07 446.44,225.49 447.34,226.92 448.24,228.37 449.13,229.83 450.03,231.27 450.93,232.69 451.83,234.04 452.73,235.33 453.62,236.53 454.52,237.68 455.42,238.79 456.32,239.85 457.22,240.88 458.11,241.87 459.01,242.82 459.91,243.73 460.81,244.63 461.71,245.50 462.60,246.35 463.50,247.15 464.40,247.92 465.30,248.63 466.20,249.27 467.09,249.87 467.99,250.43 468.89,250.96 469.79,251.46 470.69,251.93 471.58,252.37 472.48,252.78 473.38,253.17 474.28,253.54 475.18,253.89 476.07,254.22 476.97,254.53 477.87,254.82 478.77,255.09 479.67,255.34 480.56,255.57 481.46,255.78 482.36,255.98 483.26,256.17 484.16,256.36 485.05,256.53 485.95,256.70 486.85,256.87 487.75,257.04 488.65,257.19 489.54,257.35 490.44,257.50 491.34,257.64 492.24,257.77 493.14,257.89 494.03,258.01 494.93,258.12 495.83,258.23 496.73,258.33 497.63,258.43 498.52,258.53 499.42,258.62 500.32,258.71 501.22,258.80 502.12,258.88 503.01,258.96 503.91,259.04 504.81,259.12 505.71,259.20 506.61,259.27 507.50,259.34 508.40,259.41 509.30,259.48 510.20,259.55 511.10,259.62 511.99,259.69 512.89,259.75 513.79,259.81 514.69,259.87 515.59,259.93 516.48,259.99 517.38,260.04 518.28,260.09 519.18,260.14 520.08,260.19 520.97,260.24 521.87,260.29 522.77,260.33 523.67,260.38 524.57,260.42 525.46,260.46 526.36,260.50 527.26,260.54 528.16,260.58 529.06,260.62 529.95,260.66 530.85,260.70 531.75,260.73 532.65,260.77 533.55,260.80 534.44,260.84 535.34,260.87 536.24,260.90 537.14,260.93 538.04,260.97 538.93,261.00 539.83,261.03 540.73,261.06 541.63,261.08 542.53,261.11 543.42,261.14 544.32,261.17 545.22,261.20 546.12,261.22 547.02,261.25 547.91,261.28 548.81,261.30 549.71,261.33 550.61,261.36 551.51,261.38 552.40,261.41 553.30,261.44 554.20,261.45 554.20,266.30 553.30,266.30 552.40,266.30 551.51,266.30 550.61,266.30 549.71,266.30 548.81,266.30 547.91,266.29 547.02,266.27 546.12,266.24 545.22,266.22 544.32,266.19 543.42,266.17 542.53,266.14 541.63,266.12 540.73,266.09 539.83,266.07 538.93,266.04 538.04,266.02 537.14,265.99 536.24,265.97 535.34,265.94 534.44,265.91 533.55,265.88 532.65,265.85 531.75,265.82 530.85,265.79 529.95,265.76 529.06,265.73 528.16,265.70 527.26,265.67 526.36,265.63 525.46,265.60 524.57,265.57 523.67,265.53 522.77,265.49 521.87,265.46 520.97,265.42 520.08,265.38 519.18,265.34 518.28,265.30 517.38,265.26 516.48,265.22 515.59,265.17 514.69,265.13 513.79,265.08 512.89,265.03 511.99,264.98 511.10,264.93 510.20,264.87 509.30,264.82 508.40,264.76 507.50,264.70 506.61,264.64 505.71,264.58 504.81,264.52 503.91,264.45 503.01,264.39 502.12,264.32 501.22,264.25 500.32,264.18 499.42,264.11 498.52,264.04 497.63,263.96 496.73,263.89 495.83,263.80 494.93,263.72 494.03,263.64 493.14,263.52 492.24,263.37 491.34,263.21 490.44,263.05 489.54,262.89 488.65,262.72 487.75,262.55 486.85,262.36 485.95,262.18 485.05,261.98 484.16,261.78 483.26,261.57 482.36,261.36 481.46,261.15 480.56,260.94 479.67,260.72 478.77,260.49 477.87,260.25 476.97,260.00 476.07,259.74 475.18,259.47 474.28,259.18 473.38,258.86 472.48,258.53 471.58,258.18 470.69,257.81 469.79,257.42 468.89,257.02 467.99,256.60 467.09,256.15 466.20,255.68 465.30,255.18 464.40,254.66 463.50,254.10 462.60,253.52 461.71,252.93 460.81,252.31 459.91,251.64 459.01,250.92 458.11,250.17 457.22,249.38 456.32,248.58 455.42,247.76 454.52,246.91 453.62,246.03 452.73,245.11 451.83,244.16 450.93,243.17 450.03,242.14 449.13,241.07 448.24,239.94 447.34,238.74 446.44,237.47 445.54,236.17 444.64,234.85 443.75,233.52 442.85,232.21 441.95,230.91 441.05,229.61 440.15,228.30 439.26,226.98 438.36,225.66 437.46,224.34 436.56,223.03 435.66,221.72 434.77,220.41 433.87,219.11 432.97,217.80 432.07,216.50 431.17,215.18 430.28,213.86 429.38,212.52 428.48,211.15 427.58,209.77 426.68,208.38 425.79,207.00 424.89,205.65 423.99,204.32 423.09,202.97 422.19,201.59 421.30,200.21 420.40,198.84 419.50,197.47 418.60,196.14 417.70,194.85 416.81,193.61 415.91,192.44 415.01,191.35 414.11,190.35 413.21,189.44 412.32,188.56 411.42,187.71 410.52,186.87 409.62,186.07 408.72,185.31 407.83,184.58 406.93,183.90 406.03,183.26 405.13,182.67 404.23,182.14 403.34,181.67 402.44,181.26 401.54,180.89 400.64,180.53 399.74,180.20 398.85,179.89 397.95,179.59 397.05,179.32 396.15,179.06 395.25,178.83 394.36,178.61 393.46,178.40 392.56,178.21 391.66,178.03 390.76,177.87 389.87,177.70 388.97,177.55 388.07,177.40 387.17,177.26 386.27,177.13 385.38,177.00 384.48,176.89 383.58,176.79 382.68,176.71 381.78,176.63 380.89,176.57 379.99,176.52 379.09,176.47 378.19,176.42 377.29,176.38 376.40,176.35 375.50,176.31 374.60,176.28" fill="#c4d0e7" stroke="#8890a8" stroke-width="0.6"/>
<polyline points="374.60,170.50 375.50,170.53 376.40,170.56 377.29,170.60 378.19,170.63 379.09,170.67 379.99,170.71 380.89,170.75 381.78,170.79 382.68,170.84 383.58,170.90 384.48,170.96 385.38,171.04 386.27,171.13 387.17,171.23 388.07,171.35 388.97,171.48 389.87,171.61 390.76,171.76 391.66,171.91 392.56,172.07 393.46,172.24 394.36,172.42 395.25,172.60 396.15,172.79 397.05,173.01 397.95,173.24 398.85,173.48 399.74,173.75 400.64,174.03 401.54,174.34 402.44,174.75 403.34,175.19 404.23,175.64 405.13,176.12 406.03,176.64 406.93,177.22 407.83,177.86 408.72,178.56 409.62,179.31 410.52,180.11 411.42,180.95 412.32,181.84 413.21,182.76 414.11,183.71 415.01,184.69 415.91,185.60 416.81,186.54 417.70,187.58 418.60,188.71 419.50,189.92 420.40,191.20 421.30,192.54 422.19,193.92 423.09,195.33 423.99,196.76 424.89,198.19 425.79,199.61 426.68,201.01 427.58,202.39 428.48,203.79 429.38,205.22 430.28,206.66 431.17,208.10 432.07,209.51 432.97,210.90 433.87,212.27 434.77,213.63 435.66,214.84 436.56,215.89 437.46,216.94 438.36,217.99 439.26,219.04 440.15,220.10 441.05,221.16 441.95,222.22 442.85,223.29 443.75,224.35 444.64,225.41 445.54,226.47 446.44,227.52 447.34,228.57 448.24,229.62 449.13,230.67 450.03,231.73 450.93,232.80 451.83,233.87 452.73,234.92 453.62,235.96 454.52,236.96 455.42,237.93 456.32,239.10 457.22,240.21 458.11,241.27 459.01,242.30 459.91,243.28 460.81,244.23 461.71,245.15 462.60,246.05 463.50,246.95 464.40,247.83 465.30,248.69 466.20,249.52 467.09,250.31 467.99,251.06 468.89,251.75 469.79,252.38 470.69,252.97 471.58,253.53 472.48,254.07 473.38,254.57 474.28,255.05 475.18,255.50 476.07,255.92 476.97,256.33 477.87,256.72 478.77,257.09 479.67,257.44 480.56,257.78 481.46,258.09 482.36,258.38 483.26,258.66 484.16,258.91 485.05,259.16 485.95,259.39 486.85,259.61 487.75,259.83 488.65,260.04 489.54,260.25 490.44,260.46 491.34,260.66 492.24,260.85 493.14,261.04 494.03,261.20 494.93,261.33 495.83,261.45 496.73,261.57 497.63,261.68 498.52,261.78 499.42,261.88 500.32,261.98 501.22,262.07 502.12,262.16 503.01,262.24 503.91,262.33 504.81,262.41 505.71,262.48 506.61,262.56 507.50,262.63 508.40,262.71 509.30,262.78 510.20,262.85 511.10,262.91 511.99,262.98 512.89,263.05 513.79,263.11 514.69,263.17 515.59,263.23 516.48,263.29 517.38,263.35 518.28,263.41 519.18,263.46 520.08,263.51 520.97,263.56 521.87,263.61 522.77,263.66 523.67,263.71 524.57,263.75 525.46,263.79 526.36,263.84 527.26,263.88 528.16,263.92 529.06,263.96 529.95,263.99 530.85,264.03 531.75,264.07 532.65,264.10 533.55,264.14 534.44,264.17 535.34,264.21 536.24,264.24 537.14,264.27 538.04,264.30 538.93,264.34 539.83,264.37 540.73,264.40 541.63,264.43 542.53,264.45 543.42,264.48 544.32,264.51 545.22,264.54 546.12,264.56 547.02,264.59 547.91,264.61 548.81,264.64 549.71,264.67 550.61,264.69 551.51,264.72 552.40,264.74 553.30,264.77 554.20,264.79" fill="none" stroke="#4a78c4" stroke-width="1.8" stroke-linejoin="round" stroke-dasharray="3.8,4"/>
<polyline points="374.60,171.78 375.50,171.82 376.40,171.86 377.29,171.89 378.19,171.92 379.09,171.96 379.99,171.99 380.89,172.03 381.78,172.07 382.68,172.11 383.58,172.15 384.48,172.20 385.38,172.26 386.27,172.32 387.17,172.40 388.07,172.49 388.97,172.59 389.87,172.71 390.76,172.84 391.66,172.97 392.56,173.12 393.46,173.27 394.36,173.43 395.25,173.60 396.15,173.78 397.05,173.96 397.95,174.15 398.85,174.37 399.74,174.60 400.64,174.84 401.54,175.11 402.44,175.39 403.34,175.70 404.23,176.02 405.13,176.36 406.03,176.73 406.93,177.12 407.83,177.54 408.72,178.03 409.62,178.58 410.52,179.19 411.42,179.85 412.32,180.56 413.21,181.31 414.11,182.11 415.01,182.94 415.91,183.80 416.81,184.69 417.70,185.60 418.60,186.54 419.50,187.58 420.40,188.71 421.30,189.92 422.19,191.20 423.09,192.54 423.99,193.92 424.89,195.33 425.79,196.76 426.68,198.19 427.58,199.61 428.48,201.01 429.38,202.39 430.28,203.79 431.17,205.22 432.07,206.66 432.97,208.10 433.87,209.51 434.77,210.90 435.66,212.27 436.56,213.63 437.46,214.99 438.36,216.34 439.26,217.69 440.15,219.04 441.05,220.40 441.95,221.77 442.85,223.13 443.75,224.50 444.64,225.87 445.54,227.22 446.44,228.57 447.34,229.92 448.24,231.27 449.13,232.65 450.03,234.02 450.93,235.37 451.83,236.68 452.73,237.93 453.62,239.10 454.52,240.21 455.42,241.27 456.32,242.30 457.22,243.28 458.11,244.23 459.01,245.15 459.91,246.03 460.81,246.88 461.71,247.71 462.60,248.52 463.50,249.30 464.40,250.05 465.30,250.74 466.20,251.38 467.09,251.96 467.99,252.51 468.89,253.02 469.79,253.51 470.69,253.97 471.58,254.39 472.48,254.80 473.38,255.17 474.28,255.53 475.18,255.87 476.07,256.19 476.97,256.50 477.87,256.78 478.77,257.05 479.67,257.29 480.56,257.51 481.46,257.72 482.36,257.92 483.26,258.10 484.16,258.28 485.05,258.45 485.95,258.61 486.85,258.77 487.75,258.93 488.65,259.08 489.54,259.23 490.44,259.37 491.34,259.50 492.24,259.63 493.14,259.75 494.03,259.87 494.93,259.98 495.83,260.08 496.73,260.18 497.63,260.28 498.52,260.37 499.42,260.46 500.32,260.54 501.22,260.63 502.12,260.71 503.01,260.78 503.91,260.86 504.81,260.93 505.71,261.01 506.61,261.08 507.50,261.15 508.40,261.21 509.30,261.28 510.20,261.35 511.10,261.41 511.99,261.47 512.89,261.53 513.79,261.59 514.69,261.65 515.59,261.71 516.48,261.76 517.38,261.81 518.28,261.86 519.18,261.91 520.08,261.96 520.97,262.01 521.87,262.05 522.77,262.09 523.67,262.14 524.57,262.18 525.46,262.22 526.36,262.26 527.26,262.29 528.16,262.33 529.06,262.37 529.95,262.40 530.85,262.44 531.75,262.47 532.65,262.51 533.55,262.54 534.44,262.57 535.34,262.60 536.24,262.64 537.14,262.67 538.04,262.70 538.93,262.73 539.83,262.75 540.73,262.78 541.63,262.81 542.53,262.84 543.42,262.86 544.32,262.89 545.22,262.91 546.12,262.94 547.02,262.97 547.91,262.99 548.81,263.02 549.71,263.04 550.61,263.07 551.51,263.09 552.40,263.12 553.30,263.15 554.20,263.17" fill="none" stroke="#231f20" stroke-width="1.2" stroke-linejoin="round"/>
<polyline points="374.60,146.10 374.60,266.30 554.20,266.30" fill="none" stroke="#6a6b6e" stroke-width="0.9" stroke-linejoin="round"/>
<line x1="374.60" y1="249.30" x2="376.60" y2="249.30" stroke="#6a6b6e" stroke-width="0.6"/>
<text x="365.6" y="252.9" font-size="10" fill="#231f20" stroke="#231f20" stroke-width="0.12" text-anchor="middle">0.5</text>
<line x1="374.60" y1="232.30" x2="376.60" y2="232.30" stroke="#6a6b6e" stroke-width="0.6"/>
<text x="365.6" y="235.9" font-size="10" fill="#231f20" stroke="#231f20" stroke-width="0.12" text-anchor="middle">1</text>
<line x1="374.60" y1="215.30" x2="376.60" y2="215.30" stroke="#6a6b6e" stroke-width="0.6"/>
<text x="365.6" y="218.9" font-size="10" fill="#231f20" stroke="#231f20" stroke-width="0.12" text-anchor="middle">1.5</text>
<line x1="374.60" y1="198.30" x2="376.60" y2="198.30" stroke="#6a6b6e" stroke-width="0.6"/>
<text x="365.6" y="201.9" font-size="10" fill="#231f20" stroke="#231f20" stroke-width="0.12" text-anchor="middle">2</text>
<line x1="374.60" y1="181.30" x2="376.60" y2="181.30" stroke="#6a6b6e" stroke-width="0.6"/>
<text x="365.6" y="184.9" font-size="10" fill="#231f20" stroke="#231f20" stroke-width="0.12" text-anchor="middle">2.5</text>
<line x1="374.60" y1="164.30" x2="376.60" y2="164.30" stroke="#6a6b6e" stroke-width="0.6"/>
<text x="365.6" y="167.9" font-size="10" fill="#231f20" stroke="#231f20" stroke-width="0.12" text-anchor="middle">3</text>
<line x1="374.60" y1="147.30" x2="376.60" y2="147.30" stroke="#6a6b6e" stroke-width="0.6"/>
<text x="365.6" y="150.9" font-size="10" fill="#231f20" stroke="#231f20" stroke-width="0.12" text-anchor="middle">3.5</text>
<line x1="374.60" y1="266.30" x2="374.60" y2="264.30" stroke="#6a6b6e" stroke-width="0.6"/>
<text x="374.1" y="278.0" font-size="10" fill="#231f20" stroke="#231f20" stroke-width="0.12" text-anchor="middle">1</text>
<line x1="397.05" y1="266.30" x2="397.05" y2="264.30" stroke="#6a6b6e" stroke-width="0.6"/>
<text x="396.55" y="278.0" font-size="10" fill="#231f20" stroke="#231f20" stroke-width="0.12" text-anchor="middle">2</text>
<line x1="419.50" y1="266.30" x2="419.50" y2="264.30" stroke="#6a6b6e" stroke-width="0.6"/>
<text x="419.0" y="278.0" font-size="10" fill="#231f20" stroke="#231f20" stroke-width="0.12" text-anchor="middle">3</text>
<line x1="441.95" y1="266.30" x2="441.95" y2="264.30" stroke="#6a6b6e" stroke-width="0.6"/>
<text x="441.45000000000005" y="278.0" font-size="10" fill="#231f20" stroke="#231f20" stroke-width="0.12" text-anchor="middle">4</text>
<line x1="464.40" y1="266.30" x2="464.40" y2="264.30" stroke="#6a6b6e" stroke-width="0.6"/>
<text x="463.90000000000003" y="278.0" font-size="10" fill="#231f20" stroke="#231f20" stroke-width="0.12" text-anchor="middle">5</text>
<line x1="486.85" y1="266.30" x2="486.85" y2="264.30" stroke="#6a6b6e" stroke-width="0.6"/>
<text x="486.35" y="278.0" font-size="10" fill="#231f20" stroke="#231f20" stroke-width="0.12" text-anchor="middle">6</text>
<line x1="509.30" y1="266.30" x2="509.30" y2="264.30" stroke="#6a6b6e" stroke-width="0.6"/>
<text x="508.8" y="278.0" font-size="10" fill="#231f20" stroke="#231f20" stroke-width="0.12" text-anchor="middle">7</text>
<line x1="531.75" y1="266.30" x2="531.75" y2="264.30" stroke="#6a6b6e" stroke-width="0.6"/>
<text x="531.25" y="278.0" font-size="10" fill="#231f20" stroke="#231f20" stroke-width="0.12" text-anchor="middle">8</text>
<line x1="554.20" y1="266.30" x2="554.20" y2="264.30" stroke="#6a6b6e" stroke-width="0.6"/>
<text x="553.7" y="278.0" font-size="10" fill="#231f20" stroke="#231f20" stroke-width="0.12" text-anchor="middle">9</text>
<text x="464.5" y="286.5" font-size="8.5" fill="#231f20" stroke="#231f20" stroke-width="0.2" text-anchor="middle" textLength="55.7" lengthAdjust="spacingAndGlyphs">[Knirps] (au)</text>
<text x="355.2" y="207.8" font-size="9.5" fill="#231f20" stroke="#231f20" stroke-width="0.2" text-anchor="middle" textLength="106" lengthAdjust="spacingAndGlyphs" transform="rotate(-90 355.2 207.8)">burst frequency (1/min)</text>
<line x1="469.90" y1="226.00" x2="483.20" y2="226.00" stroke="#4a78c4" stroke-width="1.8" stroke-dasharray="4,3.8"/>
<text x="488.2" y="229.8" font-size="8.5" fill="#231f20" stroke="#231f20" stroke-width="0.2" textLength="74" lengthAdjust="spacingAndGlyphs">MCMC inference</text>
<line x1="469.00" y1="238.80" x2="484.30" y2="238.80" stroke="#231f20" stroke-width="1.2"/>
<text x="488.2" y="241.0" font-size="8.5" fill="#231f20" stroke="#231f20" stroke-width="0.2" textLength="78.7" lengthAdjust="spacingAndGlyphs">binding model fit</text>
<text x="504.9" y="145.5" font-size="8.5" fill="#231f20" stroke="#231f20" stroke-width="0.2" textLength="27.4" lengthAdjust="spacingAndGlyphs">model</text>
<rect x="485.20" y="149.30" width="66.20" height="57.50" fill="#fff" stroke="#777" stroke-width="0.8"/>
<line x1="485.20" y1="158.00" x2="551.40" y2="158.00" stroke="#4a76c0" stroke-width="1.2" stroke-dasharray="3,2"/>
<line x1="494.80" y1="149.30" x2="525.60" y2="206.80" stroke="#4a76c0" stroke-width="1.2" stroke-dasharray="3,2"/>
<line x1="512.60" y1="182.40" x2="512.60" y2="206.80" stroke="#4a76c0" stroke-width="1.2" stroke-dasharray="3,2"/>
<polyline points="485.20,158.10 486.20,158.16 487.20,158.24 488.20,158.33 489.20,158.43 490.20,158.56 491.20,158.71 492.20,158.89 493.20,159.11 494.20,159.36 495.20,159.67 496.20,160.03 497.20,160.46 498.20,160.97 499.20,161.57 500.20,162.26 501.20,163.07 502.20,164.01 503.20,165.08 504.20,166.31 505.20,167.68 506.20,169.23 507.20,170.92 508.20,172.78 509.20,174.76 510.20,176.87 511.20,179.05 512.20,181.30 513.20,183.55 514.20,185.79 515.20,187.96 516.20,190.04 517.20,192.01 518.20,193.83 519.20,195.50 520.20,197.00 521.20,198.35 522.20,199.54 523.20,200.59 524.20,201.50 525.20,202.29 526.20,202.96 527.20,203.54 528.20,204.03 529.20,204.44 530.20,204.79 531.20,205.09 532.20,205.34 533.20,205.55 534.20,205.72 535.20,205.87 536.20,205.99 537.20,206.09 538.20,206.18 539.20,206.25 540.20,206.31 541.20,206.36 542.20,206.40 543.20,206.43 544.20,206.46 545.20,206.48 546.20,206.50 547.20,206.52 548.20,206.53 549.20,206.54 550.20,206.55 551.20,206.56" fill="none" stroke="#231f20" stroke-width="1.2" stroke-linejoin="round"/>
<circle cx="512.6" cy="182.4" r="1.9" fill="#fff" stroke="#231f20" stroke-width="0.7"/>
<line x1="506.50" y1="168.00" x2="511.40" y2="167.20" stroke="#231f20" stroke-width="0.7"/>
<text x="513.1" y="172.5" font-size="8.5" fill="#231f20" stroke="#231f20" stroke-width="0.2" font-style="italic" textLength="6.6" lengthAdjust="spacingAndGlyphs">H</text>
<text x="500.9" y="203" font-size="8.5" fill="#231f20" stroke="#231f20" stroke-width="0.2" font-style="italic" textLength="6.1" lengthAdjust="spacingAndGlyphs">K</text>
<text x="507" y="205.5" font-size="5" fill="#231f20" stroke="#231f20" stroke-width="0.2" textLength="3.5" lengthAdjust="spacingAndGlyphs">D</text>
<text x="554" y="160.3" font-size="8.5" fill="#231f20" stroke="#231f20" stroke-width="0.2" font-style="italic" textLength="4.4" lengthAdjust="spacingAndGlyphs">k</text>
<text x="559.3" y="154.5" font-size="5" fill="#231f20" stroke="#231f20" stroke-width="0.2" textLength="2.8" lengthAdjust="spacingAndGlyphs">0</text>
<text x="558.9" y="163.6" font-size="6" fill="#231f20" stroke="#231f20" stroke-width="0.2" textLength="8.1" lengthAdjust="spacingAndGlyphs">ON</text>
<text x="229.4" y="319.3" font-size="13" fill="#231f20" stroke="#231f20" stroke-width="0.2" font-weight="bold" textLength="9.0" lengthAdjust="spacingAndGlyphs">G</text>
<rect x="227.90" y="322.00" width="12.10" height="115.00" fill="#fae6c8" stroke="none" stroke-width="0.8"/>
<text x="237.2" y="380.2" font-size="9" fill="#231f20" stroke="#231f20" stroke-width="0.2" text-anchor="middle" textLength="29" lengthAdjust="spacingAndGlyphs" transform="rotate(-90 237.2 380.2)">output</text>
<clipPath id="gclip"><rect x="270.5" y="307" width="189" height="131"/></clipPath>
<g clip-path="url(#gclip)">
<polygon points="266.00,300.00 266.43,301.42 267.01,303.50 267.86,305.58 269.10,307.00 270.80,307.25 272.89,306.79 275.26,306.43 277.80,307.00 280.59,308.88 283.66,311.59 286.80,314.60 289.80,317.40 292.60,319.87 295.32,322.27 298.00,324.69 300.70,327.20 303.43,329.87 306.15,332.65 308.88,335.43 311.60,338.10 314.33,340.63 317.05,343.07 319.78,345.48 322.50,347.90 325.23,350.35 327.95,352.80 330.67,355.25 333.40,357.70 336.13,360.15 338.86,362.60 341.58,365.05 344.30,367.50 346.92,369.88 349.46,372.21 352.13,374.63 355.10,377.30 358.62,380.49 362.51,384.06 366.38,387.46 369.80,390.20 372.36,391.92 374.39,392.97 376.58,393.86 379.60,395.10 383.81,396.94 388.79,399.06 394.07,401.16 399.20,402.90 404.10,404.18 409.00,405.17 413.90,406.01 418.80,406.80 423.66,407.58 428.51,408.29 433.39,408.90 438.40,409.40 444.06,409.77 450.17,410.01 455.67,410.18 459.50,410.30 459.50,433.30 455.67,432.76 450.17,431.98 444.06,431.11 438.40,430.30 433.39,429.59 428.51,428.91 423.66,428.19 418.80,427.40 413.90,426.57 409.00,425.70 404.10,424.71 399.20,423.50 394.30,422.01 389.40,420.29 384.50,418.46 379.60,416.60 374.61,414.83 369.56,413.07 364.63,411.13 360.00,408.80 355.69,405.84 351.61,402.41 347.80,398.96 344.30,395.90 341.24,393.44 338.55,391.31 336.01,389.27 333.40,387.10 330.67,384.77 327.95,382.39 325.23,379.92 322.50,377.30 319.78,374.45 317.05,371.42 314.33,368.35 311.60,365.40 308.88,362.55 306.15,359.75 303.43,357.05 300.70,354.50 297.98,352.12 295.25,349.88 292.53,347.78 289.80,345.80 287.02,343.93 284.21,342.16 281.47,340.57 278.90,339.20 276.46,338.10 274.13,337.22 272.01,336.51 270.20,335.90 268.74,335.38 267.56,334.99 266.65,334.71 266.00,334.50" fill="#f6cbb5" stroke="#a89c96" stroke-width="0.5"/>
<polyline points="266.00,336.00 266.45,335.48 267.07,334.76 267.94,333.83 269.10,332.70 270.71,331.18 272.68,329.33 274.76,327.51 276.70,326.10 278.42,325.13 280.07,324.44 281.68,324.05 283.30,324.00 284.83,324.30 286.28,324.92 287.87,325.88 289.80,327.20 292.22,328.96 294.98,331.12 297.87,333.53 300.70,336.00 303.43,338.56 306.15,341.27 308.88,344.05 311.60,346.80 314.33,349.52 317.05,352.24 319.78,354.97 322.50,357.70 325.23,360.48 327.95,363.29 330.67,366.03 333.40,368.60 336.13,370.95 338.86,373.15 341.58,375.25 344.30,377.30 347.05,379.35 349.83,381.36 352.54,383.26 355.10,385.00 357.51,386.54 359.81,387.92 361.95,389.20 363.90,390.40 365.49,391.47 366.79,392.41 368.12,393.37 369.80,394.50 371.75,395.78 373.84,397.15 376.37,398.70 379.60,400.50 383.81,402.73 388.79,405.29 394.07,407.88 399.20,410.20 404.10,412.17 409.00,413.96 413.90,415.61 418.80,417.20 423.70,418.71 428.60,420.11 433.50,421.46 438.40,422.80 443.76,424.25 449.42,425.75 454.48,427.08 458.00,428.00" fill="none" stroke="#f07a55" stroke-width="2.1" stroke-linejoin="round" stroke-dasharray="4,3.6"/>
</g>
<polyline points="270.50,308.00 270.50,436.30 460.00,436.30" fill="none" stroke="#6a6b6e" stroke-width="0.9" stroke-linejoin="round"/>
<polyline points="270.20,341.40 280.68,333.80 291.16,333.80 301.64,333.10 312.12,339.90 322.60,347.90 333.08,358.40 343.56,368.60 354.04,377.30 364.52,385.60 375.00,398.40 385.48,405.40 395.96,413.30 406.44,420.50 416.92,424.00 427.40,426.40 437.88,429.90 448.36,432.30 458.84,434.20" fill="none" stroke="#3a3a3c" stroke-width="1.3" stroke-linejoin="round"/>
<line x1="270.20" y1="317.60" x2="270.20" y2="365.50" stroke="#2a2a2c" stroke-width="1.2"/>
<line x1="280.68" y1="322.90" x2="280.68" y2="344.70" stroke="#2a2a2c" stroke-width="1.2"/>
<line x1="291.16" y1="326.00" x2="291.16" y2="342.50" stroke="#2a2a2c" stroke-width="1.2"/>
<line x1="301.64" y1="325.00" x2="301.64" y2="340.30" stroke="#2a2a2c" stroke-width="1.2"/>
<line x1="312.12" y1="332.70" x2="312.12" y2="346.80" stroke="#2a2a2c" stroke-width="1.2"/>
<line x1="322.60" y1="340.30" x2="322.60" y2="355.60" stroke="#2a2a2c" stroke-width="1.2"/>
<line x1="333.08" y1="351.20" x2="333.08" y2="365.40" stroke="#2a2a2c" stroke-width="1.2"/>
<line x1="343.56" y1="361.00" x2="343.56" y2="375.20" stroke="#2a2a2c" stroke-width="1.2"/>
<line x1="354.04" y1="369.70" x2="354.04" y2="385.00" stroke="#2a2a2c" stroke-width="1.2"/>
<line x1="364.52" y1="378.40" x2="364.52" y2="391.50" stroke="#2a2a2c" stroke-width="1.2"/>
<line x1="375.00" y1="390.20" x2="375.00" y2="406.80" stroke="#2a2a2c" stroke-width="1.2"/>
<line x1="385.48" y1="398.00" x2="385.48" y2="413.70" stroke="#2a2a2c" stroke-width="1.2"/>
<line x1="395.96" y1="405.80" x2="395.96" y2="420.50" stroke="#2a2a2c" stroke-width="1.2"/>
<line x1="406.44" y1="413.70" x2="406.44" y2="427.40" stroke="#2a2a2c" stroke-width="1.2"/>
<line x1="416.92" y1="416.60" x2="416.92" y2="431.30" stroke="#2a2a2c" stroke-width="1.2"/>
<line x1="427.40" y1="419.50" x2="427.40" y2="432.30" stroke="#2a2a2c" stroke-width="1.2"/>
<circle cx="270.20" cy="341.40" r="3.0" fill="#a3a8ab" stroke="#4d4f51" stroke-width="0.55"/>
<circle cx="280.68" cy="333.80" r="3.0" fill="#a3a8ab" stroke="#4d4f51" stroke-width="0.55"/>
<circle cx="291.16" cy="333.80" r="3.0" fill="#a3a8ab" stroke="#4d4f51" stroke-width="0.55"/>
<circle cx="301.64" cy="333.10" r="3.0" fill="#a3a8ab" stroke="#4d4f51" stroke-width="0.55"/>
<circle cx="312.12" cy="339.90" r="3.0" fill="#a3a8ab" stroke="#4d4f51" stroke-width="0.55"/>
<circle cx="322.60" cy="347.90" r="3.0" fill="#a3a8ab" stroke="#4d4f51" stroke-width="0.55"/>
<circle cx="333.08" cy="358.40" r="3.0" fill="#a3a8ab" stroke="#4d4f51" stroke-width="0.55"/>
<circle cx="343.56" cy="368.60" r="3.0" fill="#a3a8ab" stroke="#4d4f51" stroke-width="0.55"/>
<circle cx="354.04" cy="377.30" r="3.0" fill="#a3a8ab" stroke="#4d4f51" stroke-width="0.55"/>
<circle cx="364.52" cy="385.60" r="3.0" fill="#a3a8ab" stroke="#4d4f51" stroke-width="0.55"/>
<circle cx="375.00" cy="398.40" r="3.0" fill="#a3a8ab" stroke="#4d4f51" stroke-width="0.55"/>
<circle cx="385.48" cy="405.40" r="3.0" fill="#a3a8ab" stroke="#4d4f51" stroke-width="0.55"/>
<circle cx="395.96" cy="413.30" r="3.0" fill="#a3a8ab" stroke="#4d4f51" stroke-width="0.55"/>
<circle cx="406.44" cy="420.50" r="3.0" fill="#a3a8ab" stroke="#4d4f51" stroke-width="0.55"/>
<circle cx="416.92" cy="424.00" r="3.0" fill="#a3a8ab" stroke="#4d4f51" stroke-width="0.55"/>
<circle cx="427.40" cy="426.40" r="3.0" fill="#a3a8ab" stroke="#4d4f51" stroke-width="0.55"/>
<circle cx="437.88" cy="429.90" r="3.0" fill="#a3a8ab" stroke="#4d4f51" stroke-width="0.55"/>
<circle cx="448.36" cy="432.30" r="3.0" fill="#a3a8ab" stroke="#4d4f51" stroke-width="0.55"/>
<circle cx="458.84" cy="434.20" r="3.0" fill="#a3a8ab" stroke="#4d4f51" stroke-width="0.55"/>
<line x1="270.50" y1="405.30" x2="272.50" y2="405.30" stroke="#6a6b6e" stroke-width="0.6"/>
<line x1="270.50" y1="374.30" x2="272.50" y2="374.30" stroke="#6a6b6e" stroke-width="0.6"/>
<line x1="270.50" y1="343.30" x2="272.50" y2="343.30" stroke="#6a6b6e" stroke-width="0.6"/>
<line x1="270.50" y1="312.30" x2="272.50" y2="312.30" stroke="#6a6b6e" stroke-width="0.6"/>
<text x="260.6" y="439.90000000000003" font-size="10" fill="#231f20" stroke="#231f20" stroke-width="0.12" text-anchor="middle">0</text>
<text x="260.6" y="408.90000000000003" font-size="10" fill="#231f20" stroke="#231f20" stroke-width="0.12" text-anchor="middle">5</text>
<text x="260.6" y="377.90000000000003" font-size="10" fill="#231f20" stroke="#231f20" stroke-width="0.12" text-anchor="middle">10</text>
<text x="260.6" y="346.90000000000003" font-size="10" fill="#231f20" stroke="#231f20" stroke-width="0.12" text-anchor="middle">15</text>
<text x="260.6" y="315.90000000000003" font-size="10" fill="#231f20" stroke="#231f20" stroke-width="0.12" text-anchor="middle">20</text>
<line x1="290.70" y1="436.30" x2="290.70" y2="434.30" stroke="#6a6b6e" stroke-width="0.6"/>
<text x="290.7" y="447.2" font-size="10" fill="#231f20" stroke="#231f20" stroke-width="0.12" text-anchor="middle">4</text>
<line x1="317.30" y1="436.30" x2="317.30" y2="434.30" stroke="#6a6b6e" stroke-width="0.6"/>
<text x="317.3" y="447.2" font-size="10" fill="#231f20" stroke="#231f20" stroke-width="0.12" text-anchor="middle">5</text>
<line x1="343.90" y1="436.30" x2="343.90" y2="434.30" stroke="#6a6b6e" stroke-width="0.6"/>
<text x="343.9" y="447.2" font-size="10" fill="#231f20" stroke="#231f20" stroke-width="0.12" text-anchor="middle">6</text>
<line x1="370.50" y1="436.30" x2="370.50" y2="434.30" stroke="#6a6b6e" stroke-width="0.6"/>
<text x="370.5" y="447.2" font-size="10" fill="#231f20" stroke="#231f20" stroke-width="0.12" text-anchor="middle">7</text>
<line x1="397.10" y1="436.30" x2="397.10" y2="434.30" stroke="#6a6b6e" stroke-width="0.6"/>
<text x="397.1" y="447.2" font-size="10" fill="#231f20" stroke="#231f20" stroke-width="0.12" text-anchor="middle">8</text>
<line x1="423.70" y1="436.30" x2="423.70" y2="434.30" stroke="#6a6b6e" stroke-width="0.6"/>
<text x="423.7" y="447.2" font-size="10" fill="#231f20" stroke="#231f20" stroke-width="0.12" text-anchor="middle">9</text>
<line x1="450.30" y1="436.30" x2="450.30" y2="434.30" stroke="#6a6b6e" stroke-width="0.6"/>
<text x="450.3" y="447.2" font-size="10" fill="#231f20" stroke="#231f20" stroke-width="0.12" text-anchor="middle">10</text>
<text x="365.8" y="455.6" font-size="8.5" fill="#231f20" stroke="#231f20" stroke-width="0.2" text-anchor="middle" textLength="54.4" lengthAdjust="spacingAndGlyphs">[Knirps] (au)</text>
<text x="251.5" y="371.8" font-size="9.5" fill="#231f20" stroke="#231f20" stroke-width="0.2" text-anchor="middle" textLength="126" lengthAdjust="spacingAndGlyphs" transform="rotate(-90 251.5 371.8)">mean transcription rate (au)</text>
<line x1="354.90" y1="342.00" x2="374.80" y2="342.00" stroke="#3a3a3c" stroke-width="1.3"/>
<line x1="364.90" y1="336.50" x2="364.90" y2="347.30" stroke="#2a2a2c" stroke-width="1.2"/>
<circle cx="364.9" cy="342" r="2.9" fill="#a3a8ab" stroke="#4d4f51" stroke-width="0.55"/>
<text x="382.2" y="344.8" font-size="9.5" fill="#231f20" stroke="#231f20" stroke-width="0.2" textLength="51.4" lengthAdjust="spacingAndGlyphs">experiment</text>
<line x1="354.90" y1="353.20" x2="374.80" y2="353.20" stroke="#f07a55" stroke-width="2.3" stroke-dasharray="4,4"/>
<text x="382.2" y="355.5" font-size="9.5" fill="#231f20" stroke="#231f20" stroke-width="0.2" textLength="40.2" lengthAdjust="spacingAndGlyphs">model fit</text>
<text x="462.6" y="320.9" font-size="13" fill="#231f20" stroke="#231f20" stroke-width="0.2" font-weight="bold" textLength="8.0" lengthAdjust="spacingAndGlyphs">H</text>
<polygon points="496.30,435.30 497.61,434.65 498.92,434.03 500.23,433.41 501.54,432.77 502.85,432.08 504.16,431.31 505.47,430.44 506.78,429.46 508.09,428.38 509.40,427.22 510.71,425.98 512.02,424.67 513.33,423.30 514.64,421.89 515.95,420.43 517.26,418.94 518.57,417.43 519.88,415.91 521.19,414.34 522.50,412.67 523.81,410.93 525.12,409.12 526.43,407.26 527.74,405.36 529.05,403.43 530.36,401.48 531.67,399.53 532.98,397.60 534.29,395.68 535.60,393.79 536.91,391.90 538.22,390.00 539.53,388.09 540.84,386.17 542.15,384.25 543.46,382.32 544.77,380.39 546.08,378.46 547.39,376.54 548.70,374.61 550.01,372.70 551.32,370.77 552.63,368.78 553.94,366.78 555.25,364.77 556.56,362.78 557.87,360.84 559.18,358.96 560.49,357.18 561.80,355.52 563.11,353.93 564.42,352.37 565.73,350.84 567.04,349.34 568.35,347.88 569.66,346.46 570.97,345.08 572.28,343.75 573.59,342.47 574.90,341.25 576.21,340.08 577.52,338.97 578.83,337.93 580.14,336.95 581.45,335.99 582.76,335.06 584.07,334.15 585.38,333.28 586.69,332.43 588.00,331.62 589.31,330.85 590.62,330.11 591.93,329.41 593.24,328.75 594.55,328.13 595.86,327.56 597.17,327.03 598.48,326.53 599.79,326.06 601.10,325.61 602.41,325.18 603.72,324.78 605.03,324.39 606.34,324.01 607.65,323.65 608.96,323.30 610.27,322.96 611.58,322.63 612.89,322.31 614.20,321.99 615.51,321.67 616.82,321.36 618.13,321.06 619.44,320.77 620.75,320.50 622.06,320.24 623.37,320.00 624.68,319.79 625.99,319.58 627.30,319.39 628.61,319.21 629.92,319.04 631.23,318.87 632.54,318.71 633.85,318.56 635.16,318.41 636.47,318.27 637.78,318.13 639.09,318.00 640.40,317.87 641.71,317.75 643.02,317.63 644.33,317.51 645.64,317.40 646.95,317.28 648.26,317.18 649.57,317.07 650.88,316.97 652.19,316.86 653.50,316.76 654.81,316.66 656.12,316.57 657.43,316.47 658.74,316.38 660.05,316.28 661.36,316.19 662.67,316.10 663.98,316.01 665.29,315.92 666.60,315.83 667.91,315.74 669.22,315.65 670.53,315.55 671.84,315.46 673.15,315.37 674.46,315.28 675.77,315.18 677.08,315.08 678.39,314.99 679.70,314.89 679.70,317.98 678.39,318.23 677.08,318.49 675.77,318.75 674.46,319.00 673.15,319.25 671.84,319.50 670.53,319.75 669.22,319.99 667.91,320.24 666.60,320.49 665.29,320.73 663.98,320.98 662.67,321.23 661.36,321.47 660.05,321.72 658.74,321.97 657.43,322.22 656.12,322.48 654.81,322.73 653.50,322.99 652.19,323.25 650.88,323.51 649.57,323.78 648.26,324.05 646.95,324.32 645.64,324.60 644.33,324.88 643.02,325.17 641.71,325.46 640.40,325.76 639.09,326.06 637.78,326.37 636.47,326.69 635.16,327.02 633.85,327.35 632.54,327.69 631.23,328.03 629.92,328.39 628.61,328.75 627.30,329.12 625.99,329.49 624.68,329.88 623.37,330.27 622.06,330.66 620.75,331.06 619.44,331.47 618.13,331.90 616.82,332.35 615.51,332.82 614.20,333.31 612.89,333.83 611.58,334.38 610.27,334.95 608.96,335.54 607.65,336.16 606.34,336.80 605.03,337.46 603.72,338.13 602.41,338.83 601.10,339.54 599.79,340.26 598.48,341.00 597.17,341.75 595.86,342.52 594.55,343.31 593.24,344.11 591.93,344.95 590.62,345.80 589.31,346.68 588.00,347.58 586.69,348.50 585.38,349.44 584.07,350.41 582.76,351.40 581.45,352.41 580.14,353.44 578.83,354.50 577.52,355.57 576.21,356.67 574.90,357.79 573.59,358.94 572.28,360.12 570.97,361.34 569.66,362.59 568.35,363.89 567.04,365.22 565.73,366.61 564.42,368.04 563.11,369.53 561.80,371.08 560.49,372.75 559.18,374.58 557.87,376.53 556.56,378.58 555.25,380.68 553.94,382.81 552.63,384.93 551.32,387.01 550.01,389.01 548.70,391.00 547.39,393.01 546.08,395.02 544.77,397.04 543.46,399.05 542.15,401.05 540.84,403.02 539.53,404.96 538.22,406.86 536.91,408.72 535.60,410.52 534.29,412.27 532.98,414.05 531.67,415.84 530.36,417.62 529.05,419.38 527.74,421.10 526.43,422.76 525.12,424.34 523.81,425.82 522.50,427.19 521.19,428.42 519.88,429.50 518.57,430.50 517.26,431.50 515.95,432.44 514.64,433.28 513.33,433.99 512.02,434.51 510.71,434.81 509.40,434.95 508.09,435.05 506.78,435.14 505.47,435.21 504.16,435.30 502.85,435.30 501.54,435.30 500.23,435.30 498.92,435.30 497.61,435.30 496.30,435.30" fill="#f6c8b0" stroke="#e8b8a0" stroke-width="0.3"/>
<polyline points="501.54,434.95 502.85,434.81 504.16,434.48 505.47,433.91 506.78,433.20 508.09,432.43 509.40,431.70 510.71,431.01 512.02,430.30 513.33,429.58 514.64,428.81 515.95,427.99 517.26,427.10 518.57,426.13 519.88,425.05 521.19,423.79 522.50,422.30 523.81,420.61 525.12,418.75 526.43,416.76 527.74,414.68 529.05,412.52 530.36,410.33 531.67,408.15 532.98,405.99 534.29,403.90 535.60,401.90 536.91,399.90 538.22,397.87 539.53,395.82 540.84,393.76 542.15,391.70 543.46,389.63 544.77,387.57 546.08,385.52 547.39,383.49 548.70,381.48 550.01,379.50 551.32,377.53 552.63,375.52 553.94,373.51 555.25,371.50 556.56,369.53 557.87,367.62 559.18,365.78 560.49,364.05 561.80,362.44 563.11,360.91 564.42,359.43 565.73,358.00 567.04,356.60 568.35,355.24 569.66,353.93 570.97,352.66 572.28,351.42 573.59,350.23 574.90,349.07 576.21,347.96 577.52,346.88 578.83,345.84 580.14,344.84 581.45,343.86 582.76,342.90 584.07,341.97 585.38,341.07 586.69,340.19 588.00,339.33 589.31,338.51 590.62,337.71 591.93,336.94 593.24,336.19 594.55,335.48 595.86,334.80 597.17,334.14 598.48,333.50 599.79,332.88 601.10,332.28 602.41,331.69 603.72,331.12 605.03,330.57 606.34,330.03 607.65,329.52 608.96,329.03 610.27,328.56 611.58,328.11 612.89,327.68 614.20,327.28 615.51,326.91 616.82,326.55 618.13,326.22 619.44,325.90 620.75,325.59 622.06,325.29 623.37,325.00 624.68,324.71 625.99,324.42 627.30,324.14 628.61,323.86 629.92,323.58 631.23,323.31 632.54,323.05 633.85,322.79 635.16,322.54 636.47,322.30 637.78,322.07 639.09,321.85 640.40,321.63 641.71,321.43 643.02,321.22 644.33,321.03 645.64,320.83 646.95,320.64 648.26,320.46 649.57,320.28 650.88,320.10 652.19,319.92 653.50,319.75 654.81,319.58 656.12,319.41 657.43,319.25 658.74,319.09 660.05,318.92 661.36,318.76 662.67,318.60 663.98,318.44 665.29,318.28 666.60,318.13 667.91,317.97 669.22,317.81 670.53,317.65 671.84,317.49 673.15,317.33 674.46,317.16 675.77,317.00 677.08,316.83 678.39,316.66 679.70,316.49" fill="none" stroke="#f07a55" stroke-width="2.1" stroke-linejoin="round" stroke-dasharray="4,3.6"/>
<polyline points="496.10,312.20 496.10,435.30 679.70,435.30" fill="none" stroke="#6a6b6e" stroke-width="0.9" stroke-linejoin="round"/>
<polyline points="496.30,435.30 505.03,435.30 513.77,432.46 522.50,428.38 531.23,419.86 539.97,405.41 548.70,388.49 557.43,370.09 566.17,357.00 574.90,345.64 583.63,336.99 592.37,331.31 601.10,327.36 609.83,325.26 618.57,323.90 627.30,323.29 636.03,322.92 644.77,321.43 653.50,320.69 662.23,320.69 670.97,320.69 679.70,320.69" fill="none" stroke="#2a2a2c" stroke-width="1.2" stroke-linejoin="round"/>
<line x1="522.50" y1="423.38" x2="522.50" y2="433.38" stroke="#231f20" stroke-width="1.1"/>
<line x1="531.23" y1="414.86" x2="531.23" y2="424.86" stroke="#231f20" stroke-width="1.1"/>
<line x1="539.97" y1="400.41" x2="539.97" y2="410.41" stroke="#231f20" stroke-width="1.1"/>
<line x1="548.70" y1="383.49" x2="548.70" y2="393.49" stroke="#231f20" stroke-width="1.1"/>
<line x1="557.43" y1="365.09" x2="557.43" y2="375.09" stroke="#231f20" stroke-width="1.1"/>
<line x1="566.17" y1="352.00" x2="566.17" y2="362.00" stroke="#231f20" stroke-width="1.1"/>
<line x1="574.90" y1="340.64" x2="574.90" y2="350.64" stroke="#231f20" stroke-width="1.1"/>
<line x1="583.63" y1="331.99" x2="583.63" y2="341.99" stroke="#231f20" stroke-width="1.1"/>
<line x1="592.37" y1="326.31" x2="592.37" y2="336.31" stroke="#231f20" stroke-width="1.1"/>
<line x1="601.10" y1="322.36" x2="601.10" y2="332.36" stroke="#231f20" stroke-width="1.1"/>
<line x1="609.83" y1="320.26" x2="609.83" y2="330.26" stroke="#231f20" stroke-width="1.1"/>
<line x1="618.57" y1="318.90" x2="618.57" y2="328.90" stroke="#231f20" stroke-width="1.1"/>
<circle cx="496.30" cy="435.30" r="3.0" fill="#a3a8ab" stroke="#4d4f51" stroke-width="0.55"/>
<circle cx="505.03" cy="435.30" r="3.0" fill="#a3a8ab" stroke="#4d4f51" stroke-width="0.55"/>
<circle cx="513.77" cy="432.46" r="3.0" fill="#a3a8ab" stroke="#4d4f51" stroke-width="0.55"/>
<circle cx="522.50" cy="428.38" r="3.0" fill="#a3a8ab" stroke="#4d4f51" stroke-width="0.55"/>
<circle cx="531.23" cy="419.86" r="3.0" fill="#a3a8ab" stroke="#4d4f51" stroke-width="0.55"/>
<circle cx="539.97" cy="405.41" r="3.0" fill="#a3a8ab" stroke="#4d4f51" stroke-width="0.55"/>
<circle cx="548.70" cy="388.49" r="3.0" fill="#a3a8ab" stroke="#4d4f51" stroke-width="0.55"/>
<circle cx="557.43" cy="370.09" r="3.0" fill="#a3a8ab" stroke="#4d4f51" stroke-width="0.55"/>
<circle cx="566.17" cy="357.00" r="3.0" fill="#a3a8ab" stroke="#4d4f51" stroke-width="0.55"/>
<circle cx="574.90" cy="345.64" r="3.0" fill="#a3a8ab" stroke="#4d4f51" stroke-width="0.55"/>
<circle cx="583.63" cy="336.99" r="3.0" fill="#a3a8ab" stroke="#4d4f51" stroke-width="0.55"/>
<circle cx="592.37" cy="331.31" r="3.0" fill="#a3a8ab" stroke="#4d4f51" stroke-width="0.55"/>
<circle cx="601.10" cy="327.36" r="3.0" fill="#a3a8ab" stroke="#4d4f51" stroke-width="0.55"/>
<circle cx="609.83" cy="325.26" r="3.0" fill="#a3a8ab" stroke="#4d4f51" stroke-width="0.55"/>
<circle cx="618.57" cy="323.90" r="3.0" fill="#a3a8ab" stroke="#4d4f51" stroke-width="0.55"/>
<circle cx="627.30" cy="323.29" r="3.0" fill="#a3a8ab" stroke="#4d4f51" stroke-width="0.55"/>
<circle cx="636.03" cy="322.92" r="3.0" fill="#a3a8ab" stroke="#4d4f51" stroke-width="0.55"/>
<circle cx="644.77" cy="321.43" r="3.0" fill="#a3a8ab" stroke="#4d4f51" stroke-width="0.55"/>
<circle cx="653.50" cy="320.69" r="3.0" fill="#a3a8ab" stroke="#4d4f51" stroke-width="0.55"/>
<circle cx="662.23" cy="320.69" r="3.0" fill="#a3a8ab" stroke="#4d4f51" stroke-width="0.55"/>
<circle cx="670.97" cy="320.69" r="3.0" fill="#a3a8ab" stroke="#4d4f51" stroke-width="0.55"/>
<circle cx="679.70" cy="320.69" r="3.0" fill="#a3a8ab" stroke="#4d4f51" stroke-width="0.55"/>
<line x1="496.10" y1="410.60" x2="498.10" y2="410.60" stroke="#6a6b6e" stroke-width="0.6"/>
<line x1="496.10" y1="385.90" x2="498.10" y2="385.90" stroke="#6a6b6e" stroke-width="0.6"/>
<line x1="496.10" y1="361.20" x2="498.10" y2="361.20" stroke="#6a6b6e" stroke-width="0.6"/>
<line x1="496.10" y1="336.50" x2="498.10" y2="336.50" stroke="#6a6b6e" stroke-width="0.6"/>
<line x1="496.10" y1="311.80" x2="498.10" y2="311.80" stroke="#6a6b6e" stroke-width="0.6"/>
<text x="486.4" y="438.90000000000003" font-size="10" fill="#231f20" stroke="#231f20" stroke-width="0.12" text-anchor="middle">0</text>
<text x="486.4" y="414.20000000000005" font-size="10" fill="#231f20" stroke="#231f20" stroke-width="0.12" text-anchor="middle">0.2</text>
<text x="486.4" y="389.5" font-size="10" fill="#231f20" stroke="#231f20" stroke-width="0.12" text-anchor="middle">0.4</text>
<text x="486.4" y="364.80000000000007" font-size="10" fill="#231f20" stroke="#231f20" stroke-width="0.12" text-anchor="middle">0.6</text>
<text x="486.4" y="340.1" font-size="10" fill="#231f20" stroke="#231f20" stroke-width="0.12" text-anchor="middle">0.8</text>
<text x="486.4" y="315.40000000000003" font-size="10" fill="#231f20" stroke="#231f20" stroke-width="0.12" text-anchor="middle">1</text>
<line x1="496.30" y1="435.30" x2="496.30" y2="433.30" stroke="#6a6b6e" stroke-width="0.6"/>
<text x="497.3" y="446.6" font-size="10" fill="#231f20" stroke="#231f20" stroke-width="0.12" text-anchor="middle">0</text>
<line x1="522.50" y1="435.30" x2="522.50" y2="433.30" stroke="#6a6b6e" stroke-width="0.6"/>
<text x="523.5" y="446.6" font-size="10" fill="#231f20" stroke="#231f20" stroke-width="0.12" text-anchor="middle">1</text>
<line x1="548.70" y1="435.30" x2="548.70" y2="433.30" stroke="#6a6b6e" stroke-width="0.6"/>
<text x="549.7" y="446.6" font-size="10" fill="#231f20" stroke="#231f20" stroke-width="0.12" text-anchor="middle">2</text>
<line x1="574.90" y1="435.30" x2="574.90" y2="433.30" stroke="#6a6b6e" stroke-width="0.6"/>
<text x="575.9" y="446.6" font-size="10" fill="#231f20" stroke="#231f20" stroke-width="0.12" text-anchor="middle">3</text>
<line x1="601.10" y1="435.30" x2="601.10" y2="433.30" stroke="#6a6b6e" stroke-width="0.6"/>
<text x="602.1" y="446.6" font-size="10" fill="#231f20" stroke="#231f20" stroke-width="0.12" text-anchor="middle">4</text>
<line x1="627.30" y1="435.30" x2="627.30" y2="433.30" stroke="#6a6b6e" stroke-width="0.6"/>
<text x="628.3" y="446.6" font-size="10" fill="#231f20" stroke="#231f20" stroke-width="0.12" text-anchor="middle">5</text>
<line x1="653.50" y1="435.30" x2="653.50" y2="433.30" stroke="#6a6b6e" stroke-width="0.6"/>
<text x="654.5" y="446.6" font-size="10" fill="#231f20" stroke="#231f20" stroke-width="0.12" text-anchor="middle">6</text>
<line x1="679.70" y1="435.30" x2="679.70" y2="433.30" stroke="#6a6b6e" stroke-width="0.6"/>
<text x="680.7" y="446.6" font-size="10" fill="#231f20" stroke="#231f20" stroke-width="0.12" text-anchor="middle">7</text>
<text x="588.4" y="457" font-size="9" fill="#231f20" stroke="#231f20" stroke-width="0.2" text-anchor="middle" textLength="156.4" lengthAdjust="spacingAndGlyphs">time relative to perturbation (min)</text>
<text x="474.6" y="374.7" font-size="9.5" fill="#231f20" stroke="#231f20" stroke-width="0.2" text-anchor="middle" textLength="88" lengthAdjust="spacingAndGlyphs" transform="rotate(-90 474.6 374.7)">fraction reactivated</text>
<line x1="505.20" y1="321.00" x2="524.80" y2="321.00" stroke="#3a3a3c" stroke-width="1.3"/>
<line x1="515.40" y1="316.70" x2="515.40" y2="325.50" stroke="#231f20" stroke-width="1.0"/>
<circle cx="515.4" cy="321" r="3.0" fill="#a3a8ab" stroke="#58595b" stroke-width="0.5"/>
<text x="532.6" y="324.5" font-size="9" fill="#231f20" stroke="#231f20" stroke-width="0.2" textLength="51.4" lengthAdjust="spacingAndGlyphs">experiment</text>
<line x1="505.20" y1="332.40" x2="524.80" y2="332.40" stroke="#f07a55" stroke-width="2.3" stroke-dasharray="4,4"/>
<text x="532.6" y="335" font-size="9" fill="#231f20" stroke="#231f20" stroke-width="0.2" textLength="40.2" lengthAdjust="spacingAndGlyphs">model fit</text>
<rect x="266.80" y="458.00" width="3.10" height="1.20" fill="#707070" stroke="none" stroke-width="0.8"/>
</svg></body></html>
